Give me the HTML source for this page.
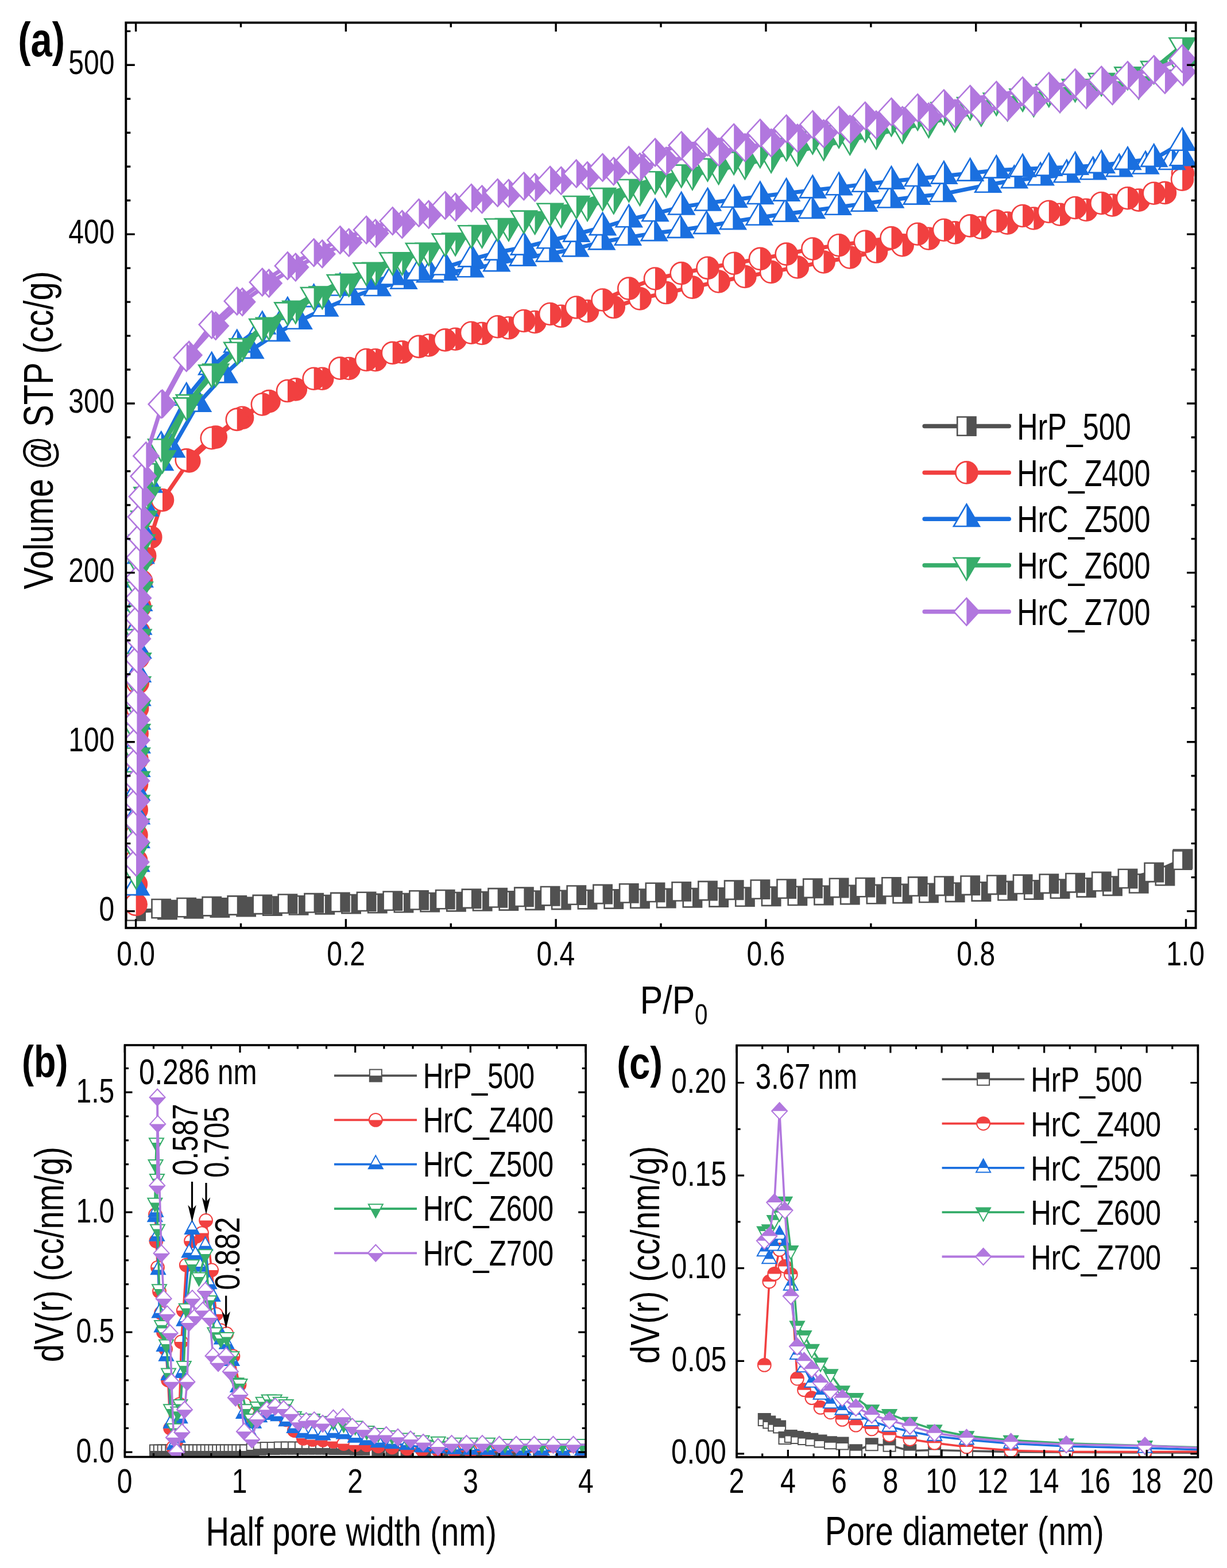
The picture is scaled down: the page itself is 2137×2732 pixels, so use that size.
<!DOCTYPE html><html><head><meta charset="utf-8"><title>Figure</title><style>html,body{margin:0;padding:0;background:#fff;overflow:hidden}svg{display:block}</style></head><body><svg width="2137" height="2732" viewBox="0 0 2137 2732"><rect width="2137" height="2732" fill="#fff"/><clipPath id="ca"><rect x="219.3" y="39.5" width="1863.3" height="1577.3"/></clipPath><g clip-path="url(#ca)"><polyline points="236.6,1587.6 291.47,1585.14 337.19,1583.21 382.91,1581.46 428.63,1579.95 474.36,1578.6 520.08,1577.35 565.8,1576.19 611.52,1575.1 657.25,1574.07 702.97,1573.08 748.69,1572.13 794.41,1571.2 840.14,1570.31 885.86,1569.48 931.58,1568.69 977.3,1567.94 1023.03,1567.2 1068.75,1566.48 1114.47,1565.75 1160.19,1565.02 1205.92,1564.27 1251.64,1563.48 1297.36,1562.65 1343.08,1561.77 1388.81,1560.87 1434.53,1559.95 1480.25,1559.02 1525.97,1558.04 1571.7,1557 1617.42,1555.9 1663.14,1554.71 1708.86,1553.43 1754.59,1552.03 1800.31,1550.46 1846.03,1548.63 1891.75,1546.44 1937.48,1543.7 1983.2,1539.34 2028.92,1526.08 2060.01,1496.64" fill="none" stroke="#515151" stroke-width="7" stroke-linejoin="round" stroke-linecap="round"/><polyline points="2059.1,1498.67 2009.72,1519.94 1964,1530.85 1918.27,1536.03 1872.55,1538.21 1826.83,1539.7 1781.11,1540.79 1735.38,1541.72 1689.66,1542.72 1643.94,1543.69 1598.22,1544.56 1552.49,1545.37 1506.77,1546.15 1461.05,1546.93 1415.33,1547.75 1369.6,1548.63 1323.88,1549.62 1278.16,1550.75 1232.44,1552.02 1186.71,1553.4 1140.99,1554.87 1095.27,1556.42 1049.55,1558 1003.82,1559.61 958.1,1561.21 912.38,1562.79 866.66,1564.32 820.93,1565.77 775.21,1567.12 729.49,1568.4 683.77,1569.63 638.04,1570.83 592.32,1572.05 546.6,1573.31 500.88,1574.64 456.83,1576.02 412.78,1577.52 368.74,1579.23 324.69,1581.13 280.65,1583.13" fill="none" stroke="#515151" stroke-width="7" stroke-linejoin="round" stroke-linecap="round"/><path d="M220.45,1571.45H252.75V1603.75H220.45Z" fill="#fff" stroke="#515151" stroke-width="2.6"/><path d="M236.6,1571.45H252.75V1603.75H236.6Z" fill="#515151"/><path d="M275.32,1568.99H307.62V1601.29H275.32Z" fill="#fff" stroke="#515151" stroke-width="2.6"/><path d="M291.47,1568.99H307.62V1601.29H291.47Z" fill="#515151"/><path d="M321.04,1567.06H353.34V1599.36H321.04Z" fill="#fff" stroke="#515151" stroke-width="2.6"/><path d="M337.19,1567.06H353.34V1599.36H337.19Z" fill="#515151"/><path d="M366.76,1565.31H399.06V1597.61H366.76Z" fill="#fff" stroke="#515151" stroke-width="2.6"/><path d="M382.91,1565.31H399.06V1597.61H382.91Z" fill="#515151"/><path d="M412.48,1563.8H444.78V1596.1H412.48Z" fill="#fff" stroke="#515151" stroke-width="2.6"/><path d="M428.63,1563.8H444.78V1596.1H428.63Z" fill="#515151"/><path d="M458.21,1562.45H490.51V1594.75H458.21Z" fill="#fff" stroke="#515151" stroke-width="2.6"/><path d="M474.36,1562.45H490.51V1594.75H474.36Z" fill="#515151"/><path d="M503.93,1561.2H536.23V1593.5H503.93Z" fill="#fff" stroke="#515151" stroke-width="2.6"/><path d="M520.08,1561.2H536.23V1593.5H520.08Z" fill="#515151"/><path d="M549.65,1560.04H581.95V1592.34H549.65Z" fill="#fff" stroke="#515151" stroke-width="2.6"/><path d="M565.8,1560.04H581.95V1592.34H565.8Z" fill="#515151"/><path d="M595.37,1558.95H627.67V1591.25H595.37Z" fill="#fff" stroke="#515151" stroke-width="2.6"/><path d="M611.52,1558.95H627.67V1591.25H611.52Z" fill="#515151"/><path d="M641.1,1557.92H673.4V1590.22H641.1Z" fill="#fff" stroke="#515151" stroke-width="2.6"/><path d="M657.25,1557.92H673.4V1590.22H657.25Z" fill="#515151"/><path d="M686.82,1556.93H719.12V1589.23H686.82Z" fill="#fff" stroke="#515151" stroke-width="2.6"/><path d="M702.97,1556.93H719.12V1589.23H702.97Z" fill="#515151"/><path d="M732.54,1555.98H764.84V1588.28H732.54Z" fill="#fff" stroke="#515151" stroke-width="2.6"/><path d="M748.69,1555.98H764.84V1588.28H748.69Z" fill="#515151"/><path d="M778.26,1555.05H810.56V1587.35H778.26Z" fill="#fff" stroke="#515151" stroke-width="2.6"/><path d="M794.41,1555.05H810.56V1587.35H794.41Z" fill="#515151"/><path d="M823.99,1554.16H856.29V1586.46H823.99Z" fill="#fff" stroke="#515151" stroke-width="2.6"/><path d="M840.14,1554.16H856.29V1586.46H840.14Z" fill="#515151"/><path d="M869.71,1553.33H902.01V1585.63H869.71Z" fill="#fff" stroke="#515151" stroke-width="2.6"/><path d="M885.86,1553.33H902.01V1585.63H885.86Z" fill="#515151"/><path d="M915.43,1552.54H947.73V1584.84H915.43Z" fill="#fff" stroke="#515151" stroke-width="2.6"/><path d="M931.58,1552.54H947.73V1584.84H931.58Z" fill="#515151"/><path d="M961.15,1551.79H993.45V1584.09H961.15Z" fill="#fff" stroke="#515151" stroke-width="2.6"/><path d="M977.3,1551.79H993.45V1584.09H977.3Z" fill="#515151"/><path d="M1006.88,1551.05H1039.18V1583.35H1006.88Z" fill="#fff" stroke="#515151" stroke-width="2.6"/><path d="M1023.03,1551.05H1039.18V1583.35H1023.03Z" fill="#515151"/><path d="M1052.6,1550.33H1084.9V1582.63H1052.6Z" fill="#fff" stroke="#515151" stroke-width="2.6"/><path d="M1068.75,1550.33H1084.9V1582.63H1068.75Z" fill="#515151"/><path d="M1098.32,1549.6H1130.62V1581.9H1098.32Z" fill="#fff" stroke="#515151" stroke-width="2.6"/><path d="M1114.47,1549.6H1130.62V1581.9H1114.47Z" fill="#515151"/><path d="M1144.04,1548.87H1176.34V1581.17H1144.04Z" fill="#fff" stroke="#515151" stroke-width="2.6"/><path d="M1160.19,1548.87H1176.34V1581.17H1160.19Z" fill="#515151"/><path d="M1189.77,1548.12H1222.07V1580.42H1189.77Z" fill="#fff" stroke="#515151" stroke-width="2.6"/><path d="M1205.92,1548.12H1222.07V1580.42H1205.92Z" fill="#515151"/><path d="M1235.49,1547.33H1267.79V1579.63H1235.49Z" fill="#fff" stroke="#515151" stroke-width="2.6"/><path d="M1251.64,1547.33H1267.79V1579.63H1251.64Z" fill="#515151"/><path d="M1281.21,1546.5H1313.51V1578.8H1281.21Z" fill="#fff" stroke="#515151" stroke-width="2.6"/><path d="M1297.36,1546.5H1313.51V1578.8H1297.36Z" fill="#515151"/><path d="M1326.93,1545.62H1359.23V1577.92H1326.93Z" fill="#fff" stroke="#515151" stroke-width="2.6"/><path d="M1343.08,1545.62H1359.23V1577.92H1343.08Z" fill="#515151"/><path d="M1372.66,1544.72H1404.96V1577.02H1372.66Z" fill="#fff" stroke="#515151" stroke-width="2.6"/><path d="M1388.81,1544.72H1404.96V1577.02H1388.81Z" fill="#515151"/><path d="M1418.38,1543.8H1450.68V1576.1H1418.38Z" fill="#fff" stroke="#515151" stroke-width="2.6"/><path d="M1434.53,1543.8H1450.68V1576.1H1434.53Z" fill="#515151"/><path d="M1464.1,1542.87H1496.4V1575.17H1464.1Z" fill="#fff" stroke="#515151" stroke-width="2.6"/><path d="M1480.25,1542.87H1496.4V1575.17H1480.25Z" fill="#515151"/><path d="M1509.82,1541.89H1542.12V1574.19H1509.82Z" fill="#fff" stroke="#515151" stroke-width="2.6"/><path d="M1525.97,1541.89H1542.12V1574.19H1525.97Z" fill="#515151"/><path d="M1555.55,1540.85H1587.85V1573.15H1555.55Z" fill="#fff" stroke="#515151" stroke-width="2.6"/><path d="M1571.7,1540.85H1587.85V1573.15H1571.7Z" fill="#515151"/><path d="M1601.27,1539.75H1633.57V1572.05H1601.27Z" fill="#fff" stroke="#515151" stroke-width="2.6"/><path d="M1617.42,1539.75H1633.57V1572.05H1617.42Z" fill="#515151"/><path d="M1646.99,1538.56H1679.29V1570.86H1646.99Z" fill="#fff" stroke="#515151" stroke-width="2.6"/><path d="M1663.14,1538.56H1679.29V1570.86H1663.14Z" fill="#515151"/><path d="M1692.71,1537.28H1725.01V1569.58H1692.71Z" fill="#fff" stroke="#515151" stroke-width="2.6"/><path d="M1708.86,1537.28H1725.01V1569.58H1708.86Z" fill="#515151"/><path d="M1738.44,1535.88H1770.74V1568.18H1738.44Z" fill="#fff" stroke="#515151" stroke-width="2.6"/><path d="M1754.59,1535.88H1770.74V1568.18H1754.59Z" fill="#515151"/><path d="M1784.16,1534.31H1816.46V1566.61H1784.16Z" fill="#fff" stroke="#515151" stroke-width="2.6"/><path d="M1800.31,1534.31H1816.46V1566.61H1800.31Z" fill="#515151"/><path d="M1829.88,1532.48H1862.18V1564.78H1829.88Z" fill="#fff" stroke="#515151" stroke-width="2.6"/><path d="M1846.03,1532.48H1862.18V1564.78H1846.03Z" fill="#515151"/><path d="M1875.6,1530.29H1907.9V1562.59H1875.6Z" fill="#fff" stroke="#515151" stroke-width="2.6"/><path d="M1891.75,1530.29H1907.9V1562.59H1891.75Z" fill="#515151"/><path d="M1921.33,1527.55H1953.63V1559.85H1921.33Z" fill="#fff" stroke="#515151" stroke-width="2.6"/><path d="M1937.48,1527.55H1953.63V1559.85H1937.48Z" fill="#515151"/><path d="M1967.05,1523.19H1999.35V1555.49H1967.05Z" fill="#fff" stroke="#515151" stroke-width="2.6"/><path d="M1983.2,1523.19H1999.35V1555.49H1983.2Z" fill="#515151"/><path d="M2012.77,1509.93H2045.07V1542.23H2012.77Z" fill="#fff" stroke="#515151" stroke-width="2.6"/><path d="M2028.92,1509.93H2045.07V1542.23H2028.92Z" fill="#515151"/><path d="M2043.86,1480.49H2076.16V1512.79H2043.86Z" fill="#fff" stroke="#515151" stroke-width="2.6"/><path d="M2060.01,1480.49H2076.16V1512.79H2060.01Z" fill="#515151"/><path d="M2042.95,1482.52H2075.25V1514.82H2042.95Z" fill="#fff" stroke="#515151" stroke-width="2.6"/><path d="M2059.1,1482.52H2075.25V1514.82H2059.1Z" fill="#515151"/><path d="M1993.57,1503.79H2025.87V1536.09H1993.57Z" fill="#fff" stroke="#515151" stroke-width="2.6"/><path d="M2009.72,1503.79H2025.87V1536.09H2009.72Z" fill="#515151"/><path d="M1947.85,1514.7H1980.15V1547H1947.85Z" fill="#fff" stroke="#515151" stroke-width="2.6"/><path d="M1964,1514.7H1980.15V1547H1964Z" fill="#515151"/><path d="M1902.12,1519.88H1934.42V1552.18H1902.12Z" fill="#fff" stroke="#515151" stroke-width="2.6"/><path d="M1918.27,1519.88H1934.42V1552.18H1918.27Z" fill="#515151"/><path d="M1856.4,1522.06H1888.7V1554.36H1856.4Z" fill="#fff" stroke="#515151" stroke-width="2.6"/><path d="M1872.55,1522.06H1888.7V1554.36H1872.55Z" fill="#515151"/><path d="M1810.68,1523.55H1842.98V1555.85H1810.68Z" fill="#fff" stroke="#515151" stroke-width="2.6"/><path d="M1826.83,1523.55H1842.98V1555.85H1826.83Z" fill="#515151"/><path d="M1764.96,1524.64H1797.26V1556.94H1764.96Z" fill="#fff" stroke="#515151" stroke-width="2.6"/><path d="M1781.11,1524.64H1797.26V1556.94H1781.11Z" fill="#515151"/><path d="M1719.23,1525.57H1751.53V1557.87H1719.23Z" fill="#fff" stroke="#515151" stroke-width="2.6"/><path d="M1735.38,1525.57H1751.53V1557.87H1735.38Z" fill="#515151"/><path d="M1673.51,1526.57H1705.81V1558.87H1673.51Z" fill="#fff" stroke="#515151" stroke-width="2.6"/><path d="M1689.66,1526.57H1705.81V1558.87H1689.66Z" fill="#515151"/><path d="M1627.79,1527.54H1660.09V1559.84H1627.79Z" fill="#fff" stroke="#515151" stroke-width="2.6"/><path d="M1643.94,1527.54H1660.09V1559.84H1643.94Z" fill="#515151"/><path d="M1582.07,1528.41H1614.37V1560.71H1582.07Z" fill="#fff" stroke="#515151" stroke-width="2.6"/><path d="M1598.22,1528.41H1614.37V1560.71H1598.22Z" fill="#515151"/><path d="M1536.34,1529.22H1568.64V1561.52H1536.34Z" fill="#fff" stroke="#515151" stroke-width="2.6"/><path d="M1552.49,1529.22H1568.64V1561.52H1552.49Z" fill="#515151"/><path d="M1490.62,1530H1522.92V1562.3H1490.62Z" fill="#fff" stroke="#515151" stroke-width="2.6"/><path d="M1506.77,1530H1522.92V1562.3H1506.77Z" fill="#515151"/><path d="M1444.9,1530.78H1477.2V1563.08H1444.9Z" fill="#fff" stroke="#515151" stroke-width="2.6"/><path d="M1461.05,1530.78H1477.2V1563.08H1461.05Z" fill="#515151"/><path d="M1399.18,1531.6H1431.48V1563.9H1399.18Z" fill="#fff" stroke="#515151" stroke-width="2.6"/><path d="M1415.33,1531.6H1431.48V1563.9H1415.33Z" fill="#515151"/><path d="M1353.45,1532.48H1385.75V1564.78H1353.45Z" fill="#fff" stroke="#515151" stroke-width="2.6"/><path d="M1369.6,1532.48H1385.75V1564.78H1369.6Z" fill="#515151"/><path d="M1307.73,1533.47H1340.03V1565.77H1307.73Z" fill="#fff" stroke="#515151" stroke-width="2.6"/><path d="M1323.88,1533.47H1340.03V1565.77H1323.88Z" fill="#515151"/><path d="M1262.01,1534.6H1294.31V1566.9H1262.01Z" fill="#fff" stroke="#515151" stroke-width="2.6"/><path d="M1278.16,1534.6H1294.31V1566.9H1278.16Z" fill="#515151"/><path d="M1216.29,1535.87H1248.59V1568.17H1216.29Z" fill="#fff" stroke="#515151" stroke-width="2.6"/><path d="M1232.44,1535.87H1248.59V1568.17H1232.44Z" fill="#515151"/><path d="M1170.56,1537.25H1202.86V1569.55H1170.56Z" fill="#fff" stroke="#515151" stroke-width="2.6"/><path d="M1186.71,1537.25H1202.86V1569.55H1186.71Z" fill="#515151"/><path d="M1124.84,1538.72H1157.14V1571.02H1124.84Z" fill="#fff" stroke="#515151" stroke-width="2.6"/><path d="M1140.99,1538.72H1157.14V1571.02H1140.99Z" fill="#515151"/><path d="M1079.12,1540.27H1111.42V1572.57H1079.12Z" fill="#fff" stroke="#515151" stroke-width="2.6"/><path d="M1095.27,1540.27H1111.42V1572.57H1095.27Z" fill="#515151"/><path d="M1033.4,1541.85H1065.7V1574.15H1033.4Z" fill="#fff" stroke="#515151" stroke-width="2.6"/><path d="M1049.55,1541.85H1065.7V1574.15H1049.55Z" fill="#515151"/><path d="M987.67,1543.46H1019.97V1575.76H987.67Z" fill="#fff" stroke="#515151" stroke-width="2.6"/><path d="M1003.82,1543.46H1019.97V1575.76H1003.82Z" fill="#515151"/><path d="M941.95,1545.06H974.25V1577.36H941.95Z" fill="#fff" stroke="#515151" stroke-width="2.6"/><path d="M958.1,1545.06H974.25V1577.36H958.1Z" fill="#515151"/><path d="M896.23,1546.64H928.53V1578.94H896.23Z" fill="#fff" stroke="#515151" stroke-width="2.6"/><path d="M912.38,1546.64H928.53V1578.94H912.38Z" fill="#515151"/><path d="M850.51,1548.17H882.81V1580.47H850.51Z" fill="#fff" stroke="#515151" stroke-width="2.6"/><path d="M866.66,1548.17H882.81V1580.47H866.66Z" fill="#515151"/><path d="M804.78,1549.62H837.08V1581.92H804.78Z" fill="#fff" stroke="#515151" stroke-width="2.6"/><path d="M820.93,1549.62H837.08V1581.92H820.93Z" fill="#515151"/><path d="M759.06,1550.97H791.36V1583.27H759.06Z" fill="#fff" stroke="#515151" stroke-width="2.6"/><path d="M775.21,1550.97H791.36V1583.27H775.21Z" fill="#515151"/><path d="M713.34,1552.25H745.64V1584.55H713.34Z" fill="#fff" stroke="#515151" stroke-width="2.6"/><path d="M729.49,1552.25H745.64V1584.55H729.49Z" fill="#515151"/><path d="M667.62,1553.48H699.92V1585.78H667.62Z" fill="#fff" stroke="#515151" stroke-width="2.6"/><path d="M683.77,1553.48H699.92V1585.78H683.77Z" fill="#515151"/><path d="M621.89,1554.68H654.19V1586.98H621.89Z" fill="#fff" stroke="#515151" stroke-width="2.6"/><path d="M638.04,1554.68H654.19V1586.98H638.04Z" fill="#515151"/><path d="M576.17,1555.9H608.47V1588.2H576.17Z" fill="#fff" stroke="#515151" stroke-width="2.6"/><path d="M592.32,1555.9H608.47V1588.2H592.32Z" fill="#515151"/><path d="M530.45,1557.16H562.75V1589.46H530.45Z" fill="#fff" stroke="#515151" stroke-width="2.6"/><path d="M546.6,1557.16H562.75V1589.46H546.6Z" fill="#515151"/><path d="M484.73,1558.49H517.03V1590.79H484.73Z" fill="#fff" stroke="#515151" stroke-width="2.6"/><path d="M500.88,1558.49H517.03V1590.79H500.88Z" fill="#515151"/><path d="M440.68,1559.87H472.98V1592.17H440.68Z" fill="#fff" stroke="#515151" stroke-width="2.6"/><path d="M456.83,1559.87H472.98V1592.17H456.83Z" fill="#515151"/><path d="M396.63,1561.37H428.93V1593.67H396.63Z" fill="#fff" stroke="#515151" stroke-width="2.6"/><path d="M412.78,1561.37H428.93V1593.67H412.78Z" fill="#515151"/><path d="M352.59,1563.08H384.89V1595.38H352.59Z" fill="#fff" stroke="#515151" stroke-width="2.6"/><path d="M368.74,1563.08H384.89V1595.38H368.74Z" fill="#515151"/><path d="M308.54,1564.98H340.84V1597.28H308.54Z" fill="#fff" stroke="#515151" stroke-width="2.6"/><path d="M324.69,1564.98H340.84V1597.28H324.69Z" fill="#515151"/><path d="M264.5,1566.98H296.8V1599.28H264.5Z" fill="#fff" stroke="#515151" stroke-width="2.6"/><path d="M280.65,1566.98H296.8V1599.28H280.65Z" fill="#515151"/><polyline points="236.67,1575.81 236.88,1540.42 237.14,1499.14 237.43,1454.91 237.7,1410.68 237.98,1366.45 238.28,1322.23 238.64,1278 239.17,1233.77 239.79,1189.54 240.54,1145.31 241.58,1101.08 243.43,1056.85 246.18,1012.62 252.21,968.39 262.3,935.96 282.98,871.34 329.35,803.35 375.73,761.58 422.1,727.8 468.48,699.13 514.85,678.33 561.23,659.77 607.61,641.96 653.98,627.18 700.36,613.39 746.73,601.52 793.11,590.71 839.48,580.99 885.86,571.32 931.58,561 977.3,550.79 1023.03,541.95 1068.75,535.05 1114.47,520.36 1160.19,510.04 1205.92,500.61 1251.64,490.5 1297.36,481.97 1343.08,473.92 1388.81,465.43 1434.53,456.49 1480.25,448.46 1525.97,438.54 1571.7,427.24 1617.42,415.77 1663.14,405.36 1708.86,396.63 1754.59,388.63 1800.31,380.47 1846.03,373.69 1891.75,365.7 1937.48,357.44 1983.2,348.6 2028.92,335.92 2060.01,302.01" fill="none" stroke="#F14040" stroke-width="7" stroke-linejoin="round" stroke-linecap="round"/><polyline points="2059.1,312.62 2009.72,336.7 1964,345.2 1918.27,353.93 1872.55,361.93 1826.83,368.72 1781.11,375.96 1735.38,385.13 1689.66,393.4 1643.94,400.77 1598.22,407.73 1552.49,414.39 1506.77,420.87 1461.05,427.27 1415.33,433.46 1369.6,442.66 1323.88,450.9 1278.16,458.74 1232.44,466.8 1186.71,476.17 1140.99,485.52 1095.27,502.64 1049.55,522.47 1003.82,535.53 958.1,547.01 912.38,559.01 866.66,569.25 820.93,579.75 775.21,592.35 729.49,603.84 683.77,614.88 638.04,626.99 592.32,641.67 546.6,659.73 500.88,681.04 456.83,704.52 412.78,730.85 368.74,763.23 324.69,801.35" fill="none" stroke="#F14040" stroke-width="7" stroke-linejoin="round" stroke-linecap="round"/><path d="M217.67,1575.81A19,19 0 1 1 255.67,1575.81A19,19 0 1 1 217.67,1575.81Z" fill="#fff" stroke="#F14040" stroke-width="2.6"/><path d="M236.67,1556.81A19,19 0 0 1 236.67,1594.81Z" fill="#F14040"/><path d="M217.88,1540.42A19,19 0 1 1 255.88,1540.42A19,19 0 1 1 217.88,1540.42Z" fill="#fff" stroke="#F14040" stroke-width="2.6"/><path d="M236.88,1521.42A19,19 0 0 1 236.88,1559.42Z" fill="#F14040"/><path d="M218.14,1499.14A19,19 0 1 1 256.14,1499.14A19,19 0 1 1 218.14,1499.14Z" fill="#fff" stroke="#F14040" stroke-width="2.6"/><path d="M237.14,1480.14A19,19 0 0 1 237.14,1518.14Z" fill="#F14040"/><path d="M218.43,1454.91A19,19 0 1 1 256.43,1454.91A19,19 0 1 1 218.43,1454.91Z" fill="#fff" stroke="#F14040" stroke-width="2.6"/><path d="M237.43,1435.91A19,19 0 0 1 237.43,1473.91Z" fill="#F14040"/><path d="M218.7,1410.68A19,19 0 1 1 256.7,1410.68A19,19 0 1 1 218.7,1410.68Z" fill="#fff" stroke="#F14040" stroke-width="2.6"/><path d="M237.7,1391.68A19,19 0 0 1 237.7,1429.68Z" fill="#F14040"/><path d="M218.98,1366.45A19,19 0 1 1 256.98,1366.45A19,19 0 1 1 218.98,1366.45Z" fill="#fff" stroke="#F14040" stroke-width="2.6"/><path d="M237.98,1347.45A19,19 0 0 1 237.98,1385.45Z" fill="#F14040"/><path d="M219.28,1322.23A19,19 0 1 1 257.28,1322.23A19,19 0 1 1 219.28,1322.23Z" fill="#fff" stroke="#F14040" stroke-width="2.6"/><path d="M238.28,1303.23A19,19 0 0 1 238.28,1341.23Z" fill="#F14040"/><path d="M219.64,1278A19,19 0 1 1 257.64,1278A19,19 0 1 1 219.64,1278Z" fill="#fff" stroke="#F14040" stroke-width="2.6"/><path d="M238.64,1259A19,19 0 0 1 238.64,1297Z" fill="#F14040"/><path d="M220.17,1233.77A19,19 0 1 1 258.17,1233.77A19,19 0 1 1 220.17,1233.77Z" fill="#fff" stroke="#F14040" stroke-width="2.6"/><path d="M239.17,1214.77A19,19 0 0 1 239.17,1252.77Z" fill="#F14040"/><path d="M220.79,1189.54A19,19 0 1 1 258.79,1189.54A19,19 0 1 1 220.79,1189.54Z" fill="#fff" stroke="#F14040" stroke-width="2.6"/><path d="M239.79,1170.54A19,19 0 0 1 239.79,1208.54Z" fill="#F14040"/><path d="M221.54,1145.31A19,19 0 1 1 259.54,1145.31A19,19 0 1 1 221.54,1145.31Z" fill="#fff" stroke="#F14040" stroke-width="2.6"/><path d="M240.54,1126.31A19,19 0 0 1 240.54,1164.31Z" fill="#F14040"/><path d="M222.58,1101.08A19,19 0 1 1 260.58,1101.08A19,19 0 1 1 222.58,1101.08Z" fill="#fff" stroke="#F14040" stroke-width="2.6"/><path d="M241.58,1082.08A19,19 0 0 1 241.58,1120.08Z" fill="#F14040"/><path d="M224.43,1056.85A19,19 0 1 1 262.43,1056.85A19,19 0 1 1 224.43,1056.85Z" fill="#fff" stroke="#F14040" stroke-width="2.6"/><path d="M243.43,1037.85A19,19 0 0 1 243.43,1075.85Z" fill="#F14040"/><path d="M227.18,1012.62A19,19 0 1 1 265.18,1012.62A19,19 0 1 1 227.18,1012.62Z" fill="#fff" stroke="#F14040" stroke-width="2.6"/><path d="M246.18,993.62A19,19 0 0 1 246.18,1031.62Z" fill="#F14040"/><path d="M233.21,968.39A19,19 0 1 1 271.21,968.39A19,19 0 1 1 233.21,968.39Z" fill="#fff" stroke="#F14040" stroke-width="2.6"/><path d="M252.21,949.39A19,19 0 0 1 252.21,987.39Z" fill="#F14040"/><path d="M243.3,935.96A19,19 0 1 1 281.3,935.96A19,19 0 1 1 243.3,935.96Z" fill="#fff" stroke="#F14040" stroke-width="2.6"/><path d="M262.3,916.96A19,19 0 0 1 262.3,954.96Z" fill="#F14040"/><path d="M263.98,871.34A19,19 0 1 1 301.98,871.34A19,19 0 1 1 263.98,871.34Z" fill="#fff" stroke="#F14040" stroke-width="2.6"/><path d="M282.98,852.34A19,19 0 0 1 282.98,890.34Z" fill="#F14040"/><path d="M310.35,803.35A19,19 0 1 1 348.35,803.35A19,19 0 1 1 310.35,803.35Z" fill="#fff" stroke="#F14040" stroke-width="2.6"/><path d="M329.35,784.35A19,19 0 0 1 329.35,822.35Z" fill="#F14040"/><path d="M356.73,761.58A19,19 0 1 1 394.73,761.58A19,19 0 1 1 356.73,761.58Z" fill="#fff" stroke="#F14040" stroke-width="2.6"/><path d="M375.73,742.58A19,19 0 0 1 375.73,780.58Z" fill="#F14040"/><path d="M403.1,727.8A19,19 0 1 1 441.1,727.8A19,19 0 1 1 403.1,727.8Z" fill="#fff" stroke="#F14040" stroke-width="2.6"/><path d="M422.1,708.8A19,19 0 0 1 422.1,746.8Z" fill="#F14040"/><path d="M449.48,699.13A19,19 0 1 1 487.48,699.13A19,19 0 1 1 449.48,699.13Z" fill="#fff" stroke="#F14040" stroke-width="2.6"/><path d="M468.48,680.13A19,19 0 0 1 468.48,718.13Z" fill="#F14040"/><path d="M495.85,678.33A19,19 0 1 1 533.85,678.33A19,19 0 1 1 495.85,678.33Z" fill="#fff" stroke="#F14040" stroke-width="2.6"/><path d="M514.85,659.33A19,19 0 0 1 514.85,697.33Z" fill="#F14040"/><path d="M542.23,659.77A19,19 0 1 1 580.23,659.77A19,19 0 1 1 542.23,659.77Z" fill="#fff" stroke="#F14040" stroke-width="2.6"/><path d="M561.23,640.77A19,19 0 0 1 561.23,678.77Z" fill="#F14040"/><path d="M588.61,641.96A19,19 0 1 1 626.61,641.96A19,19 0 1 1 588.61,641.96Z" fill="#fff" stroke="#F14040" stroke-width="2.6"/><path d="M607.61,622.96A19,19 0 0 1 607.61,660.96Z" fill="#F14040"/><path d="M634.98,627.18A19,19 0 1 1 672.98,627.18A19,19 0 1 1 634.98,627.18Z" fill="#fff" stroke="#F14040" stroke-width="2.6"/><path d="M653.98,608.18A19,19 0 0 1 653.98,646.18Z" fill="#F14040"/><path d="M681.36,613.39A19,19 0 1 1 719.36,613.39A19,19 0 1 1 681.36,613.39Z" fill="#fff" stroke="#F14040" stroke-width="2.6"/><path d="M700.36,594.39A19,19 0 0 1 700.36,632.39Z" fill="#F14040"/><path d="M727.73,601.52A19,19 0 1 1 765.73,601.52A19,19 0 1 1 727.73,601.52Z" fill="#fff" stroke="#F14040" stroke-width="2.6"/><path d="M746.73,582.52A19,19 0 0 1 746.73,620.52Z" fill="#F14040"/><path d="M774.11,590.71A19,19 0 1 1 812.11,590.71A19,19 0 1 1 774.11,590.71Z" fill="#fff" stroke="#F14040" stroke-width="2.6"/><path d="M793.11,571.71A19,19 0 0 1 793.11,609.71Z" fill="#F14040"/><path d="M820.48,580.99A19,19 0 1 1 858.48,580.99A19,19 0 1 1 820.48,580.99Z" fill="#fff" stroke="#F14040" stroke-width="2.6"/><path d="M839.48,561.99A19,19 0 0 1 839.48,599.99Z" fill="#F14040"/><path d="M866.86,571.32A19,19 0 1 1 904.86,571.32A19,19 0 1 1 866.86,571.32Z" fill="#fff" stroke="#F14040" stroke-width="2.6"/><path d="M885.86,552.32A19,19 0 0 1 885.86,590.32Z" fill="#F14040"/><path d="M912.58,561A19,19 0 1 1 950.58,561A19,19 0 1 1 912.58,561Z" fill="#fff" stroke="#F14040" stroke-width="2.6"/><path d="M931.58,542A19,19 0 0 1 931.58,580Z" fill="#F14040"/><path d="M958.3,550.79A19,19 0 1 1 996.3,550.79A19,19 0 1 1 958.3,550.79Z" fill="#fff" stroke="#F14040" stroke-width="2.6"/><path d="M977.3,531.79A19,19 0 0 1 977.3,569.79Z" fill="#F14040"/><path d="M1004.03,541.95A19,19 0 1 1 1042.03,541.95A19,19 0 1 1 1004.03,541.95Z" fill="#fff" stroke="#F14040" stroke-width="2.6"/><path d="M1023.03,522.95A19,19 0 0 1 1023.03,560.95Z" fill="#F14040"/><path d="M1049.75,535.05A19,19 0 1 1 1087.75,535.05A19,19 0 1 1 1049.75,535.05Z" fill="#fff" stroke="#F14040" stroke-width="2.6"/><path d="M1068.75,516.05A19,19 0 0 1 1068.75,554.05Z" fill="#F14040"/><path d="M1095.47,520.36A19,19 0 1 1 1133.47,520.36A19,19 0 1 1 1095.47,520.36Z" fill="#fff" stroke="#F14040" stroke-width="2.6"/><path d="M1114.47,501.36A19,19 0 0 1 1114.47,539.36Z" fill="#F14040"/><path d="M1141.19,510.04A19,19 0 1 1 1179.19,510.04A19,19 0 1 1 1141.19,510.04Z" fill="#fff" stroke="#F14040" stroke-width="2.6"/><path d="M1160.19,491.04A19,19 0 0 1 1160.19,529.04Z" fill="#F14040"/><path d="M1186.92,500.61A19,19 0 1 1 1224.92,500.61A19,19 0 1 1 1186.92,500.61Z" fill="#fff" stroke="#F14040" stroke-width="2.6"/><path d="M1205.92,481.61A19,19 0 0 1 1205.92,519.61Z" fill="#F14040"/><path d="M1232.64,490.5A19,19 0 1 1 1270.64,490.5A19,19 0 1 1 1232.64,490.5Z" fill="#fff" stroke="#F14040" stroke-width="2.6"/><path d="M1251.64,471.5A19,19 0 0 1 1251.64,509.5Z" fill="#F14040"/><path d="M1278.36,481.97A19,19 0 1 1 1316.36,481.97A19,19 0 1 1 1278.36,481.97Z" fill="#fff" stroke="#F14040" stroke-width="2.6"/><path d="M1297.36,462.97A19,19 0 0 1 1297.36,500.97Z" fill="#F14040"/><path d="M1324.08,473.92A19,19 0 1 1 1362.08,473.92A19,19 0 1 1 1324.08,473.92Z" fill="#fff" stroke="#F14040" stroke-width="2.6"/><path d="M1343.08,454.92A19,19 0 0 1 1343.08,492.92Z" fill="#F14040"/><path d="M1369.81,465.43A19,19 0 1 1 1407.81,465.43A19,19 0 1 1 1369.81,465.43Z" fill="#fff" stroke="#F14040" stroke-width="2.6"/><path d="M1388.81,446.43A19,19 0 0 1 1388.81,484.43Z" fill="#F14040"/><path d="M1415.53,456.49A19,19 0 1 1 1453.53,456.49A19,19 0 1 1 1415.53,456.49Z" fill="#fff" stroke="#F14040" stroke-width="2.6"/><path d="M1434.53,437.49A19,19 0 0 1 1434.53,475.49Z" fill="#F14040"/><path d="M1461.25,448.46A19,19 0 1 1 1499.25,448.46A19,19 0 1 1 1461.25,448.46Z" fill="#fff" stroke="#F14040" stroke-width="2.6"/><path d="M1480.25,429.46A19,19 0 0 1 1480.25,467.46Z" fill="#F14040"/><path d="M1506.97,438.54A19,19 0 1 1 1544.97,438.54A19,19 0 1 1 1506.97,438.54Z" fill="#fff" stroke="#F14040" stroke-width="2.6"/><path d="M1525.97,419.54A19,19 0 0 1 1525.97,457.54Z" fill="#F14040"/><path d="M1552.7,427.24A19,19 0 1 1 1590.7,427.24A19,19 0 1 1 1552.7,427.24Z" fill="#fff" stroke="#F14040" stroke-width="2.6"/><path d="M1571.7,408.24A19,19 0 0 1 1571.7,446.24Z" fill="#F14040"/><path d="M1598.42,415.77A19,19 0 1 1 1636.42,415.77A19,19 0 1 1 1598.42,415.77Z" fill="#fff" stroke="#F14040" stroke-width="2.6"/><path d="M1617.42,396.77A19,19 0 0 1 1617.42,434.77Z" fill="#F14040"/><path d="M1644.14,405.36A19,19 0 1 1 1682.14,405.36A19,19 0 1 1 1644.14,405.36Z" fill="#fff" stroke="#F14040" stroke-width="2.6"/><path d="M1663.14,386.36A19,19 0 0 1 1663.14,424.36Z" fill="#F14040"/><path d="M1689.86,396.63A19,19 0 1 1 1727.86,396.63A19,19 0 1 1 1689.86,396.63Z" fill="#fff" stroke="#F14040" stroke-width="2.6"/><path d="M1708.86,377.63A19,19 0 0 1 1708.86,415.63Z" fill="#F14040"/><path d="M1735.59,388.63A19,19 0 1 1 1773.59,388.63A19,19 0 1 1 1735.59,388.63Z" fill="#fff" stroke="#F14040" stroke-width="2.6"/><path d="M1754.59,369.63A19,19 0 0 1 1754.59,407.63Z" fill="#F14040"/><path d="M1781.31,380.47A19,19 0 1 1 1819.31,380.47A19,19 0 1 1 1781.31,380.47Z" fill="#fff" stroke="#F14040" stroke-width="2.6"/><path d="M1800.31,361.47A19,19 0 0 1 1800.31,399.47Z" fill="#F14040"/><path d="M1827.03,373.69A19,19 0 1 1 1865.03,373.69A19,19 0 1 1 1827.03,373.69Z" fill="#fff" stroke="#F14040" stroke-width="2.6"/><path d="M1846.03,354.69A19,19 0 0 1 1846.03,392.69Z" fill="#F14040"/><path d="M1872.75,365.7A19,19 0 1 1 1910.75,365.7A19,19 0 1 1 1872.75,365.7Z" fill="#fff" stroke="#F14040" stroke-width="2.6"/><path d="M1891.75,346.7A19,19 0 0 1 1891.75,384.7Z" fill="#F14040"/><path d="M1918.48,357.44A19,19 0 1 1 1956.48,357.44A19,19 0 1 1 1918.48,357.44Z" fill="#fff" stroke="#F14040" stroke-width="2.6"/><path d="M1937.48,338.44A19,19 0 0 1 1937.48,376.44Z" fill="#F14040"/><path d="M1964.2,348.6A19,19 0 1 1 2002.2,348.6A19,19 0 1 1 1964.2,348.6Z" fill="#fff" stroke="#F14040" stroke-width="2.6"/><path d="M1983.2,329.6A19,19 0 0 1 1983.2,367.6Z" fill="#F14040"/><path d="M2009.92,335.92A19,19 0 1 1 2047.92,335.92A19,19 0 1 1 2009.92,335.92Z" fill="#fff" stroke="#F14040" stroke-width="2.6"/><path d="M2028.92,316.92A19,19 0 0 1 2028.92,354.92Z" fill="#F14040"/><path d="M2041.01,302.01A19,19 0 1 1 2079.01,302.01A19,19 0 1 1 2041.01,302.01Z" fill="#fff" stroke="#F14040" stroke-width="2.6"/><path d="M2060.01,283.01A19,19 0 0 1 2060.01,321.01Z" fill="#F14040"/><path d="M2040.1,312.62A19,19 0 1 1 2078.1,312.62A19,19 0 1 1 2040.1,312.62Z" fill="#fff" stroke="#F14040" stroke-width="2.6"/><path d="M2059.1,293.62A19,19 0 0 1 2059.1,331.62Z" fill="#F14040"/><path d="M1990.72,336.7A19,19 0 1 1 2028.72,336.7A19,19 0 1 1 1990.72,336.7Z" fill="#fff" stroke="#F14040" stroke-width="2.6"/><path d="M2009.72,317.7A19,19 0 0 1 2009.72,355.7Z" fill="#F14040"/><path d="M1945,345.2A19,19 0 1 1 1983,345.2A19,19 0 1 1 1945,345.2Z" fill="#fff" stroke="#F14040" stroke-width="2.6"/><path d="M1964,326.2A19,19 0 0 1 1964,364.2Z" fill="#F14040"/><path d="M1899.27,353.93A19,19 0 1 1 1937.27,353.93A19,19 0 1 1 1899.27,353.93Z" fill="#fff" stroke="#F14040" stroke-width="2.6"/><path d="M1918.27,334.93A19,19 0 0 1 1918.27,372.93Z" fill="#F14040"/><path d="M1853.55,361.93A19,19 0 1 1 1891.55,361.93A19,19 0 1 1 1853.55,361.93Z" fill="#fff" stroke="#F14040" stroke-width="2.6"/><path d="M1872.55,342.93A19,19 0 0 1 1872.55,380.93Z" fill="#F14040"/><path d="M1807.83,368.72A19,19 0 1 1 1845.83,368.72A19,19 0 1 1 1807.83,368.72Z" fill="#fff" stroke="#F14040" stroke-width="2.6"/><path d="M1826.83,349.72A19,19 0 0 1 1826.83,387.72Z" fill="#F14040"/><path d="M1762.11,375.96A19,19 0 1 1 1800.11,375.96A19,19 0 1 1 1762.11,375.96Z" fill="#fff" stroke="#F14040" stroke-width="2.6"/><path d="M1781.11,356.96A19,19 0 0 1 1781.11,394.96Z" fill="#F14040"/><path d="M1716.38,385.13A19,19 0 1 1 1754.38,385.13A19,19 0 1 1 1716.38,385.13Z" fill="#fff" stroke="#F14040" stroke-width="2.6"/><path d="M1735.38,366.13A19,19 0 0 1 1735.38,404.13Z" fill="#F14040"/><path d="M1670.66,393.4A19,19 0 1 1 1708.66,393.4A19,19 0 1 1 1670.66,393.4Z" fill="#fff" stroke="#F14040" stroke-width="2.6"/><path d="M1689.66,374.4A19,19 0 0 1 1689.66,412.4Z" fill="#F14040"/><path d="M1624.94,400.77A19,19 0 1 1 1662.94,400.77A19,19 0 1 1 1624.94,400.77Z" fill="#fff" stroke="#F14040" stroke-width="2.6"/><path d="M1643.94,381.77A19,19 0 0 1 1643.94,419.77Z" fill="#F14040"/><path d="M1579.22,407.73A19,19 0 1 1 1617.22,407.73A19,19 0 1 1 1579.22,407.73Z" fill="#fff" stroke="#F14040" stroke-width="2.6"/><path d="M1598.22,388.73A19,19 0 0 1 1598.22,426.73Z" fill="#F14040"/><path d="M1533.49,414.39A19,19 0 1 1 1571.49,414.39A19,19 0 1 1 1533.49,414.39Z" fill="#fff" stroke="#F14040" stroke-width="2.6"/><path d="M1552.49,395.39A19,19 0 0 1 1552.49,433.39Z" fill="#F14040"/><path d="M1487.77,420.87A19,19 0 1 1 1525.77,420.87A19,19 0 1 1 1487.77,420.87Z" fill="#fff" stroke="#F14040" stroke-width="2.6"/><path d="M1506.77,401.87A19,19 0 0 1 1506.77,439.87Z" fill="#F14040"/><path d="M1442.05,427.27A19,19 0 1 1 1480.05,427.27A19,19 0 1 1 1442.05,427.27Z" fill="#fff" stroke="#F14040" stroke-width="2.6"/><path d="M1461.05,408.27A19,19 0 0 1 1461.05,446.27Z" fill="#F14040"/><path d="M1396.33,433.46A19,19 0 1 1 1434.33,433.46A19,19 0 1 1 1396.33,433.46Z" fill="#fff" stroke="#F14040" stroke-width="2.6"/><path d="M1415.33,414.46A19,19 0 0 1 1415.33,452.46Z" fill="#F14040"/><path d="M1350.6,442.66A19,19 0 1 1 1388.6,442.66A19,19 0 1 1 1350.6,442.66Z" fill="#fff" stroke="#F14040" stroke-width="2.6"/><path d="M1369.6,423.66A19,19 0 0 1 1369.6,461.66Z" fill="#F14040"/><path d="M1304.88,450.9A19,19 0 1 1 1342.88,450.9A19,19 0 1 1 1304.88,450.9Z" fill="#fff" stroke="#F14040" stroke-width="2.6"/><path d="M1323.88,431.9A19,19 0 0 1 1323.88,469.9Z" fill="#F14040"/><path d="M1259.16,458.74A19,19 0 1 1 1297.16,458.74A19,19 0 1 1 1259.16,458.74Z" fill="#fff" stroke="#F14040" stroke-width="2.6"/><path d="M1278.16,439.74A19,19 0 0 1 1278.16,477.74Z" fill="#F14040"/><path d="M1213.44,466.8A19,19 0 1 1 1251.44,466.8A19,19 0 1 1 1213.44,466.8Z" fill="#fff" stroke="#F14040" stroke-width="2.6"/><path d="M1232.44,447.8A19,19 0 0 1 1232.44,485.8Z" fill="#F14040"/><path d="M1167.71,476.17A19,19 0 1 1 1205.71,476.17A19,19 0 1 1 1167.71,476.17Z" fill="#fff" stroke="#F14040" stroke-width="2.6"/><path d="M1186.71,457.17A19,19 0 0 1 1186.71,495.17Z" fill="#F14040"/><path d="M1121.99,485.52A19,19 0 1 1 1159.99,485.52A19,19 0 1 1 1121.99,485.52Z" fill="#fff" stroke="#F14040" stroke-width="2.6"/><path d="M1140.99,466.52A19,19 0 0 1 1140.99,504.52Z" fill="#F14040"/><path d="M1076.27,502.64A19,19 0 1 1 1114.27,502.64A19,19 0 1 1 1076.27,502.64Z" fill="#fff" stroke="#F14040" stroke-width="2.6"/><path d="M1095.27,483.64A19,19 0 0 1 1095.27,521.64Z" fill="#F14040"/><path d="M1030.55,522.47A19,19 0 1 1 1068.55,522.47A19,19 0 1 1 1030.55,522.47Z" fill="#fff" stroke="#F14040" stroke-width="2.6"/><path d="M1049.55,503.47A19,19 0 0 1 1049.55,541.47Z" fill="#F14040"/><path d="M984.82,535.53A19,19 0 1 1 1022.82,535.53A19,19 0 1 1 984.82,535.53Z" fill="#fff" stroke="#F14040" stroke-width="2.6"/><path d="M1003.82,516.53A19,19 0 0 1 1003.82,554.53Z" fill="#F14040"/><path d="M939.1,547.01A19,19 0 1 1 977.1,547.01A19,19 0 1 1 939.1,547.01Z" fill="#fff" stroke="#F14040" stroke-width="2.6"/><path d="M958.1,528.01A19,19 0 0 1 958.1,566.01Z" fill="#F14040"/><path d="M893.38,559.01A19,19 0 1 1 931.38,559.01A19,19 0 1 1 893.38,559.01Z" fill="#fff" stroke="#F14040" stroke-width="2.6"/><path d="M912.38,540.01A19,19 0 0 1 912.38,578.01Z" fill="#F14040"/><path d="M847.66,569.25A19,19 0 1 1 885.66,569.25A19,19 0 1 1 847.66,569.25Z" fill="#fff" stroke="#F14040" stroke-width="2.6"/><path d="M866.66,550.25A19,19 0 0 1 866.66,588.25Z" fill="#F14040"/><path d="M801.93,579.75A19,19 0 1 1 839.93,579.75A19,19 0 1 1 801.93,579.75Z" fill="#fff" stroke="#F14040" stroke-width="2.6"/><path d="M820.93,560.75A19,19 0 0 1 820.93,598.75Z" fill="#F14040"/><path d="M756.21,592.35A19,19 0 1 1 794.21,592.35A19,19 0 1 1 756.21,592.35Z" fill="#fff" stroke="#F14040" stroke-width="2.6"/><path d="M775.21,573.35A19,19 0 0 1 775.21,611.35Z" fill="#F14040"/><path d="M710.49,603.84A19,19 0 1 1 748.49,603.84A19,19 0 1 1 710.49,603.84Z" fill="#fff" stroke="#F14040" stroke-width="2.6"/><path d="M729.49,584.84A19,19 0 0 1 729.49,622.84Z" fill="#F14040"/><path d="M664.77,614.88A19,19 0 1 1 702.77,614.88A19,19 0 1 1 664.77,614.88Z" fill="#fff" stroke="#F14040" stroke-width="2.6"/><path d="M683.77,595.88A19,19 0 0 1 683.77,633.88Z" fill="#F14040"/><path d="M619.04,626.99A19,19 0 1 1 657.04,626.99A19,19 0 1 1 619.04,626.99Z" fill="#fff" stroke="#F14040" stroke-width="2.6"/><path d="M638.04,607.99A19,19 0 0 1 638.04,645.99Z" fill="#F14040"/><path d="M573.32,641.67A19,19 0 1 1 611.32,641.67A19,19 0 1 1 573.32,641.67Z" fill="#fff" stroke="#F14040" stroke-width="2.6"/><path d="M592.32,622.67A19,19 0 0 1 592.32,660.67Z" fill="#F14040"/><path d="M527.6,659.73A19,19 0 1 1 565.6,659.73A19,19 0 1 1 527.6,659.73Z" fill="#fff" stroke="#F14040" stroke-width="2.6"/><path d="M546.6,640.73A19,19 0 0 1 546.6,678.73Z" fill="#F14040"/><path d="M481.88,681.04A19,19 0 1 1 519.88,681.04A19,19 0 1 1 481.88,681.04Z" fill="#fff" stroke="#F14040" stroke-width="2.6"/><path d="M500.88,662.04A19,19 0 0 1 500.88,700.04Z" fill="#F14040"/><path d="M437.83,704.52A19,19 0 1 1 475.83,704.52A19,19 0 1 1 437.83,704.52Z" fill="#fff" stroke="#F14040" stroke-width="2.6"/><path d="M456.83,685.52A19,19 0 0 1 456.83,723.52Z" fill="#F14040"/><path d="M393.78,730.85A19,19 0 1 1 431.78,730.85A19,19 0 1 1 393.78,730.85Z" fill="#fff" stroke="#F14040" stroke-width="2.6"/><path d="M412.78,711.85A19,19 0 0 1 412.78,749.85Z" fill="#F14040"/><path d="M349.74,763.23A19,19 0 1 1 387.74,763.23A19,19 0 1 1 349.74,763.23Z" fill="#fff" stroke="#F14040" stroke-width="2.6"/><path d="M368.74,744.23A19,19 0 0 1 368.74,782.23Z" fill="#F14040"/><path d="M305.69,801.35A19,19 0 1 1 343.69,801.35A19,19 0 1 1 305.69,801.35Z" fill="#fff" stroke="#F14040" stroke-width="2.6"/><path d="M324.69,782.35A19,19 0 0 1 324.69,820.35Z" fill="#F14040"/><polyline points="236.82,1546.32 237.04,1505.04 237.28,1463.76 237.52,1422.48 237.76,1381.2 238,1339.92 238.26,1298.64 238.57,1257.36 239,1216.08 239.51,1174.8 240.11,1133.52 240.83,1092.24 241.81,1050.95 243.27,1009.67 245.13,968.39 247.76,927.11 252.22,885.83 259.45,844.55 278.55,806.22 298.78,783.38 344.51,703.83 390.23,653.51 435.95,611.02 481.67,581.02 520.08,559.92 565.8,537.5 611.52,517.99 657.25,502.24 702.97,489.88 748.69,478.26 773.38,474.88 819.1,469.49 864.83,459.33 910.55,449.83 956.27,442.52 1001.99,433.56 1047.72,421.54 1093.44,413.87 1139.16,406.32 1184.88,401.08 1230.61,394.01 1276.33,386.27 1322.05,378.92 1367.77,372.81 1413.5,367 1459.22,360.95 1504.94,354.89 1550.66,348.73 1596.39,342.77 1642.11,338.12 1720.75,321.98 1766.47,314.3 1812.2,309.26 1857.92,304.47 1903.64,299.42 1949.36,294.33 1995.09,289.61 2040.81,282.19 2060.01,275.35" fill="none" stroke="#1A6FDF" stroke-width="7" stroke-linejoin="round" stroke-linecap="round"/><polyline points="2059.1,248.89 2009.72,277.01 1964,282.03 1918.27,288.03 1872.55,290.75 1826.83,292.79 1781.11,294.52 1735.38,296.83 1689.66,301.75 1643.94,306.75 1598.22,311.23 1552.49,315.75 1506.77,320.96 1461.05,326.38 1415.33,331.58 1369.6,336.82 1323.88,342.23 1278.16,347.91 1232.44,353.63 1186.71,360.62 1140.99,372.23 1095.27,382.41 1049.55,396.26 1003.82,407.75 958.1,419.36 912.38,430.8 866.66,439.79 820.93,451.58 775.21,465.7 729.49,475.25 683.77,482.68 638.04,490.6 592.32,501.64 546.6,521.32 500.88,543.73 456.83,568.51 412.78,600.61 368.74,639.54 324.69,692.93 280.65,777.93" fill="none" stroke="#1A6FDF" stroke-width="7" stroke-linejoin="round" stroke-linecap="round"/><path d="M236.82,1520.65L259.32,1559.15L214.32,1559.15Z" fill="#fff" stroke="#1A6FDF" stroke-width="2.6"/><path d="M236.82,1520.65L259.32,1559.15L236.82,1559.15Z" fill="#1A6FDF"/><path d="M237.04,1479.37L259.54,1517.87L214.54,1517.87Z" fill="#fff" stroke="#1A6FDF" stroke-width="2.6"/><path d="M237.04,1479.37L259.54,1517.87L237.04,1517.87Z" fill="#1A6FDF"/><path d="M237.28,1438.09L259.78,1476.59L214.78,1476.59Z" fill="#fff" stroke="#1A6FDF" stroke-width="2.6"/><path d="M237.28,1438.09L259.78,1476.59L237.28,1476.59Z" fill="#1A6FDF"/><path d="M237.52,1396.81L260.02,1435.31L215.02,1435.31Z" fill="#fff" stroke="#1A6FDF" stroke-width="2.6"/><path d="M237.52,1396.81L260.02,1435.31L237.52,1435.31Z" fill="#1A6FDF"/><path d="M237.76,1355.53L260.26,1394.03L215.26,1394.03Z" fill="#fff" stroke="#1A6FDF" stroke-width="2.6"/><path d="M237.76,1355.53L260.26,1394.03L237.76,1394.03Z" fill="#1A6FDF"/><path d="M238,1314.25L260.5,1352.75L215.5,1352.75Z" fill="#fff" stroke="#1A6FDF" stroke-width="2.6"/><path d="M238,1314.25L260.5,1352.75L238,1352.75Z" fill="#1A6FDF"/><path d="M238.26,1272.97L260.76,1311.47L215.76,1311.47Z" fill="#fff" stroke="#1A6FDF" stroke-width="2.6"/><path d="M238.26,1272.97L260.76,1311.47L238.26,1311.47Z" fill="#1A6FDF"/><path d="M238.57,1231.69L261.07,1270.19L216.07,1270.19Z" fill="#fff" stroke="#1A6FDF" stroke-width="2.6"/><path d="M238.57,1231.69L261.07,1270.19L238.57,1270.19Z" fill="#1A6FDF"/><path d="M239,1190.41L261.5,1228.91L216.5,1228.91Z" fill="#fff" stroke="#1A6FDF" stroke-width="2.6"/><path d="M239,1190.41L261.5,1228.91L239,1228.91Z" fill="#1A6FDF"/><path d="M239.51,1149.13L262.01,1187.63L217.01,1187.63Z" fill="#fff" stroke="#1A6FDF" stroke-width="2.6"/><path d="M239.51,1149.13L262.01,1187.63L239.51,1187.63Z" fill="#1A6FDF"/><path d="M240.11,1107.85L262.61,1146.35L217.61,1146.35Z" fill="#fff" stroke="#1A6FDF" stroke-width="2.6"/><path d="M240.11,1107.85L262.61,1146.35L240.11,1146.35Z" fill="#1A6FDF"/><path d="M240.83,1066.57L263.33,1105.07L218.33,1105.07Z" fill="#fff" stroke="#1A6FDF" stroke-width="2.6"/><path d="M240.83,1066.57L263.33,1105.07L240.83,1105.07Z" fill="#1A6FDF"/><path d="M241.81,1025.29L264.31,1063.79L219.31,1063.79Z" fill="#fff" stroke="#1A6FDF" stroke-width="2.6"/><path d="M241.81,1025.29L264.31,1063.79L241.81,1063.79Z" fill="#1A6FDF"/><path d="M243.27,984.01L265.77,1022.51L220.77,1022.51Z" fill="#fff" stroke="#1A6FDF" stroke-width="2.6"/><path d="M243.27,984.01L265.77,1022.51L243.27,1022.51Z" fill="#1A6FDF"/><path d="M245.13,942.73L267.63,981.23L222.63,981.23Z" fill="#fff" stroke="#1A6FDF" stroke-width="2.6"/><path d="M245.13,942.73L267.63,981.23L245.13,981.23Z" fill="#1A6FDF"/><path d="M247.76,901.45L270.26,939.95L225.26,939.95Z" fill="#fff" stroke="#1A6FDF" stroke-width="2.6"/><path d="M247.76,901.45L270.26,939.95L247.76,939.95Z" fill="#1A6FDF"/><path d="M252.22,860.17L274.72,898.67L229.72,898.67Z" fill="#fff" stroke="#1A6FDF" stroke-width="2.6"/><path d="M252.22,860.17L274.72,898.67L252.22,898.67Z" fill="#1A6FDF"/><path d="M259.45,818.89L281.95,857.39L236.95,857.39Z" fill="#fff" stroke="#1A6FDF" stroke-width="2.6"/><path d="M259.45,818.89L281.95,857.39L259.45,857.39Z" fill="#1A6FDF"/><path d="M278.55,780.55L301.05,819.05L256.05,819.05Z" fill="#fff" stroke="#1A6FDF" stroke-width="2.6"/><path d="M278.55,780.55L301.05,819.05L278.55,819.05Z" fill="#1A6FDF"/><path d="M298.78,757.71L321.28,796.21L276.28,796.21Z" fill="#fff" stroke="#1A6FDF" stroke-width="2.6"/><path d="M298.78,757.71L321.28,796.21L298.78,796.21Z" fill="#1A6FDF"/><path d="M344.51,678.16L367.01,716.66L322.01,716.66Z" fill="#fff" stroke="#1A6FDF" stroke-width="2.6"/><path d="M344.51,678.16L367.01,716.66L344.51,716.66Z" fill="#1A6FDF"/><path d="M390.23,627.85L412.73,666.35L367.73,666.35Z" fill="#fff" stroke="#1A6FDF" stroke-width="2.6"/><path d="M390.23,627.85L412.73,666.35L390.23,666.35Z" fill="#1A6FDF"/><path d="M435.95,585.35L458.45,623.85L413.45,623.85Z" fill="#fff" stroke="#1A6FDF" stroke-width="2.6"/><path d="M435.95,585.35L458.45,623.85L435.95,623.85Z" fill="#1A6FDF"/><path d="M481.67,555.36L504.17,593.86L459.17,593.86Z" fill="#fff" stroke="#1A6FDF" stroke-width="2.6"/><path d="M481.67,555.36L504.17,593.86L481.67,593.86Z" fill="#1A6FDF"/><path d="M520.08,534.25L542.58,572.75L497.58,572.75Z" fill="#fff" stroke="#1A6FDF" stroke-width="2.6"/><path d="M520.08,534.25L542.58,572.75L520.08,572.75Z" fill="#1A6FDF"/><path d="M565.8,511.83L588.3,550.33L543.3,550.33Z" fill="#fff" stroke="#1A6FDF" stroke-width="2.6"/><path d="M565.8,511.83L588.3,550.33L565.8,550.33Z" fill="#1A6FDF"/><path d="M611.52,492.32L634.02,530.82L589.02,530.82Z" fill="#fff" stroke="#1A6FDF" stroke-width="2.6"/><path d="M611.52,492.32L634.02,530.82L611.52,530.82Z" fill="#1A6FDF"/><path d="M657.25,476.57L679.75,515.07L634.75,515.07Z" fill="#fff" stroke="#1A6FDF" stroke-width="2.6"/><path d="M657.25,476.57L679.75,515.07L657.25,515.07Z" fill="#1A6FDF"/><path d="M702.97,464.22L725.47,502.72L680.47,502.72Z" fill="#fff" stroke="#1A6FDF" stroke-width="2.6"/><path d="M702.97,464.22L725.47,502.72L702.97,502.72Z" fill="#1A6FDF"/><path d="M748.69,452.6L771.19,491.1L726.19,491.1Z" fill="#fff" stroke="#1A6FDF" stroke-width="2.6"/><path d="M748.69,452.6L771.19,491.1L748.69,491.1Z" fill="#1A6FDF"/><path d="M773.38,449.21L795.88,487.71L750.88,487.71Z" fill="#fff" stroke="#1A6FDF" stroke-width="2.6"/><path d="M773.38,449.21L795.88,487.71L773.38,487.71Z" fill="#1A6FDF"/><path d="M819.1,443.82L841.6,482.32L796.6,482.32Z" fill="#fff" stroke="#1A6FDF" stroke-width="2.6"/><path d="M819.1,443.82L841.6,482.32L819.1,482.32Z" fill="#1A6FDF"/><path d="M864.83,433.66L887.33,472.16L842.33,472.16Z" fill="#fff" stroke="#1A6FDF" stroke-width="2.6"/><path d="M864.83,433.66L887.33,472.16L864.83,472.16Z" fill="#1A6FDF"/><path d="M910.55,424.17L933.05,462.67L888.05,462.67Z" fill="#fff" stroke="#1A6FDF" stroke-width="2.6"/><path d="M910.55,424.17L933.05,462.67L910.55,462.67Z" fill="#1A6FDF"/><path d="M956.27,416.86L978.77,455.36L933.77,455.36Z" fill="#fff" stroke="#1A6FDF" stroke-width="2.6"/><path d="M956.27,416.86L978.77,455.36L956.27,455.36Z" fill="#1A6FDF"/><path d="M1001.99,407.89L1024.49,446.39L979.49,446.39Z" fill="#fff" stroke="#1A6FDF" stroke-width="2.6"/><path d="M1001.99,407.89L1024.49,446.39L1001.99,446.39Z" fill="#1A6FDF"/><path d="M1047.72,395.87L1070.22,434.37L1025.22,434.37Z" fill="#fff" stroke="#1A6FDF" stroke-width="2.6"/><path d="M1047.72,395.87L1070.22,434.37L1047.72,434.37Z" fill="#1A6FDF"/><path d="M1093.44,388.21L1115.94,426.71L1070.94,426.71Z" fill="#fff" stroke="#1A6FDF" stroke-width="2.6"/><path d="M1093.44,388.21L1115.94,426.71L1093.44,426.71Z" fill="#1A6FDF"/><path d="M1139.16,380.65L1161.66,419.15L1116.66,419.15Z" fill="#fff" stroke="#1A6FDF" stroke-width="2.6"/><path d="M1139.16,380.65L1161.66,419.15L1139.16,419.15Z" fill="#1A6FDF"/><path d="M1184.88,375.42L1207.38,413.92L1162.38,413.92Z" fill="#fff" stroke="#1A6FDF" stroke-width="2.6"/><path d="M1184.88,375.42L1207.38,413.92L1184.88,413.92Z" fill="#1A6FDF"/><path d="M1230.61,368.34L1253.11,406.84L1208.11,406.84Z" fill="#fff" stroke="#1A6FDF" stroke-width="2.6"/><path d="M1230.61,368.34L1253.11,406.84L1230.61,406.84Z" fill="#1A6FDF"/><path d="M1276.33,360.61L1298.83,399.11L1253.83,399.11Z" fill="#fff" stroke="#1A6FDF" stroke-width="2.6"/><path d="M1276.33,360.61L1298.83,399.11L1276.33,399.11Z" fill="#1A6FDF"/><path d="M1322.05,353.25L1344.55,391.75L1299.55,391.75Z" fill="#fff" stroke="#1A6FDF" stroke-width="2.6"/><path d="M1322.05,353.25L1344.55,391.75L1322.05,391.75Z" fill="#1A6FDF"/><path d="M1367.77,347.14L1390.27,385.64L1345.27,385.64Z" fill="#fff" stroke="#1A6FDF" stroke-width="2.6"/><path d="M1367.77,347.14L1390.27,385.64L1367.77,385.64Z" fill="#1A6FDF"/><path d="M1413.5,341.33L1436,379.83L1391,379.83Z" fill="#fff" stroke="#1A6FDF" stroke-width="2.6"/><path d="M1413.5,341.33L1436,379.83L1413.5,379.83Z" fill="#1A6FDF"/><path d="M1459.22,335.29L1481.72,373.79L1436.72,373.79Z" fill="#fff" stroke="#1A6FDF" stroke-width="2.6"/><path d="M1459.22,335.29L1481.72,373.79L1459.22,373.79Z" fill="#1A6FDF"/><path d="M1504.94,329.22L1527.44,367.72L1482.44,367.72Z" fill="#fff" stroke="#1A6FDF" stroke-width="2.6"/><path d="M1504.94,329.22L1527.44,367.72L1504.94,367.72Z" fill="#1A6FDF"/><path d="M1550.66,323.07L1573.16,361.57L1528.16,361.57Z" fill="#fff" stroke="#1A6FDF" stroke-width="2.6"/><path d="M1550.66,323.07L1573.16,361.57L1550.66,361.57Z" fill="#1A6FDF"/><path d="M1596.39,317.1L1618.89,355.6L1573.89,355.6Z" fill="#fff" stroke="#1A6FDF" stroke-width="2.6"/><path d="M1596.39,317.1L1618.89,355.6L1596.39,355.6Z" fill="#1A6FDF"/><path d="M1642.11,312.46L1664.61,350.96L1619.61,350.96Z" fill="#fff" stroke="#1A6FDF" stroke-width="2.6"/><path d="M1642.11,312.46L1664.61,350.96L1642.11,350.96Z" fill="#1A6FDF"/><path d="M1720.75,296.31L1743.25,334.81L1698.25,334.81Z" fill="#fff" stroke="#1A6FDF" stroke-width="2.6"/><path d="M1720.75,296.31L1743.25,334.81L1720.75,334.81Z" fill="#1A6FDF"/><path d="M1766.47,288.63L1788.97,327.13L1743.97,327.13Z" fill="#fff" stroke="#1A6FDF" stroke-width="2.6"/><path d="M1766.47,288.63L1788.97,327.13L1766.47,327.13Z" fill="#1A6FDF"/><path d="M1812.2,283.6L1834.7,322.1L1789.7,322.1Z" fill="#fff" stroke="#1A6FDF" stroke-width="2.6"/><path d="M1812.2,283.6L1834.7,322.1L1812.2,322.1Z" fill="#1A6FDF"/><path d="M1857.92,278.8L1880.42,317.3L1835.42,317.3Z" fill="#fff" stroke="#1A6FDF" stroke-width="2.6"/><path d="M1857.92,278.8L1880.42,317.3L1857.92,317.3Z" fill="#1A6FDF"/><path d="M1903.64,273.75L1926.14,312.25L1881.14,312.25Z" fill="#fff" stroke="#1A6FDF" stroke-width="2.6"/><path d="M1903.64,273.75L1926.14,312.25L1903.64,312.25Z" fill="#1A6FDF"/><path d="M1949.36,268.66L1971.86,307.16L1926.86,307.16Z" fill="#fff" stroke="#1A6FDF" stroke-width="2.6"/><path d="M1949.36,268.66L1971.86,307.16L1949.36,307.16Z" fill="#1A6FDF"/><path d="M1995.09,263.94L2017.59,302.44L1972.59,302.44Z" fill="#fff" stroke="#1A6FDF" stroke-width="2.6"/><path d="M1995.09,263.94L2017.59,302.44L1995.09,302.44Z" fill="#1A6FDF"/><path d="M2040.81,256.52L2063.31,295.02L2018.31,295.02Z" fill="#fff" stroke="#1A6FDF" stroke-width="2.6"/><path d="M2040.81,256.52L2063.31,295.02L2040.81,295.02Z" fill="#1A6FDF"/><path d="M2060.01,249.68L2082.51,288.18L2037.51,288.18Z" fill="#fff" stroke="#1A6FDF" stroke-width="2.6"/><path d="M2060.01,249.68L2082.51,288.18L2060.01,288.18Z" fill="#1A6FDF"/><path d="M2059.1,223.23L2081.6,261.73L2036.6,261.73Z" fill="#fff" stroke="#1A6FDF" stroke-width="2.6"/><path d="M2059.1,223.23L2081.6,261.73L2059.1,261.73Z" fill="#1A6FDF"/><path d="M2009.72,251.35L2032.22,289.85L1987.22,289.85Z" fill="#fff" stroke="#1A6FDF" stroke-width="2.6"/><path d="M2009.72,251.35L2032.22,289.85L2009.72,289.85Z" fill="#1A6FDF"/><path d="M1964,256.36L1986.5,294.86L1941.5,294.86Z" fill="#fff" stroke="#1A6FDF" stroke-width="2.6"/><path d="M1964,256.36L1986.5,294.86L1964,294.86Z" fill="#1A6FDF"/><path d="M1918.27,262.36L1940.77,300.86L1895.77,300.86Z" fill="#fff" stroke="#1A6FDF" stroke-width="2.6"/><path d="M1918.27,262.36L1940.77,300.86L1918.27,300.86Z" fill="#1A6FDF"/><path d="M1872.55,265.08L1895.05,303.58L1850.05,303.58Z" fill="#fff" stroke="#1A6FDF" stroke-width="2.6"/><path d="M1872.55,265.08L1895.05,303.58L1872.55,303.58Z" fill="#1A6FDF"/><path d="M1826.83,267.12L1849.33,305.62L1804.33,305.62Z" fill="#fff" stroke="#1A6FDF" stroke-width="2.6"/><path d="M1826.83,267.12L1849.33,305.62L1826.83,305.62Z" fill="#1A6FDF"/><path d="M1781.11,268.85L1803.61,307.35L1758.61,307.35Z" fill="#fff" stroke="#1A6FDF" stroke-width="2.6"/><path d="M1781.11,268.85L1803.61,307.35L1781.11,307.35Z" fill="#1A6FDF"/><path d="M1735.38,271.17L1757.88,309.67L1712.88,309.67Z" fill="#fff" stroke="#1A6FDF" stroke-width="2.6"/><path d="M1735.38,271.17L1757.88,309.67L1735.38,309.67Z" fill="#1A6FDF"/><path d="M1689.66,276.08L1712.16,314.58L1667.16,314.58Z" fill="#fff" stroke="#1A6FDF" stroke-width="2.6"/><path d="M1689.66,276.08L1712.16,314.58L1689.66,314.58Z" fill="#1A6FDF"/><path d="M1643.94,281.08L1666.44,319.58L1621.44,319.58Z" fill="#fff" stroke="#1A6FDF" stroke-width="2.6"/><path d="M1643.94,281.08L1666.44,319.58L1643.94,319.58Z" fill="#1A6FDF"/><path d="M1598.22,285.56L1620.72,324.06L1575.72,324.06Z" fill="#fff" stroke="#1A6FDF" stroke-width="2.6"/><path d="M1598.22,285.56L1620.72,324.06L1598.22,324.06Z" fill="#1A6FDF"/><path d="M1552.49,290.09L1574.99,328.59L1529.99,328.59Z" fill="#fff" stroke="#1A6FDF" stroke-width="2.6"/><path d="M1552.49,290.09L1574.99,328.59L1552.49,328.59Z" fill="#1A6FDF"/><path d="M1506.77,295.29L1529.27,333.79L1484.27,333.79Z" fill="#fff" stroke="#1A6FDF" stroke-width="2.6"/><path d="M1506.77,295.29L1529.27,333.79L1506.77,333.79Z" fill="#1A6FDF"/><path d="M1461.05,300.71L1483.55,339.21L1438.55,339.21Z" fill="#fff" stroke="#1A6FDF" stroke-width="2.6"/><path d="M1461.05,300.71L1483.55,339.21L1461.05,339.21Z" fill="#1A6FDF"/><path d="M1415.33,305.91L1437.83,344.41L1392.83,344.41Z" fill="#fff" stroke="#1A6FDF" stroke-width="2.6"/><path d="M1415.33,305.91L1437.83,344.41L1415.33,344.41Z" fill="#1A6FDF"/><path d="M1369.6,311.15L1392.1,349.65L1347.1,349.65Z" fill="#fff" stroke="#1A6FDF" stroke-width="2.6"/><path d="M1369.6,311.15L1392.1,349.65L1369.6,349.65Z" fill="#1A6FDF"/><path d="M1323.88,316.57L1346.38,355.07L1301.38,355.07Z" fill="#fff" stroke="#1A6FDF" stroke-width="2.6"/><path d="M1323.88,316.57L1346.38,355.07L1323.88,355.07Z" fill="#1A6FDF"/><path d="M1278.16,322.25L1300.66,360.75L1255.66,360.75Z" fill="#fff" stroke="#1A6FDF" stroke-width="2.6"/><path d="M1278.16,322.25L1300.66,360.75L1278.16,360.75Z" fill="#1A6FDF"/><path d="M1232.44,327.97L1254.94,366.47L1209.94,366.47Z" fill="#fff" stroke="#1A6FDF" stroke-width="2.6"/><path d="M1232.44,327.97L1254.94,366.47L1232.44,366.47Z" fill="#1A6FDF"/><path d="M1186.71,334.95L1209.21,373.45L1164.21,373.45Z" fill="#fff" stroke="#1A6FDF" stroke-width="2.6"/><path d="M1186.71,334.95L1209.21,373.45L1186.71,373.45Z" fill="#1A6FDF"/><path d="M1140.99,346.56L1163.49,385.06L1118.49,385.06Z" fill="#fff" stroke="#1A6FDF" stroke-width="2.6"/><path d="M1140.99,346.56L1163.49,385.06L1140.99,385.06Z" fill="#1A6FDF"/><path d="M1095.27,356.75L1117.77,395.25L1072.77,395.25Z" fill="#fff" stroke="#1A6FDF" stroke-width="2.6"/><path d="M1095.27,356.75L1117.77,395.25L1095.27,395.25Z" fill="#1A6FDF"/><path d="M1049.55,370.59L1072.05,409.09L1027.05,409.09Z" fill="#fff" stroke="#1A6FDF" stroke-width="2.6"/><path d="M1049.55,370.59L1072.05,409.09L1049.55,409.09Z" fill="#1A6FDF"/><path d="M1003.82,382.08L1026.32,420.58L981.32,420.58Z" fill="#fff" stroke="#1A6FDF" stroke-width="2.6"/><path d="M1003.82,382.08L1026.32,420.58L1003.82,420.58Z" fill="#1A6FDF"/><path d="M958.1,393.69L980.6,432.19L935.6,432.19Z" fill="#fff" stroke="#1A6FDF" stroke-width="2.6"/><path d="M958.1,393.69L980.6,432.19L958.1,432.19Z" fill="#1A6FDF"/><path d="M912.38,405.13L934.88,443.63L889.88,443.63Z" fill="#fff" stroke="#1A6FDF" stroke-width="2.6"/><path d="M912.38,405.13L934.88,443.63L912.38,443.63Z" fill="#1A6FDF"/><path d="M866.66,414.13L889.16,452.63L844.16,452.63Z" fill="#fff" stroke="#1A6FDF" stroke-width="2.6"/><path d="M866.66,414.13L889.16,452.63L866.66,452.63Z" fill="#1A6FDF"/><path d="M820.93,425.91L843.43,464.41L798.43,464.41Z" fill="#fff" stroke="#1A6FDF" stroke-width="2.6"/><path d="M820.93,425.91L843.43,464.41L820.93,464.41Z" fill="#1A6FDF"/><path d="M775.21,440.04L797.71,478.54L752.71,478.54Z" fill="#fff" stroke="#1A6FDF" stroke-width="2.6"/><path d="M775.21,440.04L797.71,478.54L775.21,478.54Z" fill="#1A6FDF"/><path d="M729.49,449.58L751.99,488.08L706.99,488.08Z" fill="#fff" stroke="#1A6FDF" stroke-width="2.6"/><path d="M729.49,449.58L751.99,488.08L729.49,488.08Z" fill="#1A6FDF"/><path d="M683.77,457.01L706.27,495.51L661.27,495.51Z" fill="#fff" stroke="#1A6FDF" stroke-width="2.6"/><path d="M683.77,457.01L706.27,495.51L683.77,495.51Z" fill="#1A6FDF"/><path d="M638.04,464.93L660.54,503.43L615.54,503.43Z" fill="#fff" stroke="#1A6FDF" stroke-width="2.6"/><path d="M638.04,464.93L660.54,503.43L638.04,503.43Z" fill="#1A6FDF"/><path d="M592.32,475.98L614.82,514.48L569.82,514.48Z" fill="#fff" stroke="#1A6FDF" stroke-width="2.6"/><path d="M592.32,475.98L614.82,514.48L592.32,514.48Z" fill="#1A6FDF"/><path d="M546.6,495.66L569.1,534.16L524.1,534.16Z" fill="#fff" stroke="#1A6FDF" stroke-width="2.6"/><path d="M546.6,495.66L569.1,534.16L546.6,534.16Z" fill="#1A6FDF"/><path d="M500.88,518.07L523.38,556.57L478.38,556.57Z" fill="#fff" stroke="#1A6FDF" stroke-width="2.6"/><path d="M500.88,518.07L523.38,556.57L500.88,556.57Z" fill="#1A6FDF"/><path d="M456.83,542.85L479.33,581.35L434.33,581.35Z" fill="#fff" stroke="#1A6FDF" stroke-width="2.6"/><path d="M456.83,542.85L479.33,581.35L456.83,581.35Z" fill="#1A6FDF"/><path d="M412.78,574.94L435.28,613.44L390.28,613.44Z" fill="#fff" stroke="#1A6FDF" stroke-width="2.6"/><path d="M412.78,574.94L435.28,613.44L412.78,613.44Z" fill="#1A6FDF"/><path d="M368.74,613.87L391.24,652.37L346.24,652.37Z" fill="#fff" stroke="#1A6FDF" stroke-width="2.6"/><path d="M368.74,613.87L391.24,652.37L368.74,652.37Z" fill="#1A6FDF"/><path d="M324.69,667.26L347.19,705.76L302.19,705.76Z" fill="#fff" stroke="#1A6FDF" stroke-width="2.6"/><path d="M324.69,667.26L347.19,705.76L324.69,705.76Z" fill="#1A6FDF"/><path d="M280.65,752.26L303.15,790.76L258.15,790.76Z" fill="#fff" stroke="#1A6FDF" stroke-width="2.6"/><path d="M280.65,752.26L303.15,790.76L280.65,790.76Z" fill="#1A6FDF"/><polyline points="237,1522.73 237.26,1481.45 237.51,1440.17 237.76,1398.89 238,1357.61 238.25,1316.33 238.55,1275.05 238.96,1233.77 239.48,1192.49 240.07,1151.21 240.79,1109.93 241.74,1068.65 243.1,1027.37 244.79,986.09 247.04,944.81 250.65,903.52 256.15,862.24 268.18,820.96 282.98,798.29 329.35,700.98 375.73,647.5 422.1,603.24 468.48,566.58 514.85,537.66 561.23,512.34 607.61,490.58 653.98,470.61 700.36,453.2 746.73,436.71 793.11,419.5 839.48,405.83 885.86,393.81 931.58,382.12 977.3,370.44 1023.03,358.89 1068.75,346.59 1114.47,332.23 1160.19,317.42 1205.92,304.63 1251.64,295.28 1297.36,286.37 1343.08,274.99 1388.81,263.34 1434.53,253.42 1480.25,243.86 1525.97,233.87 1571.7,223.82 1617.42,213.86 1663.14,203.89 1708.86,193.81 1754.59,184.85 1800.31,177.2 1846.03,170.05 1891.75,162.75 1937.48,155.58 1983.2,146.76 2028.92,135.29 2060.01,118.4" fill="none" stroke="#37AD6B" stroke-width="7" stroke-linejoin="round" stroke-linecap="round"/><polyline points="2059.1,79.1 2009.72,119.94 1964,130.25 1918.27,140.97 1872.55,151.46 1826.83,160.19 1781.11,168.06 1735.38,175.26 1689.66,182.91 1643.94,191.56 1598.22,200.94 1552.49,211.25 1506.77,221.71 1461.05,231.84 1415.33,242.55 1369.6,254.33 1323.88,266.28 1278.16,278.18 1232.44,289.74 1186.71,300.47 1140.99,312.02 1095.27,325.81 1049.55,340.92 1003.82,354.84 958.1,367.58 912.38,380.42 866.66,394.35 820.93,406.13 775.21,420.45 729.49,436.88 683.77,453.36 638.04,471.16 592.32,491.81 546.6,513.82 500.88,540.23 456.83,568.84 412.78,609.59 368.74,649.03 324.69,706.23 280.65,778.26" fill="none" stroke="#37AD6B" stroke-width="7" stroke-linejoin="round" stroke-linecap="round"/><path d="M237,1548.4L259.5,1509.9L214.5,1509.9Z" fill="#fff" stroke="#37AD6B" stroke-width="2.6"/><path d="M237,1548.4L259.5,1509.9L237,1509.9Z" fill="#37AD6B"/><path d="M237.26,1507.12L259.76,1468.62L214.76,1468.62Z" fill="#fff" stroke="#37AD6B" stroke-width="2.6"/><path d="M237.26,1507.12L259.76,1468.62L237.26,1468.62Z" fill="#37AD6B"/><path d="M237.51,1465.84L260.01,1427.34L215.01,1427.34Z" fill="#fff" stroke="#37AD6B" stroke-width="2.6"/><path d="M237.51,1465.84L260.01,1427.34L237.51,1427.34Z" fill="#37AD6B"/><path d="M237.76,1424.56L260.26,1386.06L215.26,1386.06Z" fill="#fff" stroke="#37AD6B" stroke-width="2.6"/><path d="M237.76,1424.56L260.26,1386.06L237.76,1386.06Z" fill="#37AD6B"/><path d="M238,1383.28L260.5,1344.78L215.5,1344.78Z" fill="#fff" stroke="#37AD6B" stroke-width="2.6"/><path d="M238,1383.28L260.5,1344.78L238,1344.78Z" fill="#37AD6B"/><path d="M238.25,1342L260.75,1303.5L215.75,1303.5Z" fill="#fff" stroke="#37AD6B" stroke-width="2.6"/><path d="M238.25,1342L260.75,1303.5L238.25,1303.5Z" fill="#37AD6B"/><path d="M238.55,1300.72L261.05,1262.22L216.05,1262.22Z" fill="#fff" stroke="#37AD6B" stroke-width="2.6"/><path d="M238.55,1300.72L261.05,1262.22L238.55,1262.22Z" fill="#37AD6B"/><path d="M238.96,1259.43L261.46,1220.93L216.46,1220.93Z" fill="#fff" stroke="#37AD6B" stroke-width="2.6"/><path d="M238.96,1259.43L261.46,1220.93L238.96,1220.93Z" fill="#37AD6B"/><path d="M239.48,1218.15L261.98,1179.65L216.98,1179.65Z" fill="#fff" stroke="#37AD6B" stroke-width="2.6"/><path d="M239.48,1218.15L261.98,1179.65L239.48,1179.65Z" fill="#37AD6B"/><path d="M240.07,1176.87L262.57,1138.37L217.57,1138.37Z" fill="#fff" stroke="#37AD6B" stroke-width="2.6"/><path d="M240.07,1176.87L262.57,1138.37L240.07,1138.37Z" fill="#37AD6B"/><path d="M240.79,1135.59L263.29,1097.09L218.29,1097.09Z" fill="#fff" stroke="#37AD6B" stroke-width="2.6"/><path d="M240.79,1135.59L263.29,1097.09L240.79,1097.09Z" fill="#37AD6B"/><path d="M241.74,1094.31L264.24,1055.81L219.24,1055.81Z" fill="#fff" stroke="#37AD6B" stroke-width="2.6"/><path d="M241.74,1094.31L264.24,1055.81L241.74,1055.81Z" fill="#37AD6B"/><path d="M243.1,1053.03L265.6,1014.53L220.6,1014.53Z" fill="#fff" stroke="#37AD6B" stroke-width="2.6"/><path d="M243.1,1053.03L265.6,1014.53L243.1,1014.53Z" fill="#37AD6B"/><path d="M244.79,1011.75L267.29,973.25L222.29,973.25Z" fill="#fff" stroke="#37AD6B" stroke-width="2.6"/><path d="M244.79,1011.75L267.29,973.25L244.79,973.25Z" fill="#37AD6B"/><path d="M247.04,970.47L269.54,931.97L224.54,931.97Z" fill="#fff" stroke="#37AD6B" stroke-width="2.6"/><path d="M247.04,970.47L269.54,931.97L247.04,931.97Z" fill="#37AD6B"/><path d="M250.65,929.19L273.15,890.69L228.15,890.69Z" fill="#fff" stroke="#37AD6B" stroke-width="2.6"/><path d="M250.65,929.19L273.15,890.69L250.65,890.69Z" fill="#37AD6B"/><path d="M256.15,887.91L278.65,849.41L233.65,849.41Z" fill="#fff" stroke="#37AD6B" stroke-width="2.6"/><path d="M256.15,887.91L278.65,849.41L256.15,849.41Z" fill="#37AD6B"/><path d="M268.18,846.63L290.68,808.13L245.68,808.13Z" fill="#fff" stroke="#37AD6B" stroke-width="2.6"/><path d="M268.18,846.63L290.68,808.13L268.18,808.13Z" fill="#37AD6B"/><path d="M282.98,823.95L305.48,785.45L260.48,785.45Z" fill="#fff" stroke="#37AD6B" stroke-width="2.6"/><path d="M282.98,823.95L305.48,785.45L282.98,785.45Z" fill="#37AD6B"/><path d="M329.35,726.65L351.85,688.15L306.85,688.15Z" fill="#fff" stroke="#37AD6B" stroke-width="2.6"/><path d="M329.35,726.65L351.85,688.15L329.35,688.15Z" fill="#37AD6B"/><path d="M375.73,673.17L398.23,634.67L353.23,634.67Z" fill="#fff" stroke="#37AD6B" stroke-width="2.6"/><path d="M375.73,673.17L398.23,634.67L375.73,634.67Z" fill="#37AD6B"/><path d="M422.1,628.91L444.6,590.41L399.6,590.41Z" fill="#fff" stroke="#37AD6B" stroke-width="2.6"/><path d="M422.1,628.91L444.6,590.41L422.1,590.41Z" fill="#37AD6B"/><path d="M468.48,592.24L490.98,553.74L445.98,553.74Z" fill="#fff" stroke="#37AD6B" stroke-width="2.6"/><path d="M468.48,592.24L490.98,553.74L468.48,553.74Z" fill="#37AD6B"/><path d="M514.85,563.33L537.35,524.83L492.35,524.83Z" fill="#fff" stroke="#37AD6B" stroke-width="2.6"/><path d="M514.85,563.33L537.35,524.83L514.85,524.83Z" fill="#37AD6B"/><path d="M561.23,538.01L583.73,499.51L538.73,499.51Z" fill="#fff" stroke="#37AD6B" stroke-width="2.6"/><path d="M561.23,538.01L583.73,499.51L561.23,499.51Z" fill="#37AD6B"/><path d="M607.61,516.25L630.11,477.75L585.11,477.75Z" fill="#fff" stroke="#37AD6B" stroke-width="2.6"/><path d="M607.61,516.25L630.11,477.75L607.61,477.75Z" fill="#37AD6B"/><path d="M653.98,496.28L676.48,457.78L631.48,457.78Z" fill="#fff" stroke="#37AD6B" stroke-width="2.6"/><path d="M653.98,496.28L676.48,457.78L653.98,457.78Z" fill="#37AD6B"/><path d="M700.36,478.86L722.86,440.36L677.86,440.36Z" fill="#fff" stroke="#37AD6B" stroke-width="2.6"/><path d="M700.36,478.86L722.86,440.36L700.36,440.36Z" fill="#37AD6B"/><path d="M746.73,462.38L769.23,423.88L724.23,423.88Z" fill="#fff" stroke="#37AD6B" stroke-width="2.6"/><path d="M746.73,462.38L769.23,423.88L746.73,423.88Z" fill="#37AD6B"/><path d="M793.11,445.16L815.61,406.66L770.61,406.66Z" fill="#fff" stroke="#37AD6B" stroke-width="2.6"/><path d="M793.11,445.16L815.61,406.66L793.11,406.66Z" fill="#37AD6B"/><path d="M839.48,431.5L861.98,393L816.98,393Z" fill="#fff" stroke="#37AD6B" stroke-width="2.6"/><path d="M839.48,431.5L861.98,393L839.48,393Z" fill="#37AD6B"/><path d="M885.86,419.47L908.36,380.97L863.36,380.97Z" fill="#fff" stroke="#37AD6B" stroke-width="2.6"/><path d="M885.86,419.47L908.36,380.97L885.86,380.97Z" fill="#37AD6B"/><path d="M931.58,407.78L954.08,369.28L909.08,369.28Z" fill="#fff" stroke="#37AD6B" stroke-width="2.6"/><path d="M931.58,407.78L954.08,369.28L931.58,369.28Z" fill="#37AD6B"/><path d="M977.3,396.11L999.8,357.61L954.8,357.61Z" fill="#fff" stroke="#37AD6B" stroke-width="2.6"/><path d="M977.3,396.11L999.8,357.61L977.3,357.61Z" fill="#37AD6B"/><path d="M1023.03,384.56L1045.53,346.06L1000.53,346.06Z" fill="#fff" stroke="#37AD6B" stroke-width="2.6"/><path d="M1023.03,384.56L1045.53,346.06L1023.03,346.06Z" fill="#37AD6B"/><path d="M1068.75,372.25L1091.25,333.75L1046.25,333.75Z" fill="#fff" stroke="#37AD6B" stroke-width="2.6"/><path d="M1068.75,372.25L1091.25,333.75L1068.75,333.75Z" fill="#37AD6B"/><path d="M1114.47,357.89L1136.97,319.39L1091.97,319.39Z" fill="#fff" stroke="#37AD6B" stroke-width="2.6"/><path d="M1114.47,357.89L1136.97,319.39L1114.47,319.39Z" fill="#37AD6B"/><path d="M1160.19,343.08L1182.69,304.58L1137.69,304.58Z" fill="#fff" stroke="#37AD6B" stroke-width="2.6"/><path d="M1160.19,343.08L1182.69,304.58L1160.19,304.58Z" fill="#37AD6B"/><path d="M1205.92,330.3L1228.42,291.8L1183.42,291.8Z" fill="#fff" stroke="#37AD6B" stroke-width="2.6"/><path d="M1205.92,330.3L1228.42,291.8L1205.92,291.8Z" fill="#37AD6B"/><path d="M1251.64,320.95L1274.14,282.45L1229.14,282.45Z" fill="#fff" stroke="#37AD6B" stroke-width="2.6"/><path d="M1251.64,320.95L1274.14,282.45L1251.64,282.45Z" fill="#37AD6B"/><path d="M1297.36,312.04L1319.86,273.54L1274.86,273.54Z" fill="#fff" stroke="#37AD6B" stroke-width="2.6"/><path d="M1297.36,312.04L1319.86,273.54L1297.36,273.54Z" fill="#37AD6B"/><path d="M1343.08,300.66L1365.58,262.16L1320.58,262.16Z" fill="#fff" stroke="#37AD6B" stroke-width="2.6"/><path d="M1343.08,300.66L1365.58,262.16L1343.08,262.16Z" fill="#37AD6B"/><path d="M1388.81,289.01L1411.31,250.51L1366.31,250.51Z" fill="#fff" stroke="#37AD6B" stroke-width="2.6"/><path d="M1388.81,289.01L1411.31,250.51L1388.81,250.51Z" fill="#37AD6B"/><path d="M1434.53,279.08L1457.03,240.58L1412.03,240.58Z" fill="#fff" stroke="#37AD6B" stroke-width="2.6"/><path d="M1434.53,279.08L1457.03,240.58L1434.53,240.58Z" fill="#37AD6B"/><path d="M1480.25,269.53L1502.75,231.03L1457.75,231.03Z" fill="#fff" stroke="#37AD6B" stroke-width="2.6"/><path d="M1480.25,269.53L1502.75,231.03L1480.25,231.03Z" fill="#37AD6B"/><path d="M1525.97,259.54L1548.47,221.04L1503.47,221.04Z" fill="#fff" stroke="#37AD6B" stroke-width="2.6"/><path d="M1525.97,259.54L1548.47,221.04L1525.97,221.04Z" fill="#37AD6B"/><path d="M1571.7,249.48L1594.2,210.98L1549.2,210.98Z" fill="#fff" stroke="#37AD6B" stroke-width="2.6"/><path d="M1571.7,249.48L1594.2,210.98L1571.7,210.98Z" fill="#37AD6B"/><path d="M1617.42,239.52L1639.92,201.02L1594.92,201.02Z" fill="#fff" stroke="#37AD6B" stroke-width="2.6"/><path d="M1617.42,239.52L1639.92,201.02L1617.42,201.02Z" fill="#37AD6B"/><path d="M1663.14,229.55L1685.64,191.05L1640.64,191.05Z" fill="#fff" stroke="#37AD6B" stroke-width="2.6"/><path d="M1663.14,229.55L1685.64,191.05L1663.14,191.05Z" fill="#37AD6B"/><path d="M1708.86,219.47L1731.36,180.97L1686.36,180.97Z" fill="#fff" stroke="#37AD6B" stroke-width="2.6"/><path d="M1708.86,219.47L1731.36,180.97L1708.86,180.97Z" fill="#37AD6B"/><path d="M1754.59,210.52L1777.09,172.02L1732.09,172.02Z" fill="#fff" stroke="#37AD6B" stroke-width="2.6"/><path d="M1754.59,210.52L1777.09,172.02L1754.59,172.02Z" fill="#37AD6B"/><path d="M1800.31,202.86L1822.81,164.36L1777.81,164.36Z" fill="#fff" stroke="#37AD6B" stroke-width="2.6"/><path d="M1800.31,202.86L1822.81,164.36L1800.31,164.36Z" fill="#37AD6B"/><path d="M1846.03,195.72L1868.53,157.22L1823.53,157.22Z" fill="#fff" stroke="#37AD6B" stroke-width="2.6"/><path d="M1846.03,195.72L1868.53,157.22L1846.03,157.22Z" fill="#37AD6B"/><path d="M1891.75,188.42L1914.25,149.92L1869.25,149.92Z" fill="#fff" stroke="#37AD6B" stroke-width="2.6"/><path d="M1891.75,188.42L1914.25,149.92L1891.75,149.92Z" fill="#37AD6B"/><path d="M1937.48,181.24L1959.98,142.74L1914.98,142.74Z" fill="#fff" stroke="#37AD6B" stroke-width="2.6"/><path d="M1937.48,181.24L1959.98,142.74L1937.48,142.74Z" fill="#37AD6B"/><path d="M1983.2,172.43L2005.7,133.93L1960.7,133.93Z" fill="#fff" stroke="#37AD6B" stroke-width="2.6"/><path d="M1983.2,172.43L2005.7,133.93L1983.2,133.93Z" fill="#37AD6B"/><path d="M2028.92,160.96L2051.42,122.46L2006.42,122.46Z" fill="#fff" stroke="#37AD6B" stroke-width="2.6"/><path d="M2028.92,160.96L2051.42,122.46L2028.92,122.46Z" fill="#37AD6B"/><path d="M2060.01,144.07L2082.51,105.57L2037.51,105.57Z" fill="#fff" stroke="#37AD6B" stroke-width="2.6"/><path d="M2060.01,144.07L2082.51,105.57L2060.01,105.57Z" fill="#37AD6B"/><path d="M2059.1,104.76L2081.6,66.26L2036.6,66.26Z" fill="#fff" stroke="#37AD6B" stroke-width="2.6"/><path d="M2059.1,104.76L2081.6,66.26L2059.1,66.26Z" fill="#37AD6B"/><path d="M2009.72,145.61L2032.22,107.11L1987.22,107.11Z" fill="#fff" stroke="#37AD6B" stroke-width="2.6"/><path d="M2009.72,145.61L2032.22,107.11L2009.72,107.11Z" fill="#37AD6B"/><path d="M1964,155.91L1986.5,117.41L1941.5,117.41Z" fill="#fff" stroke="#37AD6B" stroke-width="2.6"/><path d="M1964,155.91L1986.5,117.41L1964,117.41Z" fill="#37AD6B"/><path d="M1918.27,166.63L1940.77,128.13L1895.77,128.13Z" fill="#fff" stroke="#37AD6B" stroke-width="2.6"/><path d="M1918.27,166.63L1940.77,128.13L1918.27,128.13Z" fill="#37AD6B"/><path d="M1872.55,177.13L1895.05,138.63L1850.05,138.63Z" fill="#fff" stroke="#37AD6B" stroke-width="2.6"/><path d="M1872.55,177.13L1895.05,138.63L1872.55,138.63Z" fill="#37AD6B"/><path d="M1826.83,185.86L1849.33,147.36L1804.33,147.36Z" fill="#fff" stroke="#37AD6B" stroke-width="2.6"/><path d="M1826.83,185.86L1849.33,147.36L1826.83,147.36Z" fill="#37AD6B"/><path d="M1781.11,193.73L1803.61,155.23L1758.61,155.23Z" fill="#fff" stroke="#37AD6B" stroke-width="2.6"/><path d="M1781.11,193.73L1803.61,155.23L1781.11,155.23Z" fill="#37AD6B"/><path d="M1735.38,200.93L1757.88,162.43L1712.88,162.43Z" fill="#fff" stroke="#37AD6B" stroke-width="2.6"/><path d="M1735.38,200.93L1757.88,162.43L1735.38,162.43Z" fill="#37AD6B"/><path d="M1689.66,208.58L1712.16,170.08L1667.16,170.08Z" fill="#fff" stroke="#37AD6B" stroke-width="2.6"/><path d="M1689.66,208.58L1712.16,170.08L1689.66,170.08Z" fill="#37AD6B"/><path d="M1643.94,217.23L1666.44,178.73L1621.44,178.73Z" fill="#fff" stroke="#37AD6B" stroke-width="2.6"/><path d="M1643.94,217.23L1666.44,178.73L1643.94,178.73Z" fill="#37AD6B"/><path d="M1598.22,226.61L1620.72,188.11L1575.72,188.11Z" fill="#fff" stroke="#37AD6B" stroke-width="2.6"/><path d="M1598.22,226.61L1620.72,188.11L1598.22,188.11Z" fill="#37AD6B"/><path d="M1552.49,236.92L1574.99,198.42L1529.99,198.42Z" fill="#fff" stroke="#37AD6B" stroke-width="2.6"/><path d="M1552.49,236.92L1574.99,198.42L1552.49,198.42Z" fill="#37AD6B"/><path d="M1506.77,247.37L1529.27,208.87L1484.27,208.87Z" fill="#fff" stroke="#37AD6B" stroke-width="2.6"/><path d="M1506.77,247.37L1529.27,208.87L1506.77,208.87Z" fill="#37AD6B"/><path d="M1461.05,257.51L1483.55,219.01L1438.55,219.01Z" fill="#fff" stroke="#37AD6B" stroke-width="2.6"/><path d="M1461.05,257.51L1483.55,219.01L1461.05,219.01Z" fill="#37AD6B"/><path d="M1415.33,268.21L1437.83,229.71L1392.83,229.71Z" fill="#fff" stroke="#37AD6B" stroke-width="2.6"/><path d="M1415.33,268.21L1437.83,229.71L1415.33,229.71Z" fill="#37AD6B"/><path d="M1369.6,280L1392.1,241.5L1347.1,241.5Z" fill="#fff" stroke="#37AD6B" stroke-width="2.6"/><path d="M1369.6,280L1392.1,241.5L1369.6,241.5Z" fill="#37AD6B"/><path d="M1323.88,291.95L1346.38,253.45L1301.38,253.45Z" fill="#fff" stroke="#37AD6B" stroke-width="2.6"/><path d="M1323.88,291.95L1346.38,253.45L1323.88,253.45Z" fill="#37AD6B"/><path d="M1278.16,303.84L1300.66,265.34L1255.66,265.34Z" fill="#fff" stroke="#37AD6B" stroke-width="2.6"/><path d="M1278.16,303.84L1300.66,265.34L1278.16,265.34Z" fill="#37AD6B"/><path d="M1232.44,315.41L1254.94,276.91L1209.94,276.91Z" fill="#fff" stroke="#37AD6B" stroke-width="2.6"/><path d="M1232.44,315.41L1254.94,276.91L1232.44,276.91Z" fill="#37AD6B"/><path d="M1186.71,326.14L1209.21,287.64L1164.21,287.64Z" fill="#fff" stroke="#37AD6B" stroke-width="2.6"/><path d="M1186.71,326.14L1209.21,287.64L1186.71,287.64Z" fill="#37AD6B"/><path d="M1140.99,337.68L1163.49,299.18L1118.49,299.18Z" fill="#fff" stroke="#37AD6B" stroke-width="2.6"/><path d="M1140.99,337.68L1163.49,299.18L1140.99,299.18Z" fill="#37AD6B"/><path d="M1095.27,351.48L1117.77,312.98L1072.77,312.98Z" fill="#fff" stroke="#37AD6B" stroke-width="2.6"/><path d="M1095.27,351.48L1117.77,312.98L1095.27,312.98Z" fill="#37AD6B"/><path d="M1049.55,366.58L1072.05,328.08L1027.05,328.08Z" fill="#fff" stroke="#37AD6B" stroke-width="2.6"/><path d="M1049.55,366.58L1072.05,328.08L1049.55,328.08Z" fill="#37AD6B"/><path d="M1003.82,380.51L1026.32,342.01L981.32,342.01Z" fill="#fff" stroke="#37AD6B" stroke-width="2.6"/><path d="M1003.82,380.51L1026.32,342.01L1003.82,342.01Z" fill="#37AD6B"/><path d="M958.1,393.25L980.6,354.75L935.6,354.75Z" fill="#fff" stroke="#37AD6B" stroke-width="2.6"/><path d="M958.1,393.25L980.6,354.75L958.1,354.75Z" fill="#37AD6B"/><path d="M912.38,406.08L934.88,367.58L889.88,367.58Z" fill="#fff" stroke="#37AD6B" stroke-width="2.6"/><path d="M912.38,406.08L934.88,367.58L912.38,367.58Z" fill="#37AD6B"/><path d="M866.66,420.02L889.16,381.52L844.16,381.52Z" fill="#fff" stroke="#37AD6B" stroke-width="2.6"/><path d="M866.66,420.02L889.16,381.52L866.66,381.52Z" fill="#37AD6B"/><path d="M820.93,431.8L843.43,393.3L798.43,393.3Z" fill="#fff" stroke="#37AD6B" stroke-width="2.6"/><path d="M820.93,431.8L843.43,393.3L820.93,393.3Z" fill="#37AD6B"/><path d="M775.21,446.12L797.71,407.62L752.71,407.62Z" fill="#fff" stroke="#37AD6B" stroke-width="2.6"/><path d="M775.21,446.12L797.71,407.62L775.21,407.62Z" fill="#37AD6B"/><path d="M729.49,462.54L751.99,424.04L706.99,424.04Z" fill="#fff" stroke="#37AD6B" stroke-width="2.6"/><path d="M729.49,462.54L751.99,424.04L729.49,424.04Z" fill="#37AD6B"/><path d="M683.77,479.03L706.27,440.53L661.27,440.53Z" fill="#fff" stroke="#37AD6B" stroke-width="2.6"/><path d="M683.77,479.03L706.27,440.53L683.77,440.53Z" fill="#37AD6B"/><path d="M638.04,496.83L660.54,458.33L615.54,458.33Z" fill="#fff" stroke="#37AD6B" stroke-width="2.6"/><path d="M638.04,496.83L660.54,458.33L638.04,458.33Z" fill="#37AD6B"/><path d="M592.32,517.48L614.82,478.98L569.82,478.98Z" fill="#fff" stroke="#37AD6B" stroke-width="2.6"/><path d="M592.32,517.48L614.82,478.98L592.32,478.98Z" fill="#37AD6B"/><path d="M546.6,539.49L569.1,500.99L524.1,500.99Z" fill="#fff" stroke="#37AD6B" stroke-width="2.6"/><path d="M546.6,539.49L569.1,500.99L546.6,500.99Z" fill="#37AD6B"/><path d="M500.88,565.89L523.38,527.39L478.38,527.39Z" fill="#fff" stroke="#37AD6B" stroke-width="2.6"/><path d="M500.88,565.89L523.38,527.39L500.88,527.39Z" fill="#37AD6B"/><path d="M456.83,594.5L479.33,556L434.33,556Z" fill="#fff" stroke="#37AD6B" stroke-width="2.6"/><path d="M456.83,594.5L479.33,556L456.83,556Z" fill="#37AD6B"/><path d="M412.78,635.25L435.28,596.75L390.28,596.75Z" fill="#fff" stroke="#37AD6B" stroke-width="2.6"/><path d="M412.78,635.25L435.28,596.75L412.78,596.75Z" fill="#37AD6B"/><path d="M368.74,674.69L391.24,636.19L346.24,636.19Z" fill="#fff" stroke="#37AD6B" stroke-width="2.6"/><path d="M368.74,674.69L391.24,636.19L368.74,636.19Z" fill="#37AD6B"/><path d="M324.69,731.9L347.19,693.4L302.19,693.4Z" fill="#fff" stroke="#37AD6B" stroke-width="2.6"/><path d="M324.69,731.9L347.19,693.4L324.69,693.4Z" fill="#37AD6B"/><path d="M280.65,803.93L303.15,765.43L258.15,765.43Z" fill="#fff" stroke="#37AD6B" stroke-width="2.6"/><path d="M280.65,803.93L303.15,765.43L280.65,765.43Z" fill="#37AD6B"/><polyline points="237.07,1502.09 237.27,1466.71 237.46,1431.32 237.65,1395.94 237.83,1360.56 238.01,1325.17 238.21,1289.79 238.42,1254.41 238.66,1219.02 239,1183.64 239.38,1148.26 239.81,1112.88 240.28,1077.49 240.84,1042.11 241.52,1006.73 242.41,971.34 243.51,935.96 244.9,900.58 246.84,865.19 249.63,829.81 254.33,794.43 282.98,703.52 329.35,618.78 375.73,567.84 422.1,526.09 468.48,493.51 514.85,465.61 561.23,442.45 607.61,422.55 653.98,406.52 700.36,390.91 746.73,373.77 793.11,360.8 839.48,347.37 885.86,336.9 931.58,326.67 977.3,314.8 1023.03,306.17 1068.75,298.32 1114.47,290.98 1160.19,280.56 1205.92,272.45 1251.64,264.79 1297.36,257.12 1343.08,248.86 1388.81,240.58 1434.53,232.83 1480.25,225.24 1525.97,217.35 1571.7,209.88 1617.42,203.64 1663.14,197.75 1708.86,191.62 1754.59,186.29 1800.31,177.36 1846.03,172.17 1891.75,164.77 1937.48,158.32 1983.2,147.9 2028.92,138.88 2060.01,125.21" fill="none" stroke="#B177DE" stroke-width="7" stroke-linejoin="round" stroke-linecap="round"/><polyline points="2059.1,102.07 2009.72,120.93 1964,131.18 1918.27,139.64 1872.55,144.26 1826.83,150.34 1781.11,158.27 1735.38,165.79 1689.66,172.95 1643.94,180.49 1598.22,187.99 1552.49,194.95 1506.77,201.88 1461.05,209.31 1415.33,216.91 1369.6,224.41 1323.88,231.95 1278.16,239.84 1232.44,247.3 1186.71,253.29 1140.99,265.5 1095.27,279.27 1049.55,291.81 1003.82,302.53 958.1,313.89 912.38,324.35 866.66,335.96 820.93,344.89 775.21,357.89 729.49,370.88 683.77,385.16 638.04,400.62 592.32,418.16 546.6,440.04 500.88,463.14 456.83,491.69 412.78,524.63 368.74,565.62 324.69,623.09 280.65,704.29" fill="none" stroke="#B177DE" stroke-width="7" stroke-linejoin="round" stroke-linecap="round"/><path d="M237.07,1478.34L259.07,1502.09L237.07,1525.84L215.07,1502.09Z" fill="#fff" stroke="#B177DE" stroke-width="2.6"/><path d="M237.07,1478.34L259.07,1502.09L237.07,1525.84Z" fill="#B177DE"/><path d="M237.27,1442.96L259.27,1466.71L237.27,1490.46L215.27,1466.71Z" fill="#fff" stroke="#B177DE" stroke-width="2.6"/><path d="M237.27,1442.96L259.27,1466.71L237.27,1490.46Z" fill="#B177DE"/><path d="M237.46,1407.57L259.46,1431.32L237.46,1455.07L215.46,1431.32Z" fill="#fff" stroke="#B177DE" stroke-width="2.6"/><path d="M237.46,1407.57L259.46,1431.32L237.46,1455.07Z" fill="#B177DE"/><path d="M237.65,1372.19L259.65,1395.94L237.65,1419.69L215.65,1395.94Z" fill="#fff" stroke="#B177DE" stroke-width="2.6"/><path d="M237.65,1372.19L259.65,1395.94L237.65,1419.69Z" fill="#B177DE"/><path d="M237.83,1336.81L259.83,1360.56L237.83,1384.31L215.83,1360.56Z" fill="#fff" stroke="#B177DE" stroke-width="2.6"/><path d="M237.83,1336.81L259.83,1360.56L237.83,1384.31Z" fill="#B177DE"/><path d="M238.01,1301.42L260.01,1325.17L238.01,1348.92L216.01,1325.17Z" fill="#fff" stroke="#B177DE" stroke-width="2.6"/><path d="M238.01,1301.42L260.01,1325.17L238.01,1348.92Z" fill="#B177DE"/><path d="M238.21,1266.04L260.21,1289.79L238.21,1313.54L216.21,1289.79Z" fill="#fff" stroke="#B177DE" stroke-width="2.6"/><path d="M238.21,1266.04L260.21,1289.79L238.21,1313.54Z" fill="#B177DE"/><path d="M238.42,1230.66L260.42,1254.41L238.42,1278.16L216.42,1254.41Z" fill="#fff" stroke="#B177DE" stroke-width="2.6"/><path d="M238.42,1230.66L260.42,1254.41L238.42,1278.16Z" fill="#B177DE"/><path d="M238.66,1195.27L260.66,1219.02L238.66,1242.77L216.66,1219.02Z" fill="#fff" stroke="#B177DE" stroke-width="2.6"/><path d="M238.66,1195.27L260.66,1219.02L238.66,1242.77Z" fill="#B177DE"/><path d="M239,1159.89L261,1183.64L239,1207.39L217,1183.64Z" fill="#fff" stroke="#B177DE" stroke-width="2.6"/><path d="M239,1159.89L261,1183.64L239,1207.39Z" fill="#B177DE"/><path d="M239.38,1124.51L261.38,1148.26L239.38,1172.01L217.38,1148.26Z" fill="#fff" stroke="#B177DE" stroke-width="2.6"/><path d="M239.38,1124.51L261.38,1148.26L239.38,1172.01Z" fill="#B177DE"/><path d="M239.81,1089.13L261.81,1112.88L239.81,1136.63L217.81,1112.88Z" fill="#fff" stroke="#B177DE" stroke-width="2.6"/><path d="M239.81,1089.13L261.81,1112.88L239.81,1136.63Z" fill="#B177DE"/><path d="M240.28,1053.74L262.28,1077.49L240.28,1101.24L218.28,1077.49Z" fill="#fff" stroke="#B177DE" stroke-width="2.6"/><path d="M240.28,1053.74L262.28,1077.49L240.28,1101.24Z" fill="#B177DE"/><path d="M240.84,1018.36L262.84,1042.11L240.84,1065.86L218.84,1042.11Z" fill="#fff" stroke="#B177DE" stroke-width="2.6"/><path d="M240.84,1018.36L262.84,1042.11L240.84,1065.86Z" fill="#B177DE"/><path d="M241.52,982.98L263.52,1006.73L241.52,1030.48L219.52,1006.73Z" fill="#fff" stroke="#B177DE" stroke-width="2.6"/><path d="M241.52,982.98L263.52,1006.73L241.52,1030.48Z" fill="#B177DE"/><path d="M242.41,947.59L264.41,971.34L242.41,995.09L220.41,971.34Z" fill="#fff" stroke="#B177DE" stroke-width="2.6"/><path d="M242.41,947.59L264.41,971.34L242.41,995.09Z" fill="#B177DE"/><path d="M243.51,912.21L265.51,935.96L243.51,959.71L221.51,935.96Z" fill="#fff" stroke="#B177DE" stroke-width="2.6"/><path d="M243.51,912.21L265.51,935.96L243.51,959.71Z" fill="#B177DE"/><path d="M244.9,876.83L266.9,900.58L244.9,924.33L222.9,900.58Z" fill="#fff" stroke="#B177DE" stroke-width="2.6"/><path d="M244.9,876.83L266.9,900.58L244.9,924.33Z" fill="#B177DE"/><path d="M246.84,841.44L268.84,865.19L246.84,888.94L224.84,865.19Z" fill="#fff" stroke="#B177DE" stroke-width="2.6"/><path d="M246.84,841.44L268.84,865.19L246.84,888.94Z" fill="#B177DE"/><path d="M249.63,806.06L271.63,829.81L249.63,853.56L227.63,829.81Z" fill="#fff" stroke="#B177DE" stroke-width="2.6"/><path d="M249.63,806.06L271.63,829.81L249.63,853.56Z" fill="#B177DE"/><path d="M254.33,770.68L276.33,794.43L254.33,818.18L232.33,794.43Z" fill="#fff" stroke="#B177DE" stroke-width="2.6"/><path d="M254.33,770.68L276.33,794.43L254.33,818.18Z" fill="#B177DE"/><path d="M282.98,679.77L304.98,703.52L282.98,727.27L260.98,703.52Z" fill="#fff" stroke="#B177DE" stroke-width="2.6"/><path d="M282.98,679.77L304.98,703.52L282.98,727.27Z" fill="#B177DE"/><path d="M329.35,595.03L351.35,618.78L329.35,642.53L307.35,618.78Z" fill="#fff" stroke="#B177DE" stroke-width="2.6"/><path d="M329.35,595.03L351.35,618.78L329.35,642.53Z" fill="#B177DE"/><path d="M375.73,544.09L397.73,567.84L375.73,591.59L353.73,567.84Z" fill="#fff" stroke="#B177DE" stroke-width="2.6"/><path d="M375.73,544.09L397.73,567.84L375.73,591.59Z" fill="#B177DE"/><path d="M422.1,502.34L444.1,526.09L422.1,549.84L400.1,526.09Z" fill="#fff" stroke="#B177DE" stroke-width="2.6"/><path d="M422.1,502.34L444.1,526.09L422.1,549.84Z" fill="#B177DE"/><path d="M468.48,469.76L490.48,493.51L468.48,517.26L446.48,493.51Z" fill="#fff" stroke="#B177DE" stroke-width="2.6"/><path d="M468.48,469.76L490.48,493.51L468.48,517.26Z" fill="#B177DE"/><path d="M514.85,441.86L536.85,465.61L514.85,489.36L492.85,465.61Z" fill="#fff" stroke="#B177DE" stroke-width="2.6"/><path d="M514.85,441.86L536.85,465.61L514.85,489.36Z" fill="#B177DE"/><path d="M561.23,418.7L583.23,442.45L561.23,466.2L539.23,442.45Z" fill="#fff" stroke="#B177DE" stroke-width="2.6"/><path d="M561.23,418.7L583.23,442.45L561.23,466.2Z" fill="#B177DE"/><path d="M607.61,398.8L629.61,422.55L607.61,446.3L585.61,422.55Z" fill="#fff" stroke="#B177DE" stroke-width="2.6"/><path d="M607.61,398.8L629.61,422.55L607.61,446.3Z" fill="#B177DE"/><path d="M653.98,382.77L675.98,406.52L653.98,430.27L631.98,406.52Z" fill="#fff" stroke="#B177DE" stroke-width="2.6"/><path d="M653.98,382.77L675.98,406.52L653.98,430.27Z" fill="#B177DE"/><path d="M700.36,367.16L722.36,390.91L700.36,414.66L678.36,390.91Z" fill="#fff" stroke="#B177DE" stroke-width="2.6"/><path d="M700.36,367.16L722.36,390.91L700.36,414.66Z" fill="#B177DE"/><path d="M746.73,350.02L768.73,373.77L746.73,397.52L724.73,373.77Z" fill="#fff" stroke="#B177DE" stroke-width="2.6"/><path d="M746.73,350.02L768.73,373.77L746.73,397.52Z" fill="#B177DE"/><path d="M793.11,337.05L815.11,360.8L793.11,384.55L771.11,360.8Z" fill="#fff" stroke="#B177DE" stroke-width="2.6"/><path d="M793.11,337.05L815.11,360.8L793.11,384.55Z" fill="#B177DE"/><path d="M839.48,323.62L861.48,347.37L839.48,371.12L817.48,347.37Z" fill="#fff" stroke="#B177DE" stroke-width="2.6"/><path d="M839.48,323.62L861.48,347.37L839.48,371.12Z" fill="#B177DE"/><path d="M885.86,313.15L907.86,336.9L885.86,360.65L863.86,336.9Z" fill="#fff" stroke="#B177DE" stroke-width="2.6"/><path d="M885.86,313.15L907.86,336.9L885.86,360.65Z" fill="#B177DE"/><path d="M931.58,302.92L953.58,326.67L931.58,350.42L909.58,326.67Z" fill="#fff" stroke="#B177DE" stroke-width="2.6"/><path d="M931.58,302.92L953.58,326.67L931.58,350.42Z" fill="#B177DE"/><path d="M977.3,291.05L999.3,314.8L977.3,338.55L955.3,314.8Z" fill="#fff" stroke="#B177DE" stroke-width="2.6"/><path d="M977.3,291.05L999.3,314.8L977.3,338.55Z" fill="#B177DE"/><path d="M1023.03,282.42L1045.03,306.17L1023.03,329.92L1001.03,306.17Z" fill="#fff" stroke="#B177DE" stroke-width="2.6"/><path d="M1023.03,282.42L1045.03,306.17L1023.03,329.92Z" fill="#B177DE"/><path d="M1068.75,274.57L1090.75,298.32L1068.75,322.07L1046.75,298.32Z" fill="#fff" stroke="#B177DE" stroke-width="2.6"/><path d="M1068.75,274.57L1090.75,298.32L1068.75,322.07Z" fill="#B177DE"/><path d="M1114.47,267.23L1136.47,290.98L1114.47,314.73L1092.47,290.98Z" fill="#fff" stroke="#B177DE" stroke-width="2.6"/><path d="M1114.47,267.23L1136.47,290.98L1114.47,314.73Z" fill="#B177DE"/><path d="M1160.19,256.81L1182.19,280.56L1160.19,304.31L1138.19,280.56Z" fill="#fff" stroke="#B177DE" stroke-width="2.6"/><path d="M1160.19,256.81L1182.19,280.56L1160.19,304.31Z" fill="#B177DE"/><path d="M1205.92,248.7L1227.92,272.45L1205.92,296.2L1183.92,272.45Z" fill="#fff" stroke="#B177DE" stroke-width="2.6"/><path d="M1205.92,248.7L1227.92,272.45L1205.92,296.2Z" fill="#B177DE"/><path d="M1251.64,241.04L1273.64,264.79L1251.64,288.54L1229.64,264.79Z" fill="#fff" stroke="#B177DE" stroke-width="2.6"/><path d="M1251.64,241.04L1273.64,264.79L1251.64,288.54Z" fill="#B177DE"/><path d="M1297.36,233.37L1319.36,257.12L1297.36,280.87L1275.36,257.12Z" fill="#fff" stroke="#B177DE" stroke-width="2.6"/><path d="M1297.36,233.37L1319.36,257.12L1297.36,280.87Z" fill="#B177DE"/><path d="M1343.08,225.11L1365.08,248.86L1343.08,272.61L1321.08,248.86Z" fill="#fff" stroke="#B177DE" stroke-width="2.6"/><path d="M1343.08,225.11L1365.08,248.86L1343.08,272.61Z" fill="#B177DE"/><path d="M1388.81,216.83L1410.81,240.58L1388.81,264.33L1366.81,240.58Z" fill="#fff" stroke="#B177DE" stroke-width="2.6"/><path d="M1388.81,216.83L1410.81,240.58L1388.81,264.33Z" fill="#B177DE"/><path d="M1434.53,209.08L1456.53,232.83L1434.53,256.58L1412.53,232.83Z" fill="#fff" stroke="#B177DE" stroke-width="2.6"/><path d="M1434.53,209.08L1456.53,232.83L1434.53,256.58Z" fill="#B177DE"/><path d="M1480.25,201.49L1502.25,225.24L1480.25,248.99L1458.25,225.24Z" fill="#fff" stroke="#B177DE" stroke-width="2.6"/><path d="M1480.25,201.49L1502.25,225.24L1480.25,248.99Z" fill="#B177DE"/><path d="M1525.97,193.6L1547.97,217.35L1525.97,241.1L1503.97,217.35Z" fill="#fff" stroke="#B177DE" stroke-width="2.6"/><path d="M1525.97,193.6L1547.97,217.35L1525.97,241.1Z" fill="#B177DE"/><path d="M1571.7,186.13L1593.7,209.88L1571.7,233.63L1549.7,209.88Z" fill="#fff" stroke="#B177DE" stroke-width="2.6"/><path d="M1571.7,186.13L1593.7,209.88L1571.7,233.63Z" fill="#B177DE"/><path d="M1617.42,179.89L1639.42,203.64L1617.42,227.39L1595.42,203.64Z" fill="#fff" stroke="#B177DE" stroke-width="2.6"/><path d="M1617.42,179.89L1639.42,203.64L1617.42,227.39Z" fill="#B177DE"/><path d="M1663.14,174L1685.14,197.75L1663.14,221.5L1641.14,197.75Z" fill="#fff" stroke="#B177DE" stroke-width="2.6"/><path d="M1663.14,174L1685.14,197.75L1663.14,221.5Z" fill="#B177DE"/><path d="M1708.86,167.87L1730.86,191.62L1708.86,215.37L1686.86,191.62Z" fill="#fff" stroke="#B177DE" stroke-width="2.6"/><path d="M1708.86,167.87L1730.86,191.62L1708.86,215.37Z" fill="#B177DE"/><path d="M1754.59,162.54L1776.59,186.29L1754.59,210.04L1732.59,186.29Z" fill="#fff" stroke="#B177DE" stroke-width="2.6"/><path d="M1754.59,162.54L1776.59,186.29L1754.59,210.04Z" fill="#B177DE"/><path d="M1800.31,153.61L1822.31,177.36L1800.31,201.11L1778.31,177.36Z" fill="#fff" stroke="#B177DE" stroke-width="2.6"/><path d="M1800.31,153.61L1822.31,177.36L1800.31,201.11Z" fill="#B177DE"/><path d="M1846.03,148.42L1868.03,172.17L1846.03,195.92L1824.03,172.17Z" fill="#fff" stroke="#B177DE" stroke-width="2.6"/><path d="M1846.03,148.42L1868.03,172.17L1846.03,195.92Z" fill="#B177DE"/><path d="M1891.75,141.02L1913.75,164.77L1891.75,188.52L1869.75,164.77Z" fill="#fff" stroke="#B177DE" stroke-width="2.6"/><path d="M1891.75,141.02L1913.75,164.77L1891.75,188.52Z" fill="#B177DE"/><path d="M1937.48,134.57L1959.48,158.32L1937.48,182.07L1915.48,158.32Z" fill="#fff" stroke="#B177DE" stroke-width="2.6"/><path d="M1937.48,134.57L1959.48,158.32L1937.48,182.07Z" fill="#B177DE"/><path d="M1983.2,124.15L2005.2,147.9L1983.2,171.65L1961.2,147.9Z" fill="#fff" stroke="#B177DE" stroke-width="2.6"/><path d="M1983.2,124.15L2005.2,147.9L1983.2,171.65Z" fill="#B177DE"/><path d="M2028.92,115.13L2050.92,138.88L2028.92,162.63L2006.92,138.88Z" fill="#fff" stroke="#B177DE" stroke-width="2.6"/><path d="M2028.92,115.13L2050.92,138.88L2028.92,162.63Z" fill="#B177DE"/><path d="M2060.01,101.46L2082.01,125.21L2060.01,148.96L2038.01,125.21Z" fill="#fff" stroke="#B177DE" stroke-width="2.6"/><path d="M2060.01,101.46L2082.01,125.21L2060.01,148.96Z" fill="#B177DE"/><path d="M2059.1,78.32L2081.1,102.07L2059.1,125.82L2037.1,102.07Z" fill="#fff" stroke="#B177DE" stroke-width="2.6"/><path d="M2059.1,78.32L2081.1,102.07L2059.1,125.82Z" fill="#B177DE"/><path d="M2009.72,97.18L2031.72,120.93L2009.72,144.68L1987.72,120.93Z" fill="#fff" stroke="#B177DE" stroke-width="2.6"/><path d="M2009.72,97.18L2031.72,120.93L2009.72,144.68Z" fill="#B177DE"/><path d="M1964,107.43L1986,131.18L1964,154.93L1942,131.18Z" fill="#fff" stroke="#B177DE" stroke-width="2.6"/><path d="M1964,107.43L1986,131.18L1964,154.93Z" fill="#B177DE"/><path d="M1918.27,115.89L1940.27,139.64L1918.27,163.39L1896.27,139.64Z" fill="#fff" stroke="#B177DE" stroke-width="2.6"/><path d="M1918.27,115.89L1940.27,139.64L1918.27,163.39Z" fill="#B177DE"/><path d="M1872.55,120.51L1894.55,144.26L1872.55,168.01L1850.55,144.26Z" fill="#fff" stroke="#B177DE" stroke-width="2.6"/><path d="M1872.55,120.51L1894.55,144.26L1872.55,168.01Z" fill="#B177DE"/><path d="M1826.83,126.59L1848.83,150.34L1826.83,174.09L1804.83,150.34Z" fill="#fff" stroke="#B177DE" stroke-width="2.6"/><path d="M1826.83,126.59L1848.83,150.34L1826.83,174.09Z" fill="#B177DE"/><path d="M1781.11,134.52L1803.11,158.27L1781.11,182.02L1759.11,158.27Z" fill="#fff" stroke="#B177DE" stroke-width="2.6"/><path d="M1781.11,134.52L1803.11,158.27L1781.11,182.02Z" fill="#B177DE"/><path d="M1735.38,142.04L1757.38,165.79L1735.38,189.54L1713.38,165.79Z" fill="#fff" stroke="#B177DE" stroke-width="2.6"/><path d="M1735.38,142.04L1757.38,165.79L1735.38,189.54Z" fill="#B177DE"/><path d="M1689.66,149.2L1711.66,172.95L1689.66,196.7L1667.66,172.95Z" fill="#fff" stroke="#B177DE" stroke-width="2.6"/><path d="M1689.66,149.2L1711.66,172.95L1689.66,196.7Z" fill="#B177DE"/><path d="M1643.94,156.74L1665.94,180.49L1643.94,204.24L1621.94,180.49Z" fill="#fff" stroke="#B177DE" stroke-width="2.6"/><path d="M1643.94,156.74L1665.94,180.49L1643.94,204.24Z" fill="#B177DE"/><path d="M1598.22,164.24L1620.22,187.99L1598.22,211.74L1576.22,187.99Z" fill="#fff" stroke="#B177DE" stroke-width="2.6"/><path d="M1598.22,164.24L1620.22,187.99L1598.22,211.74Z" fill="#B177DE"/><path d="M1552.49,171.2L1574.49,194.95L1552.49,218.7L1530.49,194.95Z" fill="#fff" stroke="#B177DE" stroke-width="2.6"/><path d="M1552.49,171.2L1574.49,194.95L1552.49,218.7Z" fill="#B177DE"/><path d="M1506.77,178.13L1528.77,201.88L1506.77,225.63L1484.77,201.88Z" fill="#fff" stroke="#B177DE" stroke-width="2.6"/><path d="M1506.77,178.13L1528.77,201.88L1506.77,225.63Z" fill="#B177DE"/><path d="M1461.05,185.56L1483.05,209.31L1461.05,233.06L1439.05,209.31Z" fill="#fff" stroke="#B177DE" stroke-width="2.6"/><path d="M1461.05,185.56L1483.05,209.31L1461.05,233.06Z" fill="#B177DE"/><path d="M1415.33,193.16L1437.33,216.91L1415.33,240.66L1393.33,216.91Z" fill="#fff" stroke="#B177DE" stroke-width="2.6"/><path d="M1415.33,193.16L1437.33,216.91L1415.33,240.66Z" fill="#B177DE"/><path d="M1369.6,200.66L1391.6,224.41L1369.6,248.16L1347.6,224.41Z" fill="#fff" stroke="#B177DE" stroke-width="2.6"/><path d="M1369.6,200.66L1391.6,224.41L1369.6,248.16Z" fill="#B177DE"/><path d="M1323.88,208.2L1345.88,231.95L1323.88,255.7L1301.88,231.95Z" fill="#fff" stroke="#B177DE" stroke-width="2.6"/><path d="M1323.88,208.2L1345.88,231.95L1323.88,255.7Z" fill="#B177DE"/><path d="M1278.16,216.09L1300.16,239.84L1278.16,263.59L1256.16,239.84Z" fill="#fff" stroke="#B177DE" stroke-width="2.6"/><path d="M1278.16,216.09L1300.16,239.84L1278.16,263.59Z" fill="#B177DE"/><path d="M1232.44,223.55L1254.44,247.3L1232.44,271.05L1210.44,247.3Z" fill="#fff" stroke="#B177DE" stroke-width="2.6"/><path d="M1232.44,223.55L1254.44,247.3L1232.44,271.05Z" fill="#B177DE"/><path d="M1186.71,229.54L1208.71,253.29L1186.71,277.04L1164.71,253.29Z" fill="#fff" stroke="#B177DE" stroke-width="2.6"/><path d="M1186.71,229.54L1208.71,253.29L1186.71,277.04Z" fill="#B177DE"/><path d="M1140.99,241.75L1162.99,265.5L1140.99,289.25L1118.99,265.5Z" fill="#fff" stroke="#B177DE" stroke-width="2.6"/><path d="M1140.99,241.75L1162.99,265.5L1140.99,289.25Z" fill="#B177DE"/><path d="M1095.27,255.52L1117.27,279.27L1095.27,303.02L1073.27,279.27Z" fill="#fff" stroke="#B177DE" stroke-width="2.6"/><path d="M1095.27,255.52L1117.27,279.27L1095.27,303.02Z" fill="#B177DE"/><path d="M1049.55,268.06L1071.55,291.81L1049.55,315.56L1027.55,291.81Z" fill="#fff" stroke="#B177DE" stroke-width="2.6"/><path d="M1049.55,268.06L1071.55,291.81L1049.55,315.56Z" fill="#B177DE"/><path d="M1003.82,278.78L1025.82,302.53L1003.82,326.28L981.82,302.53Z" fill="#fff" stroke="#B177DE" stroke-width="2.6"/><path d="M1003.82,278.78L1025.82,302.53L1003.82,326.28Z" fill="#B177DE"/><path d="M958.1,290.14L980.1,313.89L958.1,337.64L936.1,313.89Z" fill="#fff" stroke="#B177DE" stroke-width="2.6"/><path d="M958.1,290.14L980.1,313.89L958.1,337.64Z" fill="#B177DE"/><path d="M912.38,300.6L934.38,324.35L912.38,348.1L890.38,324.35Z" fill="#fff" stroke="#B177DE" stroke-width="2.6"/><path d="M912.38,300.6L934.38,324.35L912.38,348.1Z" fill="#B177DE"/><path d="M866.66,312.21L888.66,335.96L866.66,359.71L844.66,335.96Z" fill="#fff" stroke="#B177DE" stroke-width="2.6"/><path d="M866.66,312.21L888.66,335.96L866.66,359.71Z" fill="#B177DE"/><path d="M820.93,321.14L842.93,344.89L820.93,368.64L798.93,344.89Z" fill="#fff" stroke="#B177DE" stroke-width="2.6"/><path d="M820.93,321.14L842.93,344.89L820.93,368.64Z" fill="#B177DE"/><path d="M775.21,334.14L797.21,357.89L775.21,381.64L753.21,357.89Z" fill="#fff" stroke="#B177DE" stroke-width="2.6"/><path d="M775.21,334.14L797.21,357.89L775.21,381.64Z" fill="#B177DE"/><path d="M729.49,347.13L751.49,370.88L729.49,394.63L707.49,370.88Z" fill="#fff" stroke="#B177DE" stroke-width="2.6"/><path d="M729.49,347.13L751.49,370.88L729.49,394.63Z" fill="#B177DE"/><path d="M683.77,361.41L705.77,385.16L683.77,408.91L661.77,385.16Z" fill="#fff" stroke="#B177DE" stroke-width="2.6"/><path d="M683.77,361.41L705.77,385.16L683.77,408.91Z" fill="#B177DE"/><path d="M638.04,376.87L660.04,400.62L638.04,424.37L616.04,400.62Z" fill="#fff" stroke="#B177DE" stroke-width="2.6"/><path d="M638.04,376.87L660.04,400.62L638.04,424.37Z" fill="#B177DE"/><path d="M592.32,394.41L614.32,418.16L592.32,441.91L570.32,418.16Z" fill="#fff" stroke="#B177DE" stroke-width="2.6"/><path d="M592.32,394.41L614.32,418.16L592.32,441.91Z" fill="#B177DE"/><path d="M546.6,416.29L568.6,440.04L546.6,463.79L524.6,440.04Z" fill="#fff" stroke="#B177DE" stroke-width="2.6"/><path d="M546.6,416.29L568.6,440.04L546.6,463.79Z" fill="#B177DE"/><path d="M500.88,439.39L522.88,463.14L500.88,486.89L478.88,463.14Z" fill="#fff" stroke="#B177DE" stroke-width="2.6"/><path d="M500.88,439.39L522.88,463.14L500.88,486.89Z" fill="#B177DE"/><path d="M456.83,467.94L478.83,491.69L456.83,515.44L434.83,491.69Z" fill="#fff" stroke="#B177DE" stroke-width="2.6"/><path d="M456.83,467.94L478.83,491.69L456.83,515.44Z" fill="#B177DE"/><path d="M412.78,500.88L434.78,524.63L412.78,548.38L390.78,524.63Z" fill="#fff" stroke="#B177DE" stroke-width="2.6"/><path d="M412.78,500.88L434.78,524.63L412.78,548.38Z" fill="#B177DE"/><path d="M368.74,541.87L390.74,565.62L368.74,589.37L346.74,565.62Z" fill="#fff" stroke="#B177DE" stroke-width="2.6"/><path d="M368.74,541.87L390.74,565.62L368.74,589.37Z" fill="#B177DE"/><path d="M324.69,599.34L346.69,623.09L324.69,646.84L302.69,623.09Z" fill="#fff" stroke="#B177DE" stroke-width="2.6"/><path d="M324.69,599.34L346.69,623.09L324.69,646.84Z" fill="#B177DE"/><path d="M280.65,680.54L302.65,704.29L280.65,728.04L258.65,704.29Z" fill="#fff" stroke="#B177DE" stroke-width="2.6"/><path d="M280.65,680.54L302.65,704.29L280.65,728.04Z" fill="#B177DE"/></g><path d="M236.6,1616.8V1601.3M236.6,39.5V55M602.38,1616.8V1601.3M602.38,39.5V55M968.16,1616.8V1601.3M968.16,39.5V55M1333.94,1616.8V1601.3M1333.94,39.5V55M1699.72,1616.8V1601.3M1699.72,39.5V55M2065.5,1616.8V1601.3M2065.5,39.5V55M419.49,1616.8V1608.8M419.49,39.5V47.5M785.27,1616.8V1608.8M785.27,39.5V47.5M1151.05,1616.8V1608.8M1151.05,39.5V47.5M1516.83,1616.8V1608.8M1516.83,39.5V47.5M1882.61,1616.8V1608.8M1882.61,39.5V47.5M219.3,1587.6H234.8M2082.6,1587.6H2067.1M219.3,1292.74H234.8M2082.6,1292.74H2067.1M219.3,997.88H234.8M2082.6,997.88H2067.1M219.3,703.02H234.8M2082.6,703.02H2067.1M219.3,408.16H234.8M2082.6,408.16H2067.1M219.3,113.3H234.8M2082.6,113.3H2067.1M219.3,1528.63H227.3M2082.6,1528.63H2074.6M219.3,1469.66H227.3M2082.6,1469.66H2074.6M219.3,1410.68H227.3M2082.6,1410.68H2074.6M219.3,1351.71H227.3M2082.6,1351.71H2074.6M219.3,1233.77H227.3M2082.6,1233.77H2074.6M219.3,1174.8H227.3M2082.6,1174.8H2074.6M219.3,1115.82H227.3M2082.6,1115.82H2074.6M219.3,1056.85H227.3M2082.6,1056.85H2074.6M219.3,938.91H227.3M2082.6,938.91H2074.6M219.3,879.94H227.3M2082.6,879.94H2074.6M219.3,820.96H227.3M2082.6,820.96H2074.6M219.3,761.99H227.3M2082.6,761.99H2074.6M219.3,644.05H227.3M2082.6,644.05H2074.6M219.3,585.08H227.3M2082.6,585.08H2074.6M219.3,526.1H227.3M2082.6,526.1H2074.6M219.3,467.13H227.3M2082.6,467.13H2074.6M219.3,349.19H227.3M2082.6,349.19H2074.6M219.3,290.22H227.3M2082.6,290.22H2074.6M219.3,231.24H227.3M2082.6,231.24H2074.6M219.3,172.27H227.3M2082.6,172.27H2074.6M219.3,54.33H227.3M2082.6,54.33H2074.6" stroke="#000" stroke-width="3.4" fill="none"/><rect x="219.3" y="39.5" width="1863.3" height="1577.3" fill="none" stroke="#000" stroke-width="3.9"/><line x1="1610.2" y1="742.6" x2="1757.3" y2="742.6" stroke="#515151" stroke-width="7.5" stroke-linecap="round"/><path d="M1667.25,726.45H1699.55V758.75H1667.25Z" fill="#fff" stroke="#515151" stroke-width="2.6"/><path d="M1683.4,726.45H1699.55V758.75H1683.4Z" fill="#515151"/><line x1="1610.2" y1="823.4" x2="1757.3" y2="823.4" stroke="#F14040" stroke-width="7.5" stroke-linecap="round"/><path d="M1664.4,823.4A19,19 0 1 1 1702.4,823.4A19,19 0 1 1 1664.4,823.4Z" fill="#fff" stroke="#F14040" stroke-width="2.6"/><path d="M1683.4,804.4A19,19 0 0 1 1683.4,842.4Z" fill="#F14040"/><line x1="1610.2" y1="904.2" x2="1757.3" y2="904.2" stroke="#1A6FDF" stroke-width="7.5" stroke-linecap="round"/><path d="M1683.4,878.53L1705.9,917.03L1660.9,917.03Z" fill="#fff" stroke="#1A6FDF" stroke-width="2.6"/><path d="M1683.4,878.53L1705.9,917.03L1683.4,917.03Z" fill="#1A6FDF"/><line x1="1610.2" y1="985" x2="1757.3" y2="985" stroke="#37AD6B" stroke-width="7.5" stroke-linecap="round"/><path d="M1683.4,1010.67L1705.9,972.17L1660.9,972.17Z" fill="#fff" stroke="#37AD6B" stroke-width="2.6"/><path d="M1683.4,1010.67L1705.9,972.17L1683.4,972.17Z" fill="#37AD6B"/><line x1="1610.2" y1="1065.8" x2="1757.3" y2="1065.8" stroke="#B177DE" stroke-width="7.5" stroke-linecap="round"/><path d="M1683.4,1042.05L1705.4,1065.8L1683.4,1089.55L1661.4,1065.8Z" fill="#fff" stroke="#B177DE" stroke-width="2.6"/><path d="M1683.4,1042.05L1705.4,1065.8L1683.4,1089.55Z" fill="#B177DE"/><clipPath id="cb"><rect x="217.5" y="1821" width="802.7" height="717.5"/></clipPath><g clip-path="url(#cb)"><polyline points="271.49,2528.11 278.31,2528.11 285.14,2528.11 291.96,2528.11 298.78,2528.11 305.61,2528.11 312.43,2528.11 319.26,2528.11 326.08,2528.11 332.9,2528.11 339.73,2528.11 346.55,2528.11 353.37,2528.11 360.2,2528.11 367.02,2528.11 373.85,2528.11 380.67,2528.11 387.49,2528.11 394.32,2528.11 401.14,2528.11 407.97,2528.11 414.79,2528.11 421.61,2528.11 428.44,2528.11 440.08,2526.02 452.12,2524.35 464.16,2523.51 476.2,2523.51 488.25,2523.09 500.29,2523.09 512.33,2523.09 524.37,2523.09 536.41,2523.09 548.45,2523.09 560.5,2523.09 572.54,2523.09 584.58,2523.51 596.62,2523.51 608.66,2523.51 620.71,2523.93 632.75,2524.35 658.84,2525.18 682.92,2526.44 709.02,2527.27 739.12,2527.69 769.22,2527.69 799.33,2528.11 829.43,2528.11 859.54,2528.11 899.68,2528.11 939.82,2528.11 979.96,2528.11 1020.1,2528.11" fill="none" stroke="#515151" stroke-width="3.6" stroke-linejoin="round" stroke-linecap="round"/><path d="M260.99,2517.61H281.99V2538.61H260.99Z" fill="#fff" stroke="#515151" stroke-width="2.0"/><path d="M260.99,2528.11H281.99V2538.61H260.99Z" fill="#515151"/><path d="M267.81,2517.61H288.81V2538.61H267.81Z" fill="#fff" stroke="#515151" stroke-width="2.0"/><path d="M267.81,2528.11H288.81V2538.61H267.81Z" fill="#515151"/><path d="M274.64,2517.61H295.64V2538.61H274.64Z" fill="#fff" stroke="#515151" stroke-width="2.0"/><path d="M274.64,2528.11H295.64V2538.61H274.64Z" fill="#515151"/><path d="M281.46,2517.61H302.46V2538.61H281.46Z" fill="#fff" stroke="#515151" stroke-width="2.0"/><path d="M281.46,2528.11H302.46V2538.61H281.46Z" fill="#515151"/><path d="M288.28,2517.61H309.28V2538.61H288.28Z" fill="#fff" stroke="#515151" stroke-width="2.0"/><path d="M288.28,2528.11H309.28V2538.61H288.28Z" fill="#515151"/><path d="M295.11,2517.61H316.11V2538.61H295.11Z" fill="#fff" stroke="#515151" stroke-width="2.0"/><path d="M295.11,2528.11H316.11V2538.61H295.11Z" fill="#515151"/><path d="M301.93,2517.61H322.93V2538.61H301.93Z" fill="#fff" stroke="#515151" stroke-width="2.0"/><path d="M301.93,2528.11H322.93V2538.61H301.93Z" fill="#515151"/><path d="M308.76,2517.61H329.76V2538.61H308.76Z" fill="#fff" stroke="#515151" stroke-width="2.0"/><path d="M308.76,2528.11H329.76V2538.61H308.76Z" fill="#515151"/><path d="M315.58,2517.61H336.58V2538.61H315.58Z" fill="#fff" stroke="#515151" stroke-width="2.0"/><path d="M315.58,2528.11H336.58V2538.61H315.58Z" fill="#515151"/><path d="M322.4,2517.61H343.4V2538.61H322.4Z" fill="#fff" stroke="#515151" stroke-width="2.0"/><path d="M322.4,2528.11H343.4V2538.61H322.4Z" fill="#515151"/><path d="M329.23,2517.61H350.23V2538.61H329.23Z" fill="#fff" stroke="#515151" stroke-width="2.0"/><path d="M329.23,2528.11H350.23V2538.61H329.23Z" fill="#515151"/><path d="M336.05,2517.61H357.05V2538.61H336.05Z" fill="#fff" stroke="#515151" stroke-width="2.0"/><path d="M336.05,2528.11H357.05V2538.61H336.05Z" fill="#515151"/><path d="M342.87,2517.61H363.87V2538.61H342.87Z" fill="#fff" stroke="#515151" stroke-width="2.0"/><path d="M342.87,2528.11H363.87V2538.61H342.87Z" fill="#515151"/><path d="M349.7,2517.61H370.7V2538.61H349.7Z" fill="#fff" stroke="#515151" stroke-width="2.0"/><path d="M349.7,2528.11H370.7V2538.61H349.7Z" fill="#515151"/><path d="M356.52,2517.61H377.52V2538.61H356.52Z" fill="#fff" stroke="#515151" stroke-width="2.0"/><path d="M356.52,2528.11H377.52V2538.61H356.52Z" fill="#515151"/><path d="M363.35,2517.61H384.35V2538.61H363.35Z" fill="#fff" stroke="#515151" stroke-width="2.0"/><path d="M363.35,2528.11H384.35V2538.61H363.35Z" fill="#515151"/><path d="M370.17,2517.61H391.17V2538.61H370.17Z" fill="#fff" stroke="#515151" stroke-width="2.0"/><path d="M370.17,2528.11H391.17V2538.61H370.17Z" fill="#515151"/><path d="M376.99,2517.61H397.99V2538.61H376.99Z" fill="#fff" stroke="#515151" stroke-width="2.0"/><path d="M376.99,2528.11H397.99V2538.61H376.99Z" fill="#515151"/><path d="M383.82,2517.61H404.82V2538.61H383.82Z" fill="#fff" stroke="#515151" stroke-width="2.0"/><path d="M383.82,2528.11H404.82V2538.61H383.82Z" fill="#515151"/><path d="M390.64,2517.61H411.64V2538.61H390.64Z" fill="#fff" stroke="#515151" stroke-width="2.0"/><path d="M390.64,2528.11H411.64V2538.61H390.64Z" fill="#515151"/><path d="M397.47,2517.61H418.47V2538.61H397.47Z" fill="#fff" stroke="#515151" stroke-width="2.0"/><path d="M397.47,2528.11H418.47V2538.61H397.47Z" fill="#515151"/><path d="M404.29,2517.61H425.29V2538.61H404.29Z" fill="#fff" stroke="#515151" stroke-width="2.0"/><path d="M404.29,2528.11H425.29V2538.61H404.29Z" fill="#515151"/><path d="M411.11,2517.61H432.11V2538.61H411.11Z" fill="#fff" stroke="#515151" stroke-width="2.0"/><path d="M411.11,2528.11H432.11V2538.61H411.11Z" fill="#515151"/><path d="M417.94,2517.61H438.94V2538.61H417.94Z" fill="#fff" stroke="#515151" stroke-width="2.0"/><path d="M417.94,2528.11H438.94V2538.61H417.94Z" fill="#515151"/><path d="M429.58,2515.52H450.58V2536.52H429.58Z" fill="#fff" stroke="#515151" stroke-width="2.0"/><path d="M429.58,2526.02H450.58V2536.52H429.58Z" fill="#515151"/><path d="M441.62,2513.85H462.62V2534.85H441.62Z" fill="#fff" stroke="#515151" stroke-width="2.0"/><path d="M441.62,2524.35H462.62V2534.85H441.62Z" fill="#515151"/><path d="M453.66,2513.01H474.66V2534.01H453.66Z" fill="#fff" stroke="#515151" stroke-width="2.0"/><path d="M453.66,2523.51H474.66V2534.01H453.66Z" fill="#515151"/><path d="M465.7,2513.01H486.7V2534.01H465.7Z" fill="#fff" stroke="#515151" stroke-width="2.0"/><path d="M465.7,2523.51H486.7V2534.01H465.7Z" fill="#515151"/><path d="M477.75,2512.59H498.75V2533.59H477.75Z" fill="#fff" stroke="#515151" stroke-width="2.0"/><path d="M477.75,2523.09H498.75V2533.59H477.75Z" fill="#515151"/><path d="M489.79,2512.59H510.79V2533.59H489.79Z" fill="#fff" stroke="#515151" stroke-width="2.0"/><path d="M489.79,2523.09H510.79V2533.59H489.79Z" fill="#515151"/><path d="M501.83,2512.59H522.83V2533.59H501.83Z" fill="#fff" stroke="#515151" stroke-width="2.0"/><path d="M501.83,2523.09H522.83V2533.59H501.83Z" fill="#515151"/><path d="M513.87,2512.59H534.87V2533.59H513.87Z" fill="#fff" stroke="#515151" stroke-width="2.0"/><path d="M513.87,2523.09H534.87V2533.59H513.87Z" fill="#515151"/><path d="M525.91,2512.59H546.91V2533.59H525.91Z" fill="#fff" stroke="#515151" stroke-width="2.0"/><path d="M525.91,2523.09H546.91V2533.59H525.91Z" fill="#515151"/><path d="M537.95,2512.59H558.95V2533.59H537.95Z" fill="#fff" stroke="#515151" stroke-width="2.0"/><path d="M537.95,2523.09H558.95V2533.59H537.95Z" fill="#515151"/><path d="M550,2512.59H571V2533.59H550Z" fill="#fff" stroke="#515151" stroke-width="2.0"/><path d="M550,2523.09H571V2533.59H550Z" fill="#515151"/><path d="M562.04,2512.59H583.04V2533.59H562.04Z" fill="#fff" stroke="#515151" stroke-width="2.0"/><path d="M562.04,2523.09H583.04V2533.59H562.04Z" fill="#515151"/><path d="M574.08,2513.01H595.08V2534.01H574.08Z" fill="#fff" stroke="#515151" stroke-width="2.0"/><path d="M574.08,2523.51H595.08V2534.01H574.08Z" fill="#515151"/><path d="M586.12,2513.01H607.12V2534.01H586.12Z" fill="#fff" stroke="#515151" stroke-width="2.0"/><path d="M586.12,2523.51H607.12V2534.01H586.12Z" fill="#515151"/><path d="M598.16,2513.01H619.16V2534.01H598.16Z" fill="#fff" stroke="#515151" stroke-width="2.0"/><path d="M598.16,2523.51H619.16V2534.01H598.16Z" fill="#515151"/><path d="M610.21,2513.43H631.21V2534.43H610.21Z" fill="#fff" stroke="#515151" stroke-width="2.0"/><path d="M610.21,2523.93H631.21V2534.43H610.21Z" fill="#515151"/><path d="M622.25,2513.85H643.25V2534.85H622.25Z" fill="#fff" stroke="#515151" stroke-width="2.0"/><path d="M622.25,2524.35H643.25V2534.85H622.25Z" fill="#515151"/><path d="M648.34,2514.68H669.34V2535.68H648.34Z" fill="#fff" stroke="#515151" stroke-width="2.0"/><path d="M648.34,2525.18H669.34V2535.68H648.34Z" fill="#515151"/><path d="M672.42,2515.94H693.42V2536.94H672.42Z" fill="#fff" stroke="#515151" stroke-width="2.0"/><path d="M672.42,2526.44H693.42V2536.94H672.42Z" fill="#515151"/><path d="M698.52,2516.77H719.52V2537.77H698.52Z" fill="#fff" stroke="#515151" stroke-width="2.0"/><path d="M698.52,2527.27H719.52V2537.77H698.52Z" fill="#515151"/><path d="M728.62,2517.19H749.62V2538.19H728.62Z" fill="#fff" stroke="#515151" stroke-width="2.0"/><path d="M728.62,2527.69H749.62V2538.19H728.62Z" fill="#515151"/><path d="M758.72,2517.19H779.72V2538.19H758.72Z" fill="#fff" stroke="#515151" stroke-width="2.0"/><path d="M758.72,2527.69H779.72V2538.19H758.72Z" fill="#515151"/><path d="M788.83,2517.61H809.83V2538.61H788.83Z" fill="#fff" stroke="#515151" stroke-width="2.0"/><path d="M788.83,2528.11H809.83V2538.61H788.83Z" fill="#515151"/><path d="M818.93,2517.61H839.93V2538.61H818.93Z" fill="#fff" stroke="#515151" stroke-width="2.0"/><path d="M818.93,2528.11H839.93V2538.61H818.93Z" fill="#515151"/><path d="M849.04,2517.61H870.04V2538.61H849.04Z" fill="#fff" stroke="#515151" stroke-width="2.0"/><path d="M849.04,2528.11H870.04V2538.61H849.04Z" fill="#515151"/><path d="M889.18,2517.61H910.18V2538.61H889.18Z" fill="#fff" stroke="#515151" stroke-width="2.0"/><path d="M889.18,2528.11H910.18V2538.61H889.18Z" fill="#515151"/><path d="M929.32,2517.61H950.32V2538.61H929.32Z" fill="#fff" stroke="#515151" stroke-width="2.0"/><path d="M929.32,2528.11H950.32V2538.61H929.32Z" fill="#515151"/><path d="M969.46,2517.61H990.46V2538.61H969.46Z" fill="#fff" stroke="#515151" stroke-width="2.0"/><path d="M969.46,2528.11H990.46V2538.61H969.46Z" fill="#515151"/><path d="M1009.6,2517.61H1030.6V2538.61H1009.6Z" fill="#fff" stroke="#515151" stroke-width="2.0"/><path d="M1009.6,2528.11H1030.6V2538.61H1009.6Z" fill="#515151"/><polyline points="270.49,2116.38 271.89,2162.36 274.5,2208.34 277.51,2250.14 280.52,2287.76 284.53,2321.2 288.55,2350.46 292.56,2404.8 296.58,2488.4 301.59,2521.84 307.62,2509.3 312.63,2446.6 315.64,2337.92 319.26,2283.58 324.27,2204.16 332.5,2162.36 342.74,2154 351.57,2148.57 358.59,2126.41 368.63,2212.94 376.66,2289.85 384.68,2317.86 394.72,2323.71 405.96,2363 417,2412.74 426.03,2446.6 433.05,2463.32 442.08,2475.86 452.12,2465.41 462.15,2461.23 472.19,2459.98 484.23,2463.32 498.28,2473.77 512.33,2492.58 528.38,2505.96 544.44,2508.46 562.5,2509.3 580.57,2511.39 598.63,2515.57 618.7,2517.66 638.77,2517.66 658.84,2519.75 682.92,2521.84 709.02,2523.93 735.11,2526.02 763.2,2526.86 791.3,2527.69 819.4,2528.11 849.5,2528.53 879.61,2528.53 911.72,2528.95 943.83,2528.95 979.96,2528.95 1014.08,2528.95" fill="none" stroke="#F14040" stroke-width="3.6" stroke-linejoin="round" stroke-linecap="round"/><path d="M259.09,2116.38A11.4,11.4 0 1 1 281.89,2116.38A11.4,11.4 0 1 1 259.09,2116.38Z" fill="#fff" stroke="#F14040" stroke-width="2.0"/><path d="M281.89,2116.38A11.4,11.4 0 0 1 259.09,2116.38Z" fill="#F14040"/><path d="M260.49,2162.36A11.4,11.4 0 1 1 283.29,2162.36A11.4,11.4 0 1 1 260.49,2162.36Z" fill="#fff" stroke="#F14040" stroke-width="2.0"/><path d="M283.29,2162.36A11.4,11.4 0 0 1 260.49,2162.36Z" fill="#F14040"/><path d="M263.1,2208.34A11.4,11.4 0 1 1 285.9,2208.34A11.4,11.4 0 1 1 263.1,2208.34Z" fill="#fff" stroke="#F14040" stroke-width="2.0"/><path d="M285.9,2208.34A11.4,11.4 0 0 1 263.1,2208.34Z" fill="#F14040"/><path d="M266.11,2250.14A11.4,11.4 0 1 1 288.91,2250.14A11.4,11.4 0 1 1 266.11,2250.14Z" fill="#fff" stroke="#F14040" stroke-width="2.0"/><path d="M288.91,2250.14A11.4,11.4 0 0 1 266.11,2250.14Z" fill="#F14040"/><path d="M269.12,2287.76A11.4,11.4 0 1 1 291.92,2287.76A11.4,11.4 0 1 1 269.12,2287.76Z" fill="#fff" stroke="#F14040" stroke-width="2.0"/><path d="M291.92,2287.76A11.4,11.4 0 0 1 269.12,2287.76Z" fill="#F14040"/><path d="M273.13,2321.2A11.4,11.4 0 1 1 295.93,2321.2A11.4,11.4 0 1 1 273.13,2321.2Z" fill="#fff" stroke="#F14040" stroke-width="2.0"/><path d="M295.93,2321.2A11.4,11.4 0 0 1 273.13,2321.2Z" fill="#F14040"/><path d="M277.15,2350.46A11.4,11.4 0 1 1 299.95,2350.46A11.4,11.4 0 1 1 277.15,2350.46Z" fill="#fff" stroke="#F14040" stroke-width="2.0"/><path d="M299.95,2350.46A11.4,11.4 0 0 1 277.15,2350.46Z" fill="#F14040"/><path d="M281.16,2404.8A11.4,11.4 0 1 1 303.96,2404.8A11.4,11.4 0 1 1 281.16,2404.8Z" fill="#fff" stroke="#F14040" stroke-width="2.0"/><path d="M303.96,2404.8A11.4,11.4 0 0 1 281.16,2404.8Z" fill="#F14040"/><path d="M285.18,2488.4A11.4,11.4 0 1 1 307.98,2488.4A11.4,11.4 0 1 1 285.18,2488.4Z" fill="#fff" stroke="#F14040" stroke-width="2.0"/><path d="M307.98,2488.4A11.4,11.4 0 0 1 285.18,2488.4Z" fill="#F14040"/><path d="M290.19,2521.84A11.4,11.4 0 1 1 312.99,2521.84A11.4,11.4 0 1 1 290.19,2521.84Z" fill="#fff" stroke="#F14040" stroke-width="2.0"/><path d="M312.99,2521.84A11.4,11.4 0 0 1 290.19,2521.84Z" fill="#F14040"/><path d="M296.22,2509.3A11.4,11.4 0 1 1 319.01,2509.3A11.4,11.4 0 1 1 296.22,2509.3Z" fill="#fff" stroke="#F14040" stroke-width="2.0"/><path d="M319.01,2509.3A11.4,11.4 0 0 1 296.22,2509.3Z" fill="#F14040"/><path d="M301.23,2446.6A11.4,11.4 0 1 1 324.03,2446.6A11.4,11.4 0 1 1 301.23,2446.6Z" fill="#fff" stroke="#F14040" stroke-width="2.0"/><path d="M324.03,2446.6A11.4,11.4 0 0 1 301.23,2446.6Z" fill="#F14040"/><path d="M304.24,2337.92A11.4,11.4 0 1 1 327.04,2337.92A11.4,11.4 0 1 1 304.24,2337.92Z" fill="#fff" stroke="#F14040" stroke-width="2.0"/><path d="M327.04,2337.92A11.4,11.4 0 0 1 304.24,2337.92Z" fill="#F14040"/><path d="M307.86,2283.58A11.4,11.4 0 1 1 330.66,2283.58A11.4,11.4 0 1 1 307.86,2283.58Z" fill="#fff" stroke="#F14040" stroke-width="2.0"/><path d="M330.66,2283.58A11.4,11.4 0 0 1 307.86,2283.58Z" fill="#F14040"/><path d="M312.87,2204.16A11.4,11.4 0 1 1 335.67,2204.16A11.4,11.4 0 1 1 312.87,2204.16Z" fill="#fff" stroke="#F14040" stroke-width="2.0"/><path d="M335.67,2204.16A11.4,11.4 0 0 1 312.87,2204.16Z" fill="#F14040"/><path d="M321.1,2162.36A11.4,11.4 0 1 1 343.9,2162.36A11.4,11.4 0 1 1 321.1,2162.36Z" fill="#fff" stroke="#F14040" stroke-width="2.0"/><path d="M343.9,2162.36A11.4,11.4 0 0 1 321.1,2162.36Z" fill="#F14040"/><path d="M331.34,2154A11.4,11.4 0 1 1 354.14,2154A11.4,11.4 0 1 1 331.34,2154Z" fill="#fff" stroke="#F14040" stroke-width="2.0"/><path d="M354.14,2154A11.4,11.4 0 0 1 331.34,2154Z" fill="#F14040"/><path d="M340.17,2148.57A11.4,11.4 0 1 1 362.97,2148.57A11.4,11.4 0 1 1 340.17,2148.57Z" fill="#fff" stroke="#F14040" stroke-width="2.0"/><path d="M362.97,2148.57A11.4,11.4 0 0 1 340.17,2148.57Z" fill="#F14040"/><path d="M347.19,2126.41A11.4,11.4 0 1 1 369.99,2126.41A11.4,11.4 0 1 1 347.19,2126.41Z" fill="#fff" stroke="#F14040" stroke-width="2.0"/><path d="M369.99,2126.41A11.4,11.4 0 0 1 347.19,2126.41Z" fill="#F14040"/><path d="M357.23,2212.94A11.4,11.4 0 1 1 380.03,2212.94A11.4,11.4 0 1 1 357.23,2212.94Z" fill="#fff" stroke="#F14040" stroke-width="2.0"/><path d="M380.03,2212.94A11.4,11.4 0 0 1 357.23,2212.94Z" fill="#F14040"/><path d="M365.26,2289.85A11.4,11.4 0 1 1 388.06,2289.85A11.4,11.4 0 1 1 365.26,2289.85Z" fill="#fff" stroke="#F14040" stroke-width="2.0"/><path d="M388.06,2289.85A11.4,11.4 0 0 1 365.26,2289.85Z" fill="#F14040"/><path d="M373.28,2317.86A11.4,11.4 0 1 1 396.08,2317.86A11.4,11.4 0 1 1 373.28,2317.86Z" fill="#fff" stroke="#F14040" stroke-width="2.0"/><path d="M396.08,2317.86A11.4,11.4 0 0 1 373.28,2317.86Z" fill="#F14040"/><path d="M383.32,2323.71A11.4,11.4 0 1 1 406.12,2323.71A11.4,11.4 0 1 1 383.32,2323.71Z" fill="#fff" stroke="#F14040" stroke-width="2.0"/><path d="M406.12,2323.71A11.4,11.4 0 0 1 383.32,2323.71Z" fill="#F14040"/><path d="M394.56,2363A11.4,11.4 0 1 1 417.36,2363A11.4,11.4 0 1 1 394.56,2363Z" fill="#fff" stroke="#F14040" stroke-width="2.0"/><path d="M417.36,2363A11.4,11.4 0 0 1 394.56,2363Z" fill="#F14040"/><path d="M405.6,2412.74A11.4,11.4 0 1 1 428.4,2412.74A11.4,11.4 0 1 1 405.6,2412.74Z" fill="#fff" stroke="#F14040" stroke-width="2.0"/><path d="M428.4,2412.74A11.4,11.4 0 0 1 405.6,2412.74Z" fill="#F14040"/><path d="M414.63,2446.6A11.4,11.4 0 1 1 437.43,2446.6A11.4,11.4 0 1 1 414.63,2446.6Z" fill="#fff" stroke="#F14040" stroke-width="2.0"/><path d="M437.43,2446.6A11.4,11.4 0 0 1 414.63,2446.6Z" fill="#F14040"/><path d="M421.65,2463.32A11.4,11.4 0 1 1 444.45,2463.32A11.4,11.4 0 1 1 421.65,2463.32Z" fill="#fff" stroke="#F14040" stroke-width="2.0"/><path d="M444.45,2463.32A11.4,11.4 0 0 1 421.65,2463.32Z" fill="#F14040"/><path d="M430.68,2475.86A11.4,11.4 0 1 1 453.48,2475.86A11.4,11.4 0 1 1 430.68,2475.86Z" fill="#fff" stroke="#F14040" stroke-width="2.0"/><path d="M453.48,2475.86A11.4,11.4 0 0 1 430.68,2475.86Z" fill="#F14040"/><path d="M440.72,2465.41A11.4,11.4 0 1 1 463.52,2465.41A11.4,11.4 0 1 1 440.72,2465.41Z" fill="#fff" stroke="#F14040" stroke-width="2.0"/><path d="M463.52,2465.41A11.4,11.4 0 0 1 440.72,2465.41Z" fill="#F14040"/><path d="M450.75,2461.23A11.4,11.4 0 1 1 473.55,2461.23A11.4,11.4 0 1 1 450.75,2461.23Z" fill="#fff" stroke="#F14040" stroke-width="2.0"/><path d="M473.55,2461.23A11.4,11.4 0 0 1 450.75,2461.23Z" fill="#F14040"/><path d="M460.79,2459.98A11.4,11.4 0 1 1 483.59,2459.98A11.4,11.4 0 1 1 460.79,2459.98Z" fill="#fff" stroke="#F14040" stroke-width="2.0"/><path d="M483.59,2459.98A11.4,11.4 0 0 1 460.79,2459.98Z" fill="#F14040"/><path d="M472.83,2463.32A11.4,11.4 0 1 1 495.63,2463.32A11.4,11.4 0 1 1 472.83,2463.32Z" fill="#fff" stroke="#F14040" stroke-width="2.0"/><path d="M495.63,2463.32A11.4,11.4 0 0 1 472.83,2463.32Z" fill="#F14040"/><path d="M486.88,2473.77A11.4,11.4 0 1 1 509.68,2473.77A11.4,11.4 0 1 1 486.88,2473.77Z" fill="#fff" stroke="#F14040" stroke-width="2.0"/><path d="M509.68,2473.77A11.4,11.4 0 0 1 486.88,2473.77Z" fill="#F14040"/><path d="M500.93,2492.58A11.4,11.4 0 1 1 523.73,2492.58A11.4,11.4 0 1 1 500.93,2492.58Z" fill="#fff" stroke="#F14040" stroke-width="2.0"/><path d="M523.73,2492.58A11.4,11.4 0 0 1 500.93,2492.58Z" fill="#F14040"/><path d="M516.99,2505.96A11.4,11.4 0 1 1 539.78,2505.96A11.4,11.4 0 1 1 516.99,2505.96Z" fill="#fff" stroke="#F14040" stroke-width="2.0"/><path d="M539.78,2505.96A11.4,11.4 0 0 1 516.99,2505.96Z" fill="#F14040"/><path d="M533.04,2508.46A11.4,11.4 0 1 1 555.84,2508.46A11.4,11.4 0 1 1 533.04,2508.46Z" fill="#fff" stroke="#F14040" stroke-width="2.0"/><path d="M555.84,2508.46A11.4,11.4 0 0 1 533.04,2508.46Z" fill="#F14040"/><path d="M551.1,2509.3A11.4,11.4 0 1 1 573.9,2509.3A11.4,11.4 0 1 1 551.1,2509.3Z" fill="#fff" stroke="#F14040" stroke-width="2.0"/><path d="M573.9,2509.3A11.4,11.4 0 0 1 551.1,2509.3Z" fill="#F14040"/><path d="M569.17,2511.39A11.4,11.4 0 1 1 591.97,2511.39A11.4,11.4 0 1 1 569.17,2511.39Z" fill="#fff" stroke="#F14040" stroke-width="2.0"/><path d="M591.97,2511.39A11.4,11.4 0 0 1 569.17,2511.39Z" fill="#F14040"/><path d="M587.23,2515.57A11.4,11.4 0 1 1 610.03,2515.57A11.4,11.4 0 1 1 587.23,2515.57Z" fill="#fff" stroke="#F14040" stroke-width="2.0"/><path d="M610.03,2515.57A11.4,11.4 0 0 1 587.23,2515.57Z" fill="#F14040"/><path d="M607.3,2517.66A11.4,11.4 0 1 1 630.1,2517.66A11.4,11.4 0 1 1 607.3,2517.66Z" fill="#fff" stroke="#F14040" stroke-width="2.0"/><path d="M630.1,2517.66A11.4,11.4 0 0 1 607.3,2517.66Z" fill="#F14040"/><path d="M627.37,2517.66A11.4,11.4 0 1 1 650.17,2517.66A11.4,11.4 0 1 1 627.37,2517.66Z" fill="#fff" stroke="#F14040" stroke-width="2.0"/><path d="M650.17,2517.66A11.4,11.4 0 0 1 627.37,2517.66Z" fill="#F14040"/><path d="M647.44,2519.75A11.4,11.4 0 1 1 670.24,2519.75A11.4,11.4 0 1 1 647.44,2519.75Z" fill="#fff" stroke="#F14040" stroke-width="2.0"/><path d="M670.24,2519.75A11.4,11.4 0 0 1 647.44,2519.75Z" fill="#F14040"/><path d="M671.52,2521.84A11.4,11.4 0 1 1 694.32,2521.84A11.4,11.4 0 1 1 671.52,2521.84Z" fill="#fff" stroke="#F14040" stroke-width="2.0"/><path d="M694.32,2521.84A11.4,11.4 0 0 1 671.52,2521.84Z" fill="#F14040"/><path d="M697.62,2523.93A11.4,11.4 0 1 1 720.42,2523.93A11.4,11.4 0 1 1 697.62,2523.93Z" fill="#fff" stroke="#F14040" stroke-width="2.0"/><path d="M720.42,2523.93A11.4,11.4 0 0 1 697.62,2523.93Z" fill="#F14040"/><path d="M723.71,2526.02A11.4,11.4 0 1 1 746.51,2526.02A11.4,11.4 0 1 1 723.71,2526.02Z" fill="#fff" stroke="#F14040" stroke-width="2.0"/><path d="M746.51,2526.02A11.4,11.4 0 0 1 723.71,2526.02Z" fill="#F14040"/><path d="M751.8,2526.86A11.4,11.4 0 1 1 774.6,2526.86A11.4,11.4 0 1 1 751.8,2526.86Z" fill="#fff" stroke="#F14040" stroke-width="2.0"/><path d="M774.6,2526.86A11.4,11.4 0 0 1 751.8,2526.86Z" fill="#F14040"/><path d="M779.9,2527.69A11.4,11.4 0 1 1 802.7,2527.69A11.4,11.4 0 1 1 779.9,2527.69Z" fill="#fff" stroke="#F14040" stroke-width="2.0"/><path d="M802.7,2527.69A11.4,11.4 0 0 1 779.9,2527.69Z" fill="#F14040"/><path d="M808,2528.11A11.4,11.4 0 1 1 830.8,2528.11A11.4,11.4 0 1 1 808,2528.11Z" fill="#fff" stroke="#F14040" stroke-width="2.0"/><path d="M830.8,2528.11A11.4,11.4 0 0 1 808,2528.11Z" fill="#F14040"/><path d="M838.1,2528.53A11.4,11.4 0 1 1 860.9,2528.53A11.4,11.4 0 1 1 838.1,2528.53Z" fill="#fff" stroke="#F14040" stroke-width="2.0"/><path d="M860.9,2528.53A11.4,11.4 0 0 1 838.1,2528.53Z" fill="#F14040"/><path d="M868.21,2528.53A11.4,11.4 0 1 1 891.01,2528.53A11.4,11.4 0 1 1 868.21,2528.53Z" fill="#fff" stroke="#F14040" stroke-width="2.0"/><path d="M891.01,2528.53A11.4,11.4 0 0 1 868.21,2528.53Z" fill="#F14040"/><path d="M900.32,2528.95A11.4,11.4 0 1 1 923.12,2528.95A11.4,11.4 0 1 1 900.32,2528.95Z" fill="#fff" stroke="#F14040" stroke-width="2.0"/><path d="M923.12,2528.95A11.4,11.4 0 0 1 900.32,2528.95Z" fill="#F14040"/><path d="M932.43,2528.95A11.4,11.4 0 1 1 955.23,2528.95A11.4,11.4 0 1 1 932.43,2528.95Z" fill="#fff" stroke="#F14040" stroke-width="2.0"/><path d="M955.23,2528.95A11.4,11.4 0 0 1 932.43,2528.95Z" fill="#F14040"/><path d="M968.56,2528.95A11.4,11.4 0 1 1 991.36,2528.95A11.4,11.4 0 1 1 968.56,2528.95Z" fill="#fff" stroke="#F14040" stroke-width="2.0"/><path d="M991.36,2528.95A11.4,11.4 0 0 1 968.56,2528.95Z" fill="#F14040"/><path d="M1002.68,2528.95A11.4,11.4 0 1 1 1025.48,2528.95A11.4,11.4 0 1 1 1002.68,2528.95Z" fill="#fff" stroke="#F14040" stroke-width="2.0"/><path d="M1025.48,2528.95A11.4,11.4 0 0 1 1002.68,2528.95Z" fill="#F14040"/><polyline points="269.88,2120.56 271.49,2112.2 273.5,2154 275.5,2212.52 277.51,2287.76 281.52,2312.84 285.54,2346.28 289.55,2363 293.57,2396.44 297.58,2480.04 303.6,2517.66 309.62,2505.12 313.64,2471.68 317.65,2392.26 320.26,2301.97 329.29,2182.84 334.51,2142.3 340.33,2187.02 348.56,2207.09 357.59,2170.72 364.61,2237.6 370.63,2259.34 377.86,2312.84 385.89,2333.74 394.72,2342.1 403.95,2371.36 413.99,2417.34 424.02,2463.32 433.05,2492.58 442.08,2480.04 452.12,2469.59 462.15,2465.41 472.19,2464.16 484.23,2467.5 498.28,2476.7 512.33,2488.4 528.38,2496.76 544.44,2498.85 562.5,2500.94 580.57,2496.76 598.63,2498.85 618.7,2505.12 638.77,2509.3 658.84,2513.48 682.92,2515.57 709.02,2517.66 735.11,2521.84 763.2,2523.93 791.3,2525.18 819.4,2526.02 849.5,2526.44 879.61,2526.86 911.72,2527.27 943.83,2527.27 979.96,2527.69 1014.08,2527.69" fill="none" stroke="#1A6FDF" stroke-width="3.6" stroke-linejoin="round" stroke-linecap="round"/><path d="M269.88,2105.23L282.38,2128.23L257.38,2128.23Z" fill="#fff" stroke="#1A6FDF" stroke-width="2.0"/><path d="M261.55,2120.56L278.22,2120.56L282.38,2128.23L257.38,2128.23Z" fill="#1A6FDF"/><path d="M271.49,2096.87L283.99,2119.87L258.99,2119.87Z" fill="#fff" stroke="#1A6FDF" stroke-width="2.0"/><path d="M263.16,2112.2L279.82,2112.2L283.99,2119.87L258.99,2119.87Z" fill="#1A6FDF"/><path d="M273.5,2138.67L286,2161.67L261,2161.67Z" fill="#fff" stroke="#1A6FDF" stroke-width="2.0"/><path d="M265.16,2154L281.83,2154L286,2161.67L261,2161.67Z" fill="#1A6FDF"/><path d="M275.5,2197.19L288,2220.19L263,2220.19Z" fill="#fff" stroke="#1A6FDF" stroke-width="2.0"/><path d="M267.17,2212.52L283.84,2212.52L288,2220.19L263,2220.19Z" fill="#1A6FDF"/><path d="M277.51,2272.43L290.01,2295.43L265.01,2295.43Z" fill="#fff" stroke="#1A6FDF" stroke-width="2.0"/><path d="M269.18,2287.76L285.84,2287.76L290.01,2295.43L265.01,2295.43Z" fill="#1A6FDF"/><path d="M281.52,2297.51L294.02,2320.51L269.02,2320.51Z" fill="#fff" stroke="#1A6FDF" stroke-width="2.0"/><path d="M273.19,2312.84L289.86,2312.84L294.02,2320.51L269.02,2320.51Z" fill="#1A6FDF"/><path d="M285.54,2330.95L298.04,2353.95L273.04,2353.95Z" fill="#fff" stroke="#1A6FDF" stroke-width="2.0"/><path d="M277.2,2346.28L293.87,2346.28L298.04,2353.95L273.04,2353.95Z" fill="#1A6FDF"/><path d="M289.55,2347.67L302.05,2370.67L277.05,2370.67Z" fill="#fff" stroke="#1A6FDF" stroke-width="2.0"/><path d="M281.22,2363L297.89,2363L302.05,2370.67L277.05,2370.67Z" fill="#1A6FDF"/><path d="M293.57,2381.11L306.07,2404.11L281.07,2404.11Z" fill="#fff" stroke="#1A6FDF" stroke-width="2.0"/><path d="M285.23,2396.44L301.9,2396.44L306.07,2404.11L281.07,2404.11Z" fill="#1A6FDF"/><path d="M297.58,2464.71L310.08,2487.71L285.08,2487.71Z" fill="#fff" stroke="#1A6FDF" stroke-width="2.0"/><path d="M289.25,2480.04L305.91,2480.04L310.08,2487.71L285.08,2487.71Z" fill="#1A6FDF"/><path d="M303.6,2502.33L316.1,2525.33L291.1,2525.33Z" fill="#fff" stroke="#1A6FDF" stroke-width="2.0"/><path d="M295.27,2517.66L311.93,2517.66L316.1,2525.33L291.1,2525.33Z" fill="#1A6FDF"/><path d="M309.62,2489.79L322.12,2512.79L297.12,2512.79Z" fill="#fff" stroke="#1A6FDF" stroke-width="2.0"/><path d="M301.29,2505.12L317.96,2505.12L322.12,2512.79L297.12,2512.79Z" fill="#1A6FDF"/><path d="M313.64,2456.35L326.14,2479.35L301.14,2479.35Z" fill="#fff" stroke="#1A6FDF" stroke-width="2.0"/><path d="M305.3,2471.68L321.97,2471.68L326.14,2479.35L301.14,2479.35Z" fill="#1A6FDF"/><path d="M317.65,2376.93L330.15,2399.93L305.15,2399.93Z" fill="#fff" stroke="#1A6FDF" stroke-width="2.0"/><path d="M309.32,2392.26L325.98,2392.26L330.15,2399.93L305.15,2399.93Z" fill="#1A6FDF"/><path d="M320.26,2286.64L332.76,2309.64L307.76,2309.64Z" fill="#fff" stroke="#1A6FDF" stroke-width="2.0"/><path d="M311.93,2301.97L328.59,2301.97L332.76,2309.64L307.76,2309.64Z" fill="#1A6FDF"/><path d="M329.29,2167.51L341.79,2190.51L316.79,2190.51Z" fill="#fff" stroke="#1A6FDF" stroke-width="2.0"/><path d="M320.96,2182.84L337.62,2182.84L341.79,2190.51L316.79,2190.51Z" fill="#1A6FDF"/><path d="M334.51,2126.96L347.01,2149.96L322.01,2149.96Z" fill="#fff" stroke="#1A6FDF" stroke-width="2.0"/><path d="M326.18,2142.3L342.84,2142.3L347.01,2149.96L322.01,2149.96Z" fill="#1A6FDF"/><path d="M340.33,2171.69L352.83,2194.69L327.83,2194.69Z" fill="#fff" stroke="#1A6FDF" stroke-width="2.0"/><path d="M332,2187.02L348.66,2187.02L352.83,2194.69L327.83,2194.69Z" fill="#1A6FDF"/><path d="M348.56,2191.75L361.06,2214.75L336.06,2214.75Z" fill="#fff" stroke="#1A6FDF" stroke-width="2.0"/><path d="M340.22,2207.09L356.89,2207.09L361.06,2214.75L336.06,2214.75Z" fill="#1A6FDF"/><path d="M357.59,2155.39L370.09,2178.39L345.09,2178.39Z" fill="#fff" stroke="#1A6FDF" stroke-width="2.0"/><path d="M349.26,2170.72L365.92,2170.72L370.09,2178.39L345.09,2178.39Z" fill="#1A6FDF"/><path d="M364.61,2222.27L377.11,2245.27L352.11,2245.27Z" fill="#fff" stroke="#1A6FDF" stroke-width="2.0"/><path d="M356.28,2237.6L372.95,2237.6L377.11,2245.27L352.11,2245.27Z" fill="#1A6FDF"/><path d="M370.63,2244L383.13,2267L358.13,2267Z" fill="#fff" stroke="#1A6FDF" stroke-width="2.0"/><path d="M362.3,2259.34L378.97,2259.34L383.13,2267L358.13,2267Z" fill="#1A6FDF"/><path d="M377.86,2297.51L390.36,2320.51L365.36,2320.51Z" fill="#fff" stroke="#1A6FDF" stroke-width="2.0"/><path d="M369.53,2312.84L386.19,2312.84L390.36,2320.51L365.36,2320.51Z" fill="#1A6FDF"/><path d="M385.89,2318.41L398.39,2341.41L373.39,2341.41Z" fill="#fff" stroke="#1A6FDF" stroke-width="2.0"/><path d="M377.55,2333.74L394.22,2333.74L398.39,2341.41L373.39,2341.41Z" fill="#1A6FDF"/><path d="M394.72,2326.77L407.22,2349.77L382.22,2349.77Z" fill="#fff" stroke="#1A6FDF" stroke-width="2.0"/><path d="M386.39,2342.1L403.05,2342.1L407.22,2349.77L382.22,2349.77Z" fill="#1A6FDF"/><path d="M403.95,2356.03L416.45,2379.03L391.45,2379.03Z" fill="#fff" stroke="#1A6FDF" stroke-width="2.0"/><path d="M395.62,2371.36L412.28,2371.36L416.45,2379.03L391.45,2379.03Z" fill="#1A6FDF"/><path d="M413.99,2402.01L426.49,2425.01L401.49,2425.01Z" fill="#fff" stroke="#1A6FDF" stroke-width="2.0"/><path d="M405.65,2417.34L422.32,2417.34L426.49,2425.01L401.49,2425.01Z" fill="#1A6FDF"/><path d="M424.02,2447.99L436.52,2470.99L411.52,2470.99Z" fill="#fff" stroke="#1A6FDF" stroke-width="2.0"/><path d="M415.69,2463.32L432.35,2463.32L436.52,2470.99L411.52,2470.99Z" fill="#1A6FDF"/><path d="M433.05,2477.25L445.55,2500.25L420.55,2500.25Z" fill="#fff" stroke="#1A6FDF" stroke-width="2.0"/><path d="M424.72,2492.58L441.39,2492.58L445.55,2500.25L420.55,2500.25Z" fill="#1A6FDF"/><path d="M442.08,2464.71L454.58,2487.71L429.58,2487.71Z" fill="#fff" stroke="#1A6FDF" stroke-width="2.0"/><path d="M433.75,2480.04L450.42,2480.04L454.58,2487.71L429.58,2487.71Z" fill="#1A6FDF"/><path d="M452.12,2454.26L464.62,2477.26L439.62,2477.26Z" fill="#fff" stroke="#1A6FDF" stroke-width="2.0"/><path d="M443.79,2469.59L460.45,2469.59L464.62,2477.26L439.62,2477.26Z" fill="#1A6FDF"/><path d="M462.15,2450.08L474.65,2473.08L449.65,2473.08Z" fill="#fff" stroke="#1A6FDF" stroke-width="2.0"/><path d="M453.82,2465.41L470.49,2465.41L474.65,2473.08L449.65,2473.08Z" fill="#1A6FDF"/><path d="M472.19,2448.82L484.69,2471.82L459.69,2471.82Z" fill="#fff" stroke="#1A6FDF" stroke-width="2.0"/><path d="M463.86,2464.16L480.52,2464.16L484.69,2471.82L459.69,2471.82Z" fill="#1A6FDF"/><path d="M484.23,2452.17L496.73,2475.17L471.73,2475.17Z" fill="#fff" stroke="#1A6FDF" stroke-width="2.0"/><path d="M475.9,2467.5L492.56,2467.5L496.73,2475.17L471.73,2475.17Z" fill="#1A6FDF"/><path d="M498.28,2461.36L510.78,2484.36L485.78,2484.36Z" fill="#fff" stroke="#1A6FDF" stroke-width="2.0"/><path d="M489.95,2476.7L506.61,2476.7L510.78,2484.36L485.78,2484.36Z" fill="#1A6FDF"/><path d="M512.33,2473.07L524.83,2496.07L499.83,2496.07Z" fill="#fff" stroke="#1A6FDF" stroke-width="2.0"/><path d="M504,2488.4L520.66,2488.4L524.83,2496.07L499.83,2496.07Z" fill="#1A6FDF"/><path d="M528.38,2481.43L540.88,2504.43L515.88,2504.43Z" fill="#fff" stroke="#1A6FDF" stroke-width="2.0"/><path d="M520.05,2496.76L536.72,2496.76L540.88,2504.43L515.88,2504.43Z" fill="#1A6FDF"/><path d="M544.44,2483.52L556.94,2506.52L531.94,2506.52Z" fill="#fff" stroke="#1A6FDF" stroke-width="2.0"/><path d="M536.11,2498.85L552.77,2498.85L556.94,2506.52L531.94,2506.52Z" fill="#1A6FDF"/><path d="M562.5,2485.61L575,2508.61L550,2508.61Z" fill="#fff" stroke="#1A6FDF" stroke-width="2.0"/><path d="M554.17,2500.94L570.84,2500.94L575,2508.61L550,2508.61Z" fill="#1A6FDF"/><path d="M580.57,2481.43L593.07,2504.43L568.07,2504.43Z" fill="#fff" stroke="#1A6FDF" stroke-width="2.0"/><path d="M572.23,2496.76L588.9,2496.76L593.07,2504.43L568.07,2504.43Z" fill="#1A6FDF"/><path d="M598.63,2483.52L611.13,2506.52L586.13,2506.52Z" fill="#fff" stroke="#1A6FDF" stroke-width="2.0"/><path d="M590.3,2498.85L606.96,2498.85L611.13,2506.52L586.13,2506.52Z" fill="#1A6FDF"/><path d="M618.7,2489.79L631.2,2512.79L606.2,2512.79Z" fill="#fff" stroke="#1A6FDF" stroke-width="2.0"/><path d="M610.37,2505.12L627.03,2505.12L631.2,2512.79L606.2,2512.79Z" fill="#1A6FDF"/><path d="M638.77,2493.97L651.27,2516.97L626.27,2516.97Z" fill="#fff" stroke="#1A6FDF" stroke-width="2.0"/><path d="M630.44,2509.3L647.1,2509.3L651.27,2516.97L626.27,2516.97Z" fill="#1A6FDF"/><path d="M658.84,2498.15L671.34,2521.15L646.34,2521.15Z" fill="#fff" stroke="#1A6FDF" stroke-width="2.0"/><path d="M650.51,2513.48L667.17,2513.48L671.34,2521.15L646.34,2521.15Z" fill="#1A6FDF"/><path d="M682.92,2500.24L695.42,2523.24L670.42,2523.24Z" fill="#fff" stroke="#1A6FDF" stroke-width="2.0"/><path d="M674.59,2515.57L691.26,2515.57L695.42,2523.24L670.42,2523.24Z" fill="#1A6FDF"/><path d="M709.02,2502.33L721.52,2525.33L696.52,2525.33Z" fill="#fff" stroke="#1A6FDF" stroke-width="2.0"/><path d="M700.68,2517.66L717.35,2517.66L721.52,2525.33L696.52,2525.33Z" fill="#1A6FDF"/><path d="M735.11,2506.51L747.61,2529.51L722.61,2529.51Z" fill="#fff" stroke="#1A6FDF" stroke-width="2.0"/><path d="M726.77,2521.84L743.44,2521.84L747.61,2529.51L722.61,2529.51Z" fill="#1A6FDF"/><path d="M763.2,2508.6L775.7,2531.6L750.7,2531.6Z" fill="#fff" stroke="#1A6FDF" stroke-width="2.0"/><path d="M754.87,2523.93L771.54,2523.93L775.7,2531.6L750.7,2531.6Z" fill="#1A6FDF"/><path d="M791.3,2509.85L803.8,2532.85L778.8,2532.85Z" fill="#fff" stroke="#1A6FDF" stroke-width="2.0"/><path d="M782.97,2525.18L799.64,2525.18L803.8,2532.85L778.8,2532.85Z" fill="#1A6FDF"/><path d="M819.4,2510.69L831.9,2533.69L806.9,2533.69Z" fill="#fff" stroke="#1A6FDF" stroke-width="2.0"/><path d="M811.07,2526.02L827.73,2526.02L831.9,2533.69L806.9,2533.69Z" fill="#1A6FDF"/><path d="M849.5,2511.1L862,2534.1L837,2534.1Z" fill="#fff" stroke="#1A6FDF" stroke-width="2.0"/><path d="M841.17,2526.44L857.84,2526.44L862,2534.1L837,2534.1Z" fill="#1A6FDF"/><path d="M879.61,2511.52L892.11,2534.52L867.11,2534.52Z" fill="#fff" stroke="#1A6FDF" stroke-width="2.0"/><path d="M871.28,2526.86L887.94,2526.86L892.11,2534.52L867.11,2534.52Z" fill="#1A6FDF"/><path d="M911.72,2511.94L924.22,2534.94L899.22,2534.94Z" fill="#fff" stroke="#1A6FDF" stroke-width="2.0"/><path d="M903.39,2527.27L920.06,2527.27L924.22,2534.94L899.22,2534.94Z" fill="#1A6FDF"/><path d="M943.83,2511.94L956.33,2534.94L931.33,2534.94Z" fill="#fff" stroke="#1A6FDF" stroke-width="2.0"/><path d="M935.5,2527.27L952.17,2527.27L956.33,2534.94L931.33,2534.94Z" fill="#1A6FDF"/><path d="M979.96,2512.36L992.46,2535.36L967.46,2535.36Z" fill="#fff" stroke="#1A6FDF" stroke-width="2.0"/><path d="M971.63,2527.69L988.29,2527.69L992.46,2535.36L967.46,2535.36Z" fill="#1A6FDF"/><path d="M1014.08,2512.36L1026.58,2535.36L1001.58,2535.36Z" fill="#fff" stroke="#1A6FDF" stroke-width="2.0"/><path d="M1005.75,2527.69L1022.41,2527.69L1026.58,2535.36L1001.58,2535.36Z" fill="#1A6FDF"/><polyline points="269.88,2095.48 271.09,2028.6 272.49,1990.98 273.5,2053.68 274.5,2141.46 277.51,2245.96 281.52,2308.66 285.54,2321.2 289.55,2342.1 293.57,2392.26 297.58,2454.96 303.6,2488.4 309.62,2459.14 313.64,2446.6 320.26,2379.72 324.27,2279.4 334.51,2202.91 346.55,2225.06 357.59,2184.93 364.61,2265.61 373.85,2321.2 384.68,2332.07 394.72,2329.56 403.95,2363 411.98,2408.98 418,2410.65 428.03,2454.96 438.07,2471.68 448.11,2450.78 458.14,2442.42 468.18,2438.24 478.21,2438.24 488.25,2442.42 498.28,2446.6 512.33,2467.5 528.38,2471.68 544.44,2471.68 562.5,2475.86 580.57,2475.86 598.63,2480.04 618.7,2484.22 638.77,2492.58 658.84,2496.76 682.92,2500.94 709.02,2505.12 735.11,2509.3 763.2,2511.39 791.3,2513.48 819.4,2513.48 849.5,2513.48 879.61,2515.57 911.72,2515.57 943.83,2515.57 979.96,2515.57 1014.08,2515.57" fill="none" stroke="#37AD6B" stroke-width="3.6" stroke-linejoin="round" stroke-linecap="round"/><path d="M269.88,2110.81L282.38,2087.81L257.38,2087.81Z" fill="#fff" stroke="#37AD6B" stroke-width="2.0"/><path d="M269.88,2110.81L278.22,2095.48L261.55,2095.48Z" fill="#37AD6B"/><path d="M271.09,2043.93L283.59,2020.93L258.59,2020.93Z" fill="#fff" stroke="#37AD6B" stroke-width="2.0"/><path d="M271.09,2043.93L279.42,2028.6L262.75,2028.6Z" fill="#37AD6B"/><path d="M272.49,2006.31L284.99,1983.31L259.99,1983.31Z" fill="#fff" stroke="#37AD6B" stroke-width="2.0"/><path d="M272.49,2006.31L280.83,1990.98L264.16,1990.98Z" fill="#37AD6B"/><path d="M273.5,2069.01L286,2046.01L261,2046.01Z" fill="#fff" stroke="#37AD6B" stroke-width="2.0"/><path d="M273.5,2069.01L281.83,2053.68L265.16,2053.68Z" fill="#37AD6B"/><path d="M274.5,2156.79L287,2133.79L262,2133.79Z" fill="#fff" stroke="#37AD6B" stroke-width="2.0"/><path d="M274.5,2156.79L282.83,2141.46L266.17,2141.46Z" fill="#37AD6B"/><path d="M277.51,2261.29L290.01,2238.29L265.01,2238.29Z" fill="#fff" stroke="#37AD6B" stroke-width="2.0"/><path d="M277.51,2261.29L285.84,2245.96L269.18,2245.96Z" fill="#37AD6B"/><path d="M281.52,2323.99L294.02,2300.99L269.02,2300.99Z" fill="#fff" stroke="#37AD6B" stroke-width="2.0"/><path d="M281.52,2323.99L289.86,2308.66L273.19,2308.66Z" fill="#37AD6B"/><path d="M285.54,2336.53L298.04,2313.53L273.04,2313.53Z" fill="#fff" stroke="#37AD6B" stroke-width="2.0"/><path d="M285.54,2336.53L293.87,2321.2L277.2,2321.2Z" fill="#37AD6B"/><path d="M289.55,2357.43L302.05,2334.43L277.05,2334.43Z" fill="#fff" stroke="#37AD6B" stroke-width="2.0"/><path d="M289.55,2357.43L297.89,2342.1L281.22,2342.1Z" fill="#37AD6B"/><path d="M293.57,2407.59L306.07,2384.59L281.07,2384.59Z" fill="#fff" stroke="#37AD6B" stroke-width="2.0"/><path d="M293.57,2407.59L301.9,2392.26L285.23,2392.26Z" fill="#37AD6B"/><path d="M297.58,2470.29L310.08,2447.29L285.08,2447.29Z" fill="#fff" stroke="#37AD6B" stroke-width="2.0"/><path d="M297.58,2470.29L305.91,2454.96L289.25,2454.96Z" fill="#37AD6B"/><path d="M303.6,2503.73L316.1,2480.73L291.1,2480.73Z" fill="#fff" stroke="#37AD6B" stroke-width="2.0"/><path d="M303.6,2503.73L311.93,2488.4L295.27,2488.4Z" fill="#37AD6B"/><path d="M309.62,2474.47L322.12,2451.47L297.12,2451.47Z" fill="#fff" stroke="#37AD6B" stroke-width="2.0"/><path d="M309.62,2474.47L317.96,2459.14L301.29,2459.14Z" fill="#37AD6B"/><path d="M313.64,2461.93L326.14,2438.93L301.14,2438.93Z" fill="#fff" stroke="#37AD6B" stroke-width="2.0"/><path d="M313.64,2461.93L321.97,2446.6L305.3,2446.6Z" fill="#37AD6B"/><path d="M320.26,2395.05L332.76,2372.05L307.76,2372.05Z" fill="#fff" stroke="#37AD6B" stroke-width="2.0"/><path d="M320.26,2395.05L328.59,2379.72L311.93,2379.72Z" fill="#37AD6B"/><path d="M324.27,2294.73L336.77,2271.73L311.77,2271.73Z" fill="#fff" stroke="#37AD6B" stroke-width="2.0"/><path d="M324.27,2294.73L332.61,2279.4L315.94,2279.4Z" fill="#37AD6B"/><path d="M334.51,2218.24L347.01,2195.24L322.01,2195.24Z" fill="#fff" stroke="#37AD6B" stroke-width="2.0"/><path d="M334.51,2218.24L342.84,2202.91L326.18,2202.91Z" fill="#37AD6B"/><path d="M346.55,2240.39L359.05,2217.39L334.05,2217.39Z" fill="#fff" stroke="#37AD6B" stroke-width="2.0"/><path d="M346.55,2240.39L354.88,2225.06L338.22,2225.06Z" fill="#37AD6B"/><path d="M357.59,2200.27L370.09,2177.27L345.09,2177.27Z" fill="#fff" stroke="#37AD6B" stroke-width="2.0"/><path d="M357.59,2200.27L365.92,2184.93L349.26,2184.93Z" fill="#37AD6B"/><path d="M364.61,2280.94L377.11,2257.94L352.11,2257.94Z" fill="#fff" stroke="#37AD6B" stroke-width="2.0"/><path d="M364.61,2280.94L372.95,2265.61L356.28,2265.61Z" fill="#37AD6B"/><path d="M373.85,2336.53L386.35,2313.53L361.35,2313.53Z" fill="#fff" stroke="#37AD6B" stroke-width="2.0"/><path d="M373.85,2336.53L382.18,2321.2L365.51,2321.2Z" fill="#37AD6B"/><path d="M384.68,2347.4L397.18,2324.4L372.18,2324.4Z" fill="#fff" stroke="#37AD6B" stroke-width="2.0"/><path d="M384.68,2347.4L393.02,2332.07L376.35,2332.07Z" fill="#37AD6B"/><path d="M394.72,2344.89L407.22,2321.89L382.22,2321.89Z" fill="#fff" stroke="#37AD6B" stroke-width="2.0"/><path d="M394.72,2344.89L403.05,2329.56L386.39,2329.56Z" fill="#37AD6B"/><path d="M403.95,2378.33L416.45,2355.33L391.45,2355.33Z" fill="#fff" stroke="#37AD6B" stroke-width="2.0"/><path d="M403.95,2378.33L412.28,2363L395.62,2363Z" fill="#37AD6B"/><path d="M411.98,2424.31L424.48,2401.31L399.48,2401.31Z" fill="#fff" stroke="#37AD6B" stroke-width="2.0"/><path d="M411.98,2424.31L420.31,2408.98L403.65,2408.98Z" fill="#37AD6B"/><path d="M418,2425.99L430.5,2402.99L405.5,2402.99Z" fill="#fff" stroke="#37AD6B" stroke-width="2.0"/><path d="M418,2425.99L426.33,2410.65L409.67,2410.65Z" fill="#37AD6B"/><path d="M428.03,2470.29L440.53,2447.29L415.53,2447.29Z" fill="#fff" stroke="#37AD6B" stroke-width="2.0"/><path d="M428.03,2470.29L436.37,2454.96L419.7,2454.96Z" fill="#37AD6B"/><path d="M438.07,2487.01L450.57,2464.01L425.57,2464.01Z" fill="#fff" stroke="#37AD6B" stroke-width="2.0"/><path d="M438.07,2487.01L446.4,2471.68L429.74,2471.68Z" fill="#37AD6B"/><path d="M448.11,2466.11L460.61,2443.11L435.61,2443.11Z" fill="#fff" stroke="#37AD6B" stroke-width="2.0"/><path d="M448.11,2466.11L456.44,2450.78L439.77,2450.78Z" fill="#37AD6B"/><path d="M458.14,2457.75L470.64,2434.75L445.64,2434.75Z" fill="#fff" stroke="#37AD6B" stroke-width="2.0"/><path d="M458.14,2457.75L466.47,2442.42L449.81,2442.42Z" fill="#37AD6B"/><path d="M468.18,2453.57L480.68,2430.57L455.68,2430.57Z" fill="#fff" stroke="#37AD6B" stroke-width="2.0"/><path d="M468.18,2453.57L476.51,2438.24L459.84,2438.24Z" fill="#37AD6B"/><path d="M478.21,2453.57L490.71,2430.57L465.71,2430.57Z" fill="#fff" stroke="#37AD6B" stroke-width="2.0"/><path d="M478.21,2453.57L486.54,2438.24L469.88,2438.24Z" fill="#37AD6B"/><path d="M488.25,2457.75L500.75,2434.75L475.75,2434.75Z" fill="#fff" stroke="#37AD6B" stroke-width="2.0"/><path d="M488.25,2457.75L496.58,2442.42L479.91,2442.42Z" fill="#37AD6B"/><path d="M498.28,2461.93L510.78,2438.93L485.78,2438.93Z" fill="#fff" stroke="#37AD6B" stroke-width="2.0"/><path d="M498.28,2461.93L506.61,2446.6L489.95,2446.6Z" fill="#37AD6B"/><path d="M512.33,2482.83L524.83,2459.83L499.83,2459.83Z" fill="#fff" stroke="#37AD6B" stroke-width="2.0"/><path d="M512.33,2482.83L520.66,2467.5L504,2467.5Z" fill="#37AD6B"/><path d="M528.38,2487.01L540.88,2464.01L515.88,2464.01Z" fill="#fff" stroke="#37AD6B" stroke-width="2.0"/><path d="M528.38,2487.01L536.72,2471.68L520.05,2471.68Z" fill="#37AD6B"/><path d="M544.44,2487.01L556.94,2464.01L531.94,2464.01Z" fill="#fff" stroke="#37AD6B" stroke-width="2.0"/><path d="M544.44,2487.01L552.77,2471.68L536.11,2471.68Z" fill="#37AD6B"/><path d="M562.5,2491.19L575,2468.19L550,2468.19Z" fill="#fff" stroke="#37AD6B" stroke-width="2.0"/><path d="M562.5,2491.19L570.84,2475.86L554.17,2475.86Z" fill="#37AD6B"/><path d="M580.57,2491.19L593.07,2468.19L568.07,2468.19Z" fill="#fff" stroke="#37AD6B" stroke-width="2.0"/><path d="M580.57,2491.19L588.9,2475.86L572.23,2475.86Z" fill="#37AD6B"/><path d="M598.63,2495.37L611.13,2472.37L586.13,2472.37Z" fill="#fff" stroke="#37AD6B" stroke-width="2.0"/><path d="M598.63,2495.37L606.96,2480.04L590.3,2480.04Z" fill="#37AD6B"/><path d="M618.7,2499.55L631.2,2476.55L606.2,2476.55Z" fill="#fff" stroke="#37AD6B" stroke-width="2.0"/><path d="M618.7,2499.55L627.03,2484.22L610.37,2484.22Z" fill="#37AD6B"/><path d="M638.77,2507.91L651.27,2484.91L626.27,2484.91Z" fill="#fff" stroke="#37AD6B" stroke-width="2.0"/><path d="M638.77,2507.91L647.1,2492.58L630.44,2492.58Z" fill="#37AD6B"/><path d="M658.84,2512.09L671.34,2489.09L646.34,2489.09Z" fill="#fff" stroke="#37AD6B" stroke-width="2.0"/><path d="M658.84,2512.09L667.17,2496.76L650.51,2496.76Z" fill="#37AD6B"/><path d="M682.92,2516.27L695.42,2493.27L670.42,2493.27Z" fill="#fff" stroke="#37AD6B" stroke-width="2.0"/><path d="M682.92,2516.27L691.26,2500.94L674.59,2500.94Z" fill="#37AD6B"/><path d="M709.02,2520.45L721.52,2497.45L696.52,2497.45Z" fill="#fff" stroke="#37AD6B" stroke-width="2.0"/><path d="M709.02,2520.45L717.35,2505.12L700.68,2505.12Z" fill="#37AD6B"/><path d="M735.11,2524.63L747.61,2501.63L722.61,2501.63Z" fill="#fff" stroke="#37AD6B" stroke-width="2.0"/><path d="M735.11,2524.63L743.44,2509.3L726.77,2509.3Z" fill="#37AD6B"/><path d="M763.2,2526.72L775.7,2503.72L750.7,2503.72Z" fill="#fff" stroke="#37AD6B" stroke-width="2.0"/><path d="M763.2,2526.72L771.54,2511.39L754.87,2511.39Z" fill="#37AD6B"/><path d="M791.3,2528.81L803.8,2505.81L778.8,2505.81Z" fill="#fff" stroke="#37AD6B" stroke-width="2.0"/><path d="M791.3,2528.81L799.64,2513.48L782.97,2513.48Z" fill="#37AD6B"/><path d="M819.4,2528.81L831.9,2505.81L806.9,2505.81Z" fill="#fff" stroke="#37AD6B" stroke-width="2.0"/><path d="M819.4,2528.81L827.73,2513.48L811.07,2513.48Z" fill="#37AD6B"/><path d="M849.5,2528.81L862,2505.81L837,2505.81Z" fill="#fff" stroke="#37AD6B" stroke-width="2.0"/><path d="M849.5,2528.81L857.84,2513.48L841.17,2513.48Z" fill="#37AD6B"/><path d="M879.61,2530.9L892.11,2507.9L867.11,2507.9Z" fill="#fff" stroke="#37AD6B" stroke-width="2.0"/><path d="M879.61,2530.9L887.94,2515.57L871.28,2515.57Z" fill="#37AD6B"/><path d="M911.72,2530.9L924.22,2507.9L899.22,2507.9Z" fill="#fff" stroke="#37AD6B" stroke-width="2.0"/><path d="M911.72,2530.9L920.06,2515.57L903.39,2515.57Z" fill="#37AD6B"/><path d="M943.83,2530.9L956.33,2507.9L931.33,2507.9Z" fill="#fff" stroke="#37AD6B" stroke-width="2.0"/><path d="M943.83,2530.9L952.17,2515.57L935.5,2515.57Z" fill="#37AD6B"/><path d="M979.96,2530.9L992.46,2507.9L967.46,2507.9Z" fill="#fff" stroke="#37AD6B" stroke-width="2.0"/><path d="M979.96,2530.9L988.29,2515.57L971.63,2515.57Z" fill="#37AD6B"/><path d="M1014.08,2530.9L1026.58,2507.9L1001.58,2507.9Z" fill="#fff" stroke="#37AD6B" stroke-width="2.0"/><path d="M1014.08,2530.9L1022.41,2515.57L1005.75,2515.57Z" fill="#37AD6B"/><polyline points="273.7,2065.8 274.1,1911.98 274.7,1958.38 281.12,2183.68 285.14,2262.68 291.16,2289.85 296.18,2322.87 298.78,2407.73 302.4,2504.7 307.62,2530.2 316.85,2495.51 321.46,2456.21 325.88,2407.73 329.09,2304.9 334.91,2262.68 340.93,2293.19 353.17,2283.58 357.59,2248.89 365.02,2296.12 371.04,2362.58 380.07,2374.7 393.72,2362.58 401.34,2389.75 410.37,2435.31 418,2429.88 425.43,2494.25 438.67,2508.05 447.9,2472.93 464.56,2456.21 479.21,2450.78 493.86,2454.96 506.91,2463.74 519.75,2478.37 533.4,2475.86 547.25,2474.61 562.1,2480.46 580.57,2471.26 597.02,2469.17 613.68,2485.89 632.15,2491.33 652.42,2500.52 672.69,2500.52 692.96,2504.28 715.04,2508.05 737.11,2513.48 762.8,2521 786.69,2515.57 812.58,2515.57 840.07,2515.57 869.58,2517.24 899.08,2517.24 930.39,2517.24 963.5,2517.24 998.63,2517.24 1034.15,2517.24" fill="none" stroke="#B177DE" stroke-width="3.6" stroke-linejoin="round" stroke-linecap="round"/><path d="M273.7,2051.3L287.2,2065.8L273.7,2080.3L260.2,2065.8Z" fill="#fff" stroke="#B177DE" stroke-width="2.0"/><path d="M260.2,2065.8L287.2,2065.8L273.7,2080.3Z" fill="#B177DE"/><path d="M274.1,1897.48L287.6,1911.98L274.1,1926.48L260.6,1911.98Z" fill="#fff" stroke="#B177DE" stroke-width="2.0"/><path d="M260.6,1911.98L287.6,1911.98L274.1,1926.48Z" fill="#B177DE"/><path d="M274.7,1943.88L288.2,1958.38L274.7,1972.88L261.2,1958.38Z" fill="#fff" stroke="#B177DE" stroke-width="2.0"/><path d="M261.2,1958.38L288.2,1958.38L274.7,1972.88Z" fill="#B177DE"/><path d="M281.12,2169.18L294.62,2183.68L281.12,2198.18L267.62,2183.68Z" fill="#fff" stroke="#B177DE" stroke-width="2.0"/><path d="M267.62,2183.68L294.62,2183.68L281.12,2198.18Z" fill="#B177DE"/><path d="M285.14,2248.18L298.64,2262.68L285.14,2277.18L271.64,2262.68Z" fill="#fff" stroke="#B177DE" stroke-width="2.0"/><path d="M271.64,2262.68L298.64,2262.68L285.14,2277.18Z" fill="#B177DE"/><path d="M291.16,2275.35L304.66,2289.85L291.16,2304.35L277.66,2289.85Z" fill="#fff" stroke="#B177DE" stroke-width="2.0"/><path d="M277.66,2289.85L304.66,2289.85L291.16,2304.35Z" fill="#B177DE"/><path d="M296.18,2308.37L309.68,2322.87L296.18,2337.37L282.68,2322.87Z" fill="#fff" stroke="#B177DE" stroke-width="2.0"/><path d="M282.68,2322.87L309.68,2322.87L296.18,2337.37Z" fill="#B177DE"/><path d="M298.78,2393.23L312.28,2407.73L298.78,2422.23L285.28,2407.73Z" fill="#fff" stroke="#B177DE" stroke-width="2.0"/><path d="M285.28,2407.73L312.28,2407.73L298.78,2422.23Z" fill="#B177DE"/><path d="M302.4,2490.2L315.9,2504.7L302.4,2519.2L288.9,2504.7Z" fill="#fff" stroke="#B177DE" stroke-width="2.0"/><path d="M288.9,2504.7L315.9,2504.7L302.4,2519.2Z" fill="#B177DE"/><path d="M307.62,2515.7L321.12,2530.2L307.62,2544.7L294.12,2530.2Z" fill="#fff" stroke="#B177DE" stroke-width="2.0"/><path d="M294.12,2530.2L321.12,2530.2L307.62,2544.7Z" fill="#B177DE"/><path d="M316.85,2481.01L330.35,2495.51L316.85,2510.01L303.35,2495.51Z" fill="#fff" stroke="#B177DE" stroke-width="2.0"/><path d="M303.35,2495.51L330.35,2495.51L316.85,2510.01Z" fill="#B177DE"/><path d="M321.46,2441.71L334.96,2456.21L321.46,2470.71L307.96,2456.21Z" fill="#fff" stroke="#B177DE" stroke-width="2.0"/><path d="M307.96,2456.21L334.96,2456.21L321.46,2470.71Z" fill="#B177DE"/><path d="M325.88,2393.23L339.38,2407.73L325.88,2422.23L312.38,2407.73Z" fill="#fff" stroke="#B177DE" stroke-width="2.0"/><path d="M312.38,2407.73L339.38,2407.73L325.88,2422.23Z" fill="#B177DE"/><path d="M329.09,2290.4L342.59,2304.9L329.09,2319.4L315.59,2304.9Z" fill="#fff" stroke="#B177DE" stroke-width="2.0"/><path d="M315.59,2304.9L342.59,2304.9L329.09,2319.4Z" fill="#B177DE"/><path d="M334.91,2248.18L348.41,2262.68L334.91,2277.18L321.41,2262.68Z" fill="#fff" stroke="#B177DE" stroke-width="2.0"/><path d="M321.41,2262.68L348.41,2262.68L334.91,2277.18Z" fill="#B177DE"/><path d="M340.93,2278.69L354.43,2293.19L340.93,2307.69L327.43,2293.19Z" fill="#fff" stroke="#B177DE" stroke-width="2.0"/><path d="M327.43,2293.19L354.43,2293.19L340.93,2307.69Z" fill="#B177DE"/><path d="M353.17,2269.08L366.67,2283.58L353.17,2298.08L339.67,2283.58Z" fill="#fff" stroke="#B177DE" stroke-width="2.0"/><path d="M339.67,2283.58L366.67,2283.58L353.17,2298.08Z" fill="#B177DE"/><path d="M357.59,2234.39L371.09,2248.89L357.59,2263.39L344.09,2248.89Z" fill="#fff" stroke="#B177DE" stroke-width="2.0"/><path d="M344.09,2248.89L371.09,2248.89L357.59,2263.39Z" fill="#B177DE"/><path d="M365.02,2281.62L378.52,2296.12L365.02,2310.62L351.52,2296.12Z" fill="#fff" stroke="#B177DE" stroke-width="2.0"/><path d="M351.52,2296.12L378.52,2296.12L365.02,2310.62Z" fill="#B177DE"/><path d="M371.04,2348.08L384.54,2362.58L371.04,2377.08L357.54,2362.58Z" fill="#fff" stroke="#B177DE" stroke-width="2.0"/><path d="M357.54,2362.58L384.54,2362.58L371.04,2377.08Z" fill="#B177DE"/><path d="M380.07,2360.2L393.57,2374.7L380.07,2389.2L366.57,2374.7Z" fill="#fff" stroke="#B177DE" stroke-width="2.0"/><path d="M366.57,2374.7L393.57,2374.7L380.07,2389.2Z" fill="#B177DE"/><path d="M393.72,2348.08L407.22,2362.58L393.72,2377.08L380.22,2362.58Z" fill="#fff" stroke="#B177DE" stroke-width="2.0"/><path d="M380.22,2362.58L407.22,2362.58L393.72,2377.08Z" fill="#B177DE"/><path d="M401.34,2375.25L414.84,2389.75L401.34,2404.25L387.84,2389.75Z" fill="#fff" stroke="#B177DE" stroke-width="2.0"/><path d="M387.84,2389.75L414.84,2389.75L401.34,2404.25Z" fill="#B177DE"/><path d="M410.37,2420.81L423.87,2435.31L410.37,2449.81L396.87,2435.31Z" fill="#fff" stroke="#B177DE" stroke-width="2.0"/><path d="M396.87,2435.31L423.87,2435.31L410.37,2449.81Z" fill="#B177DE"/><path d="M418,2415.38L431.5,2429.88L418,2444.38L404.5,2429.88Z" fill="#fff" stroke="#B177DE" stroke-width="2.0"/><path d="M404.5,2429.88L431.5,2429.88L418,2444.38Z" fill="#B177DE"/><path d="M425.43,2479.75L438.93,2494.25L425.43,2508.75L411.93,2494.25Z" fill="#fff" stroke="#B177DE" stroke-width="2.0"/><path d="M411.93,2494.25L438.93,2494.25L425.43,2508.75Z" fill="#B177DE"/><path d="M438.67,2493.55L452.17,2508.05L438.67,2522.55L425.17,2508.05Z" fill="#fff" stroke="#B177DE" stroke-width="2.0"/><path d="M425.17,2508.05L452.17,2508.05L438.67,2522.55Z" fill="#B177DE"/><path d="M447.9,2458.43L461.4,2472.93L447.9,2487.43L434.4,2472.93Z" fill="#fff" stroke="#B177DE" stroke-width="2.0"/><path d="M434.4,2472.93L461.4,2472.93L447.9,2487.43Z" fill="#B177DE"/><path d="M464.56,2441.71L478.06,2456.21L464.56,2470.71L451.06,2456.21Z" fill="#fff" stroke="#B177DE" stroke-width="2.0"/><path d="M451.06,2456.21L478.06,2456.21L464.56,2470.71Z" fill="#B177DE"/><path d="M479.21,2436.28L492.71,2450.78L479.21,2465.28L465.71,2450.78Z" fill="#fff" stroke="#B177DE" stroke-width="2.0"/><path d="M465.71,2450.78L492.71,2450.78L479.21,2465.28Z" fill="#B177DE"/><path d="M493.86,2440.46L507.36,2454.96L493.86,2469.46L480.36,2454.96Z" fill="#fff" stroke="#B177DE" stroke-width="2.0"/><path d="M480.36,2454.96L507.36,2454.96L493.86,2469.46Z" fill="#B177DE"/><path d="M506.91,2449.24L520.41,2463.74L506.91,2478.24L493.41,2463.74Z" fill="#fff" stroke="#B177DE" stroke-width="2.0"/><path d="M493.41,2463.74L520.41,2463.74L506.91,2478.24Z" fill="#B177DE"/><path d="M519.75,2463.87L533.25,2478.37L519.75,2492.87L506.25,2478.37Z" fill="#fff" stroke="#B177DE" stroke-width="2.0"/><path d="M506.25,2478.37L533.25,2478.37L519.75,2492.87Z" fill="#B177DE"/><path d="M533.4,2461.36L546.9,2475.86L533.4,2490.36L519.9,2475.86Z" fill="#fff" stroke="#B177DE" stroke-width="2.0"/><path d="M519.9,2475.86L546.9,2475.86L533.4,2490.36Z" fill="#B177DE"/><path d="M547.25,2460.11L560.75,2474.61L547.25,2489.11L533.75,2474.61Z" fill="#fff" stroke="#B177DE" stroke-width="2.0"/><path d="M533.75,2474.61L560.75,2474.61L547.25,2489.11Z" fill="#B177DE"/><path d="M562.1,2465.96L575.6,2480.46L562.1,2494.96L548.6,2480.46Z" fill="#fff" stroke="#B177DE" stroke-width="2.0"/><path d="M548.6,2480.46L575.6,2480.46L562.1,2494.96Z" fill="#B177DE"/><path d="M580.57,2456.76L594.07,2471.26L580.57,2485.76L567.07,2471.26Z" fill="#fff" stroke="#B177DE" stroke-width="2.0"/><path d="M567.07,2471.26L594.07,2471.26L580.57,2485.76Z" fill="#B177DE"/><path d="M597.02,2454.67L610.52,2469.17L597.02,2483.67L583.52,2469.17Z" fill="#fff" stroke="#B177DE" stroke-width="2.0"/><path d="M583.52,2469.17L610.52,2469.17L597.02,2483.67Z" fill="#B177DE"/><path d="M613.68,2471.39L627.18,2485.89L613.68,2500.39L600.18,2485.89Z" fill="#fff" stroke="#B177DE" stroke-width="2.0"/><path d="M600.18,2485.89L627.18,2485.89L613.68,2500.39Z" fill="#B177DE"/><path d="M632.15,2476.83L645.65,2491.33L632.15,2505.83L618.65,2491.33Z" fill="#fff" stroke="#B177DE" stroke-width="2.0"/><path d="M618.65,2491.33L645.65,2491.33L632.15,2505.83Z" fill="#B177DE"/><path d="M652.42,2486.02L665.92,2500.52L652.42,2515.02L638.92,2500.52Z" fill="#fff" stroke="#B177DE" stroke-width="2.0"/><path d="M638.92,2500.52L665.92,2500.52L652.42,2515.02Z" fill="#B177DE"/><path d="M672.69,2486.02L686.19,2500.52L672.69,2515.02L659.19,2500.52Z" fill="#fff" stroke="#B177DE" stroke-width="2.0"/><path d="M659.19,2500.52L686.19,2500.52L672.69,2515.02Z" fill="#B177DE"/><path d="M692.96,2489.78L706.46,2504.28L692.96,2518.78L679.46,2504.28Z" fill="#fff" stroke="#B177DE" stroke-width="2.0"/><path d="M679.46,2504.28L706.46,2504.28L692.96,2518.78Z" fill="#B177DE"/><path d="M715.04,2493.55L728.54,2508.05L715.04,2522.55L701.54,2508.05Z" fill="#fff" stroke="#B177DE" stroke-width="2.0"/><path d="M701.54,2508.05L728.54,2508.05L715.04,2522.55Z" fill="#B177DE"/><path d="M737.11,2498.98L750.61,2513.48L737.11,2527.98L723.61,2513.48Z" fill="#fff" stroke="#B177DE" stroke-width="2.0"/><path d="M723.61,2513.48L750.61,2513.48L737.11,2527.98Z" fill="#B177DE"/><path d="M762.8,2506.5L776.3,2521L762.8,2535.5L749.3,2521Z" fill="#fff" stroke="#B177DE" stroke-width="2.0"/><path d="M749.3,2521L776.3,2521L762.8,2535.5Z" fill="#B177DE"/><path d="M786.69,2501.07L800.19,2515.57L786.69,2530.07L773.19,2515.57Z" fill="#fff" stroke="#B177DE" stroke-width="2.0"/><path d="M773.19,2515.57L800.19,2515.57L786.69,2530.07Z" fill="#B177DE"/><path d="M812.58,2501.07L826.08,2515.57L812.58,2530.07L799.08,2515.57Z" fill="#fff" stroke="#B177DE" stroke-width="2.0"/><path d="M799.08,2515.57L826.08,2515.57L812.58,2530.07Z" fill="#B177DE"/><path d="M840.07,2501.07L853.57,2515.57L840.07,2530.07L826.57,2515.57Z" fill="#fff" stroke="#B177DE" stroke-width="2.0"/><path d="M826.57,2515.57L853.57,2515.57L840.07,2530.07Z" fill="#B177DE"/><path d="M869.58,2502.74L883.08,2517.24L869.58,2531.74L856.08,2517.24Z" fill="#fff" stroke="#B177DE" stroke-width="2.0"/><path d="M856.08,2517.24L883.08,2517.24L869.58,2531.74Z" fill="#B177DE"/><path d="M899.08,2502.74L912.58,2517.24L899.08,2531.74L885.58,2517.24Z" fill="#fff" stroke="#B177DE" stroke-width="2.0"/><path d="M885.58,2517.24L912.58,2517.24L899.08,2531.74Z" fill="#B177DE"/><path d="M930.39,2502.74L943.89,2517.24L930.39,2531.74L916.89,2517.24Z" fill="#fff" stroke="#B177DE" stroke-width="2.0"/><path d="M916.89,2517.24L943.89,2517.24L930.39,2531.74Z" fill="#B177DE"/><path d="M963.5,2502.74L977,2517.24L963.5,2531.74L950,2517.24Z" fill="#fff" stroke="#B177DE" stroke-width="2.0"/><path d="M950,2517.24L977,2517.24L963.5,2531.74Z" fill="#B177DE"/><path d="M998.63,2502.74L1012.13,2517.24L998.63,2531.74L985.13,2517.24Z" fill="#fff" stroke="#B177DE" stroke-width="2.0"/><path d="M985.13,2517.24L1012.13,2517.24L998.63,2531.74Z" fill="#B177DE"/><path d="M1034.15,2502.74L1047.65,2517.24L1034.15,2531.74L1020.65,2517.24Z" fill="#fff" stroke="#B177DE" stroke-width="2.0"/><path d="M1020.65,2517.24L1047.65,2517.24L1034.15,2531.74Z" fill="#B177DE"/></g><path d="M217.3,2538.5V2525.5M217.3,1821V1834M418,2538.5V2525.5M418,1821V1834M618.7,2538.5V2525.5M618.7,1821V1834M819.4,2538.5V2525.5M819.4,1821V1834M1020.1,2538.5V2525.5M1020.1,1821V1834M267.48,2538.5V2532M267.48,1821V1827.5M317.65,2538.5V2532M317.65,1821V1827.5M367.82,2538.5V2532M367.82,1821V1827.5M468.18,2538.5V2532M468.18,1821V1827.5M518.35,2538.5V2532M518.35,1821V1827.5M568.52,2538.5V2532M568.52,1821V1827.5M668.88,2538.5V2532M668.88,1821V1827.5M719.05,2538.5V2532M719.05,1821V1827.5M769.22,2538.5V2532M769.22,1821V1827.5M869.58,2538.5V2532M869.58,1821V1827.5M919.75,2538.5V2532M919.75,1821V1827.5M969.92,2538.5V2532M969.92,1821V1827.5M217.5,2530.2H230.5M1020.2,2530.2H1007.2M217.5,2321.2H230.5M1020.2,2321.2H1007.2M217.5,2112.2H230.5M1020.2,2112.2H1007.2M217.5,1903.2H230.5M1020.2,1903.2H1007.2M217.5,2488.4H224M1020.2,2488.4H1013.7M217.5,2446.6H224M1020.2,2446.6H1013.7M217.5,2404.8H224M1020.2,2404.8H1013.7M217.5,2363H224M1020.2,2363H1013.7M217.5,2279.4H224M1020.2,2279.4H1013.7M217.5,2237.6H224M1020.2,2237.6H1013.7M217.5,2195.8H224M1020.2,2195.8H1013.7M217.5,2154H224M1020.2,2154H1013.7M217.5,2070.4H224M1020.2,2070.4H1013.7M217.5,2028.6H224M1020.2,2028.6H1013.7M217.5,1986.8H224M1020.2,1986.8H1013.7M217.5,1945H224M1020.2,1945H1013.7M217.5,1861.4H224M1020.2,1861.4H1013.7" stroke="#000" stroke-width="3.2" fill="none"/><rect x="217.5" y="1821" width="802.7" height="717.5" fill="none" stroke="#000" stroke-width="3.7"/><line x1="582" y1="1874.1" x2="726" y2="1874.1" stroke="#515151" stroke-width="3.8"/><path d="M643.8,1863.6H664.8V1884.6H643.8Z" fill="#fff" stroke="#515151" stroke-width="2.0"/><path d="M643.8,1874.1H664.8V1884.6H643.8Z" fill="#515151"/><line x1="582" y1="1951.4" x2="726" y2="1951.4" stroke="#F14040" stroke-width="3.8"/><path d="M642.9,1951.4A11.4,11.4 0 1 1 665.7,1951.4A11.4,11.4 0 1 1 642.9,1951.4Z" fill="#fff" stroke="#F14040" stroke-width="2.0"/><path d="M665.7,1951.4A11.4,11.4 0 0 1 642.9,1951.4Z" fill="#F14040"/><line x1="582" y1="2028.7" x2="726" y2="2028.7" stroke="#1A6FDF" stroke-width="3.8"/><path d="M654.3,2013.37L666.8,2036.37L641.8,2036.37Z" fill="#fff" stroke="#1A6FDF" stroke-width="2.0"/><path d="M645.97,2028.7L662.63,2028.7L666.8,2036.37L641.8,2036.37Z" fill="#1A6FDF"/><line x1="582" y1="2106" x2="726" y2="2106" stroke="#37AD6B" stroke-width="3.8"/><path d="M654.3,2121.33L666.8,2098.33L641.8,2098.33Z" fill="#fff" stroke="#37AD6B" stroke-width="2.0"/><path d="M654.3,2121.33L662.63,2106L645.97,2106Z" fill="#37AD6B"/><line x1="582" y1="2183.3" x2="726" y2="2183.3" stroke="#B177DE" stroke-width="3.8"/><path d="M654.3,2168.8L667.8,2183.3L654.3,2197.8L640.8,2183.3Z" fill="#fff" stroke="#B177DE" stroke-width="2.0"/><path d="M640.8,2183.3L667.8,2183.3L654.3,2197.8Z" fill="#B177DE"/><line x1="334.5" y1="2058.9" x2="334.5" y2="2107.6" stroke="#000" stroke-width="3.2"/><path d="M334.5,2129.6L327.3,2099.6L334.5,2107.6L341.7,2099.6Z" fill="#000"/><line x1="359" y1="2061" x2="359" y2="2094.2" stroke="#000" stroke-width="3.2"/><path d="M359,2116.2L351.8,2086.2L359,2094.2L366.2,2086.2Z" fill="#000"/><line x1="393.7" y1="2257.6" x2="393.7" y2="2293" stroke="#000" stroke-width="3.2"/><path d="M393.7,2315L386.5,2285L393.7,2293L400.9,2285Z" fill="#000"/><clipPath id="cc"><rect x="1283.1" y="1821.5" width="803.3" height="717.5"/></clipPath><g clip-path="url(#cc)"><polyline points="1331.3,2473.43 1339.78,2477.96 1348.71,2482.8 1357.63,2486.04 1367,2505.43 1377.27,2502.52 1388.43,2504.46 1400.48,2506.4 1413.87,2508.34 1429.04,2510.92 1446.45,2513.83 1466.98,2515.12 1490.63,2527.73 1518.3,2516.74 1549.09,2518.36 1584.8,2527.73 1627.64,2526.44 1683.43,2528.05 1760.64,2529.67 1857.04,2530.31 1994.06,2530.96 2175.7,2531.28" fill="none" stroke="#515151" stroke-width="3.6" stroke-linejoin="round" stroke-linecap="round"/><path d="M1320.8,2462.93H1341.8V2483.93H1320.8Z" fill="#fff" stroke="#515151" stroke-width="2.0"/><path d="M1320.8,2462.93H1341.8V2473.43H1320.8Z" fill="#515151"/><path d="M1329.28,2467.46H1350.28V2488.46H1329.28Z" fill="#fff" stroke="#515151" stroke-width="2.0"/><path d="M1329.28,2467.46H1350.28V2477.96H1329.28Z" fill="#515151"/><path d="M1338.21,2472.3H1359.21V2493.3H1338.21Z" fill="#fff" stroke="#515151" stroke-width="2.0"/><path d="M1338.21,2472.3H1359.21V2482.8H1338.21Z" fill="#515151"/><path d="M1347.13,2475.54H1368.13V2496.54H1347.13Z" fill="#fff" stroke="#515151" stroke-width="2.0"/><path d="M1347.13,2475.54H1368.13V2486.04H1347.13Z" fill="#515151"/><path d="M1356.5,2494.93H1377.5V2515.93H1356.5Z" fill="#fff" stroke="#515151" stroke-width="2.0"/><path d="M1356.5,2494.93H1377.5V2505.43H1356.5Z" fill="#515151"/><path d="M1366.77,2492.02H1387.77V2513.02H1366.77Z" fill="#fff" stroke="#515151" stroke-width="2.0"/><path d="M1366.77,2492.02H1387.77V2502.52H1366.77Z" fill="#515151"/><path d="M1377.93,2493.96H1398.93V2514.96H1377.93Z" fill="#fff" stroke="#515151" stroke-width="2.0"/><path d="M1377.93,2493.96H1398.93V2504.46H1377.93Z" fill="#515151"/><path d="M1389.98,2495.9H1410.98V2516.9H1389.98Z" fill="#fff" stroke="#515151" stroke-width="2.0"/><path d="M1389.98,2495.9H1410.98V2506.4H1389.98Z" fill="#515151"/><path d="M1403.37,2497.84H1424.37V2518.84H1403.37Z" fill="#fff" stroke="#515151" stroke-width="2.0"/><path d="M1403.37,2497.84H1424.37V2508.34H1403.37Z" fill="#515151"/><path d="M1418.54,2500.42H1439.54V2521.42H1418.54Z" fill="#fff" stroke="#515151" stroke-width="2.0"/><path d="M1418.54,2500.42H1439.54V2510.92H1418.54Z" fill="#515151"/><path d="M1435.95,2503.33H1456.95V2524.33H1435.95Z" fill="#fff" stroke="#515151" stroke-width="2.0"/><path d="M1435.95,2503.33H1456.95V2513.83H1435.95Z" fill="#515151"/><path d="M1456.48,2504.62H1477.48V2525.62H1456.48Z" fill="#fff" stroke="#515151" stroke-width="2.0"/><path d="M1456.48,2504.62H1477.48V2515.12H1456.48Z" fill="#515151"/><path d="M1480.13,2517.23H1501.13V2538.23H1480.13Z" fill="#fff" stroke="#515151" stroke-width="2.0"/><path d="M1480.13,2517.23H1501.13V2527.73H1480.13Z" fill="#515151"/><path d="M1507.8,2506.24H1528.8V2527.24H1507.8Z" fill="#fff" stroke="#515151" stroke-width="2.0"/><path d="M1507.8,2506.24H1528.8V2516.74H1507.8Z" fill="#515151"/><path d="M1538.59,2507.86H1559.59V2528.86H1538.59Z" fill="#fff" stroke="#515151" stroke-width="2.0"/><path d="M1538.59,2507.86H1559.59V2518.36H1538.59Z" fill="#515151"/><path d="M1574.3,2517.23H1595.3V2538.23H1574.3Z" fill="#fff" stroke="#515151" stroke-width="2.0"/><path d="M1574.3,2517.23H1595.3V2527.73H1574.3Z" fill="#515151"/><path d="M1617.14,2515.94H1638.14V2536.94H1617.14Z" fill="#fff" stroke="#515151" stroke-width="2.0"/><path d="M1617.14,2515.94H1638.14V2526.44H1617.14Z" fill="#515151"/><path d="M1672.93,2517.55H1693.93V2538.55H1672.93Z" fill="#fff" stroke="#515151" stroke-width="2.0"/><path d="M1672.93,2517.55H1693.93V2528.05H1672.93Z" fill="#515151"/><path d="M1750.14,2519.17H1771.14V2540.17H1750.14Z" fill="#fff" stroke="#515151" stroke-width="2.0"/><path d="M1750.14,2519.17H1771.14V2529.67H1750.14Z" fill="#515151"/><path d="M1846.54,2519.81H1867.54V2540.81H1846.54Z" fill="#fff" stroke="#515151" stroke-width="2.0"/><path d="M1846.54,2519.81H1867.54V2530.31H1846.54Z" fill="#515151"/><path d="M1983.56,2520.46H2004.56V2541.46H1983.56Z" fill="#fff" stroke="#515151" stroke-width="2.0"/><path d="M1983.56,2520.46H2004.56V2530.96H1983.56Z" fill="#515151"/><path d="M2165.2,2520.78H2186.2V2541.78H2165.2Z" fill="#fff" stroke="#515151" stroke-width="2.0"/><path d="M2165.2,2520.78H2186.2V2531.28H2165.2Z" fill="#515151"/><polyline points="1331.3,2378.41 1339.78,2232.97 1348.71,2219.4 1357.63,2177.38 1367,2206.47 1377.27,2220.37 1388.43,2402 1400.48,2421.72 1413.87,2435.62 1429.04,2452.42 1446.45,2460.83 1466.98,2473.43 1490.63,2483.13 1518.3,2489.91 1549.09,2500.58 1584.8,2507.69 1627.64,2514.15 1683.43,2520.94 1760.64,2527.41 1857.04,2529.67 1994.06,2529.67 2175.7,2529.02" fill="none" stroke="#F14040" stroke-width="3.6" stroke-linejoin="round" stroke-linecap="round"/><path d="M1319.9,2378.41A11.4,11.4 0 1 1 1342.7,2378.41A11.4,11.4 0 1 1 1319.9,2378.41Z" fill="#fff" stroke="#F14040" stroke-width="2.0"/><path d="M1319.9,2378.41A11.4,11.4 0 0 1 1342.7,2378.41Z" fill="#F14040"/><path d="M1328.38,2232.97A11.4,11.4 0 1 1 1351.18,2232.97A11.4,11.4 0 1 1 1328.38,2232.97Z" fill="#fff" stroke="#F14040" stroke-width="2.0"/><path d="M1328.38,2232.97A11.4,11.4 0 0 1 1351.18,2232.97Z" fill="#F14040"/><path d="M1337.31,2219.4A11.4,11.4 0 1 1 1360.11,2219.4A11.4,11.4 0 1 1 1337.31,2219.4Z" fill="#fff" stroke="#F14040" stroke-width="2.0"/><path d="M1337.31,2219.4A11.4,11.4 0 0 1 1360.11,2219.4Z" fill="#F14040"/><path d="M1346.23,2177.38A11.4,11.4 0 1 1 1369.03,2177.38A11.4,11.4 0 1 1 1346.23,2177.38Z" fill="#fff" stroke="#F14040" stroke-width="2.0"/><path d="M1346.23,2177.38A11.4,11.4 0 0 1 1369.03,2177.38Z" fill="#F14040"/><path d="M1355.6,2206.47A11.4,11.4 0 1 1 1378.4,2206.47A11.4,11.4 0 1 1 1355.6,2206.47Z" fill="#fff" stroke="#F14040" stroke-width="2.0"/><path d="M1355.6,2206.47A11.4,11.4 0 0 1 1378.4,2206.47Z" fill="#F14040"/><path d="M1365.87,2220.37A11.4,11.4 0 1 1 1388.67,2220.37A11.4,11.4 0 1 1 1365.87,2220.37Z" fill="#fff" stroke="#F14040" stroke-width="2.0"/><path d="M1365.87,2220.37A11.4,11.4 0 0 1 1388.67,2220.37Z" fill="#F14040"/><path d="M1377.03,2402A11.4,11.4 0 1 1 1399.83,2402A11.4,11.4 0 1 1 1377.03,2402Z" fill="#fff" stroke="#F14040" stroke-width="2.0"/><path d="M1377.03,2402A11.4,11.4 0 0 1 1399.83,2402Z" fill="#F14040"/><path d="M1389.08,2421.72A11.4,11.4 0 1 1 1411.88,2421.72A11.4,11.4 0 1 1 1389.08,2421.72Z" fill="#fff" stroke="#F14040" stroke-width="2.0"/><path d="M1389.08,2421.72A11.4,11.4 0 0 1 1411.88,2421.72Z" fill="#F14040"/><path d="M1402.47,2435.62A11.4,11.4 0 1 1 1425.27,2435.62A11.4,11.4 0 1 1 1402.47,2435.62Z" fill="#fff" stroke="#F14040" stroke-width="2.0"/><path d="M1402.47,2435.62A11.4,11.4 0 0 1 1425.27,2435.62Z" fill="#F14040"/><path d="M1417.64,2452.42A11.4,11.4 0 1 1 1440.44,2452.42A11.4,11.4 0 1 1 1417.64,2452.42Z" fill="#fff" stroke="#F14040" stroke-width="2.0"/><path d="M1417.64,2452.42A11.4,11.4 0 0 1 1440.44,2452.42Z" fill="#F14040"/><path d="M1435.05,2460.83A11.4,11.4 0 1 1 1457.85,2460.83A11.4,11.4 0 1 1 1435.05,2460.83Z" fill="#fff" stroke="#F14040" stroke-width="2.0"/><path d="M1435.05,2460.83A11.4,11.4 0 0 1 1457.85,2460.83Z" fill="#F14040"/><path d="M1455.58,2473.43A11.4,11.4 0 1 1 1478.38,2473.43A11.4,11.4 0 1 1 1455.58,2473.43Z" fill="#fff" stroke="#F14040" stroke-width="2.0"/><path d="M1455.58,2473.43A11.4,11.4 0 0 1 1478.38,2473.43Z" fill="#F14040"/><path d="M1479.23,2483.13A11.4,11.4 0 1 1 1502.03,2483.13A11.4,11.4 0 1 1 1479.23,2483.13Z" fill="#fff" stroke="#F14040" stroke-width="2.0"/><path d="M1479.23,2483.13A11.4,11.4 0 0 1 1502.03,2483.13Z" fill="#F14040"/><path d="M1506.9,2489.91A11.4,11.4 0 1 1 1529.7,2489.91A11.4,11.4 0 1 1 1506.9,2489.91Z" fill="#fff" stroke="#F14040" stroke-width="2.0"/><path d="M1506.9,2489.91A11.4,11.4 0 0 1 1529.7,2489.91Z" fill="#F14040"/><path d="M1537.69,2500.58A11.4,11.4 0 1 1 1560.49,2500.58A11.4,11.4 0 1 1 1537.69,2500.58Z" fill="#fff" stroke="#F14040" stroke-width="2.0"/><path d="M1537.69,2500.58A11.4,11.4 0 0 1 1560.49,2500.58Z" fill="#F14040"/><path d="M1573.4,2507.69A11.4,11.4 0 1 1 1596.2,2507.69A11.4,11.4 0 1 1 1573.4,2507.69Z" fill="#fff" stroke="#F14040" stroke-width="2.0"/><path d="M1573.4,2507.69A11.4,11.4 0 0 1 1596.2,2507.69Z" fill="#F14040"/><path d="M1616.24,2514.15A11.4,11.4 0 1 1 1639.04,2514.15A11.4,11.4 0 1 1 1616.24,2514.15Z" fill="#fff" stroke="#F14040" stroke-width="2.0"/><path d="M1616.24,2514.15A11.4,11.4 0 0 1 1639.04,2514.15Z" fill="#F14040"/><path d="M1672.03,2520.94A11.4,11.4 0 1 1 1694.83,2520.94A11.4,11.4 0 1 1 1672.03,2520.94Z" fill="#fff" stroke="#F14040" stroke-width="2.0"/><path d="M1672.03,2520.94A11.4,11.4 0 0 1 1694.83,2520.94Z" fill="#F14040"/><path d="M1749.24,2527.41A11.4,11.4 0 1 1 1772.04,2527.41A11.4,11.4 0 1 1 1749.24,2527.41Z" fill="#fff" stroke="#F14040" stroke-width="2.0"/><path d="M1749.24,2527.41A11.4,11.4 0 0 1 1772.04,2527.41Z" fill="#F14040"/><path d="M1845.64,2529.67A11.4,11.4 0 1 1 1868.44,2529.67A11.4,11.4 0 1 1 1845.64,2529.67Z" fill="#fff" stroke="#F14040" stroke-width="2.0"/><path d="M1845.64,2529.67A11.4,11.4 0 0 1 1868.44,2529.67Z" fill="#F14040"/><path d="M1982.66,2529.67A11.4,11.4 0 1 1 2005.46,2529.67A11.4,11.4 0 1 1 1982.66,2529.67Z" fill="#fff" stroke="#F14040" stroke-width="2.0"/><path d="M1982.66,2529.67A11.4,11.4 0 0 1 2005.46,2529.67Z" fill="#F14040"/><path d="M2164.3,2529.02A11.4,11.4 0 1 1 2187.1,2529.02A11.4,11.4 0 1 1 2164.3,2529.02Z" fill="#fff" stroke="#F14040" stroke-width="2.0"/><path d="M2164.3,2529.02A11.4,11.4 0 0 1 2187.1,2529.02Z" fill="#F14040"/><polyline points="1331.3,2180.61 1339.78,2193.54 1348.71,2170.92 1357.63,2151.52 1367,2170.92 1377.27,2240.08 1388.43,2360.31 1400.48,2382.61 1413.87,2409.11 1429.04,2430.12 1446.45,2445.64 1466.98,2456.95 1490.63,2465.03 1518.3,2476.34 1549.09,2486.04 1584.8,2494.12 1627.64,2502.2 1683.43,2508.66 1760.64,2515.12 1857.04,2519.97 1994.06,2523.2 2175.7,2528.05" fill="none" stroke="#1A6FDF" stroke-width="3.6" stroke-linejoin="round" stroke-linecap="round"/><path d="M1331.3,2165.28L1343.8,2188.28L1318.8,2188.28Z" fill="#fff" stroke="#1A6FDF" stroke-width="2.0"/><path d="M1331.3,2165.28L1339.63,2180.61L1322.97,2180.61Z" fill="#1A6FDF"/><path d="M1339.78,2178.21L1352.28,2201.21L1327.28,2201.21Z" fill="#fff" stroke="#1A6FDF" stroke-width="2.0"/><path d="M1339.78,2178.21L1348.11,2193.54L1331.45,2193.54Z" fill="#1A6FDF"/><path d="M1348.71,2155.58L1361.21,2178.58L1336.21,2178.58Z" fill="#fff" stroke="#1A6FDF" stroke-width="2.0"/><path d="M1348.71,2155.58L1357.04,2170.92L1340.37,2170.92Z" fill="#1A6FDF"/><path d="M1357.63,2136.19L1370.13,2159.19L1345.13,2159.19Z" fill="#fff" stroke="#1A6FDF" stroke-width="2.0"/><path d="M1357.63,2136.19L1365.97,2151.52L1349.3,2151.52Z" fill="#1A6FDF"/><path d="M1367,2155.58L1379.5,2178.58L1354.5,2178.58Z" fill="#fff" stroke="#1A6FDF" stroke-width="2.0"/><path d="M1367,2155.58L1375.34,2170.92L1358.67,2170.92Z" fill="#1A6FDF"/><path d="M1377.27,2224.75L1389.77,2247.75L1364.77,2247.75Z" fill="#fff" stroke="#1A6FDF" stroke-width="2.0"/><path d="M1377.27,2224.75L1385.6,2240.08L1368.94,2240.08Z" fill="#1A6FDF"/><path d="M1388.43,2344.98L1400.93,2367.98L1375.93,2367.98Z" fill="#fff" stroke="#1A6FDF" stroke-width="2.0"/><path d="M1388.43,2344.98L1396.76,2360.31L1380.09,2360.31Z" fill="#1A6FDF"/><path d="M1400.48,2367.28L1412.98,2390.28L1387.98,2390.28Z" fill="#fff" stroke="#1A6FDF" stroke-width="2.0"/><path d="M1400.48,2367.28L1408.81,2382.61L1392.14,2382.61Z" fill="#1A6FDF"/><path d="M1413.87,2393.78L1426.37,2416.78L1401.37,2416.78Z" fill="#fff" stroke="#1A6FDF" stroke-width="2.0"/><path d="M1413.87,2393.78L1422.2,2409.11L1405.53,2409.11Z" fill="#1A6FDF"/><path d="M1429.04,2414.79L1441.54,2437.79L1416.54,2437.79Z" fill="#fff" stroke="#1A6FDF" stroke-width="2.0"/><path d="M1429.04,2414.79L1437.37,2430.12L1420.71,2430.12Z" fill="#1A6FDF"/><path d="M1446.45,2430.3L1458.95,2453.3L1433.95,2453.3Z" fill="#fff" stroke="#1A6FDF" stroke-width="2.0"/><path d="M1446.45,2430.3L1454.78,2445.64L1438.11,2445.64Z" fill="#1A6FDF"/><path d="M1466.98,2441.61L1479.48,2464.61L1454.48,2464.61Z" fill="#fff" stroke="#1A6FDF" stroke-width="2.0"/><path d="M1466.98,2441.61L1475.31,2456.95L1458.64,2456.95Z" fill="#1A6FDF"/><path d="M1490.63,2449.69L1503.13,2472.69L1478.13,2472.69Z" fill="#fff" stroke="#1A6FDF" stroke-width="2.0"/><path d="M1490.63,2449.69L1498.96,2465.03L1482.3,2465.03Z" fill="#1A6FDF"/><path d="M1518.3,2461.01L1530.8,2484.01L1505.8,2484.01Z" fill="#fff" stroke="#1A6FDF" stroke-width="2.0"/><path d="M1518.3,2461.01L1526.63,2476.34L1509.97,2476.34Z" fill="#1A6FDF"/><path d="M1549.09,2470.7L1561.59,2493.7L1536.59,2493.7Z" fill="#fff" stroke="#1A6FDF" stroke-width="2.0"/><path d="M1549.09,2470.7L1557.43,2486.04L1540.76,2486.04Z" fill="#1A6FDF"/><path d="M1584.8,2478.78L1597.3,2501.78L1572.3,2501.78Z" fill="#fff" stroke="#1A6FDF" stroke-width="2.0"/><path d="M1584.8,2478.78L1593.13,2494.12L1576.47,2494.12Z" fill="#1A6FDF"/><path d="M1627.64,2486.86L1640.14,2509.86L1615.14,2509.86Z" fill="#fff" stroke="#1A6FDF" stroke-width="2.0"/><path d="M1627.64,2486.86L1635.98,2502.2L1619.31,2502.2Z" fill="#1A6FDF"/><path d="M1683.43,2493.33L1695.93,2516.33L1670.93,2516.33Z" fill="#fff" stroke="#1A6FDF" stroke-width="2.0"/><path d="M1683.43,2493.33L1691.76,2508.66L1675.1,2508.66Z" fill="#1A6FDF"/><path d="M1760.64,2499.79L1773.14,2522.79L1748.14,2522.79Z" fill="#fff" stroke="#1A6FDF" stroke-width="2.0"/><path d="M1760.64,2499.79L1768.97,2515.12L1752.31,2515.12Z" fill="#1A6FDF"/><path d="M1857.04,2504.64L1869.54,2527.64L1844.54,2527.64Z" fill="#fff" stroke="#1A6FDF" stroke-width="2.0"/><path d="M1857.04,2504.64L1865.38,2519.97L1848.71,2519.97Z" fill="#1A6FDF"/><path d="M1994.06,2507.87L2006.56,2530.87L1981.56,2530.87Z" fill="#fff" stroke="#1A6FDF" stroke-width="2.0"/><path d="M1994.06,2507.87L2002.39,2523.2L1985.72,2523.2Z" fill="#1A6FDF"/><path d="M2175.7,2512.72L2188.2,2535.72L2163.2,2535.72Z" fill="#fff" stroke="#1A6FDF" stroke-width="2.0"/><path d="M2175.7,2512.72L2184.03,2528.05L2167.37,2528.05Z" fill="#1A6FDF"/><polyline points="1331.3,2145.06 1339.78,2141.83 1348.71,2125.67 1357.63,2112.74 1367,2093.35 1377.27,2178.67 1388.43,2309.89 1400.48,2326.7 1413.87,2350.29 1429.04,2374.21 1446.45,2393.92 1466.98,2423.01 1490.63,2435.62 1518.3,2455.98 1549.09,2463.74 1584.8,2477.31 1627.64,2490.88 1683.43,2501.87 1760.64,2509.31 1857.04,2514.8 1994.06,2518.68 2175.7,2524.82" fill="none" stroke="#37AD6B" stroke-width="3.6" stroke-linejoin="round" stroke-linecap="round"/><path d="M1331.3,2160.39L1343.8,2137.39L1318.8,2137.39Z" fill="#fff" stroke="#37AD6B" stroke-width="2.0"/><path d="M1322.97,2145.06L1339.63,2145.06L1343.8,2137.39L1318.8,2137.39Z" fill="#37AD6B"/><path d="M1339.78,2157.16L1352.28,2134.16L1327.28,2134.16Z" fill="#fff" stroke="#37AD6B" stroke-width="2.0"/><path d="M1331.45,2141.83L1348.11,2141.83L1352.28,2134.16L1327.28,2134.16Z" fill="#37AD6B"/><path d="M1348.71,2141L1361.21,2118L1336.21,2118Z" fill="#fff" stroke="#37AD6B" stroke-width="2.0"/><path d="M1340.37,2125.67L1357.04,2125.67L1361.21,2118L1336.21,2118Z" fill="#37AD6B"/><path d="M1357.63,2128.07L1370.13,2105.07L1345.13,2105.07Z" fill="#fff" stroke="#37AD6B" stroke-width="2.0"/><path d="M1349.3,2112.74L1365.97,2112.74L1370.13,2105.07L1345.13,2105.07Z" fill="#37AD6B"/><path d="M1367,2108.68L1379.5,2085.68L1354.5,2085.68Z" fill="#fff" stroke="#37AD6B" stroke-width="2.0"/><path d="M1358.67,2093.35L1375.34,2093.35L1379.5,2085.68L1354.5,2085.68Z" fill="#37AD6B"/><path d="M1377.27,2194.01L1389.77,2171.01L1364.77,2171.01Z" fill="#fff" stroke="#37AD6B" stroke-width="2.0"/><path d="M1368.94,2178.67L1385.6,2178.67L1389.77,2171.01L1364.77,2171.01Z" fill="#37AD6B"/><path d="M1388.43,2325.23L1400.93,2302.23L1375.93,2302.23Z" fill="#fff" stroke="#37AD6B" stroke-width="2.0"/><path d="M1380.09,2309.89L1396.76,2309.89L1400.93,2302.23L1375.93,2302.23Z" fill="#37AD6B"/><path d="M1400.48,2342.03L1412.98,2319.03L1387.98,2319.03Z" fill="#fff" stroke="#37AD6B" stroke-width="2.0"/><path d="M1392.14,2326.7L1408.81,2326.7L1412.98,2319.03L1387.98,2319.03Z" fill="#37AD6B"/><path d="M1413.87,2365.63L1426.37,2342.63L1401.37,2342.63Z" fill="#fff" stroke="#37AD6B" stroke-width="2.0"/><path d="M1405.53,2350.29L1422.2,2350.29L1426.37,2342.63L1401.37,2342.63Z" fill="#37AD6B"/><path d="M1429.04,2389.54L1441.54,2366.54L1416.54,2366.54Z" fill="#fff" stroke="#37AD6B" stroke-width="2.0"/><path d="M1420.71,2374.21L1437.37,2374.21L1441.54,2366.54L1416.54,2366.54Z" fill="#37AD6B"/><path d="M1446.45,2409.26L1458.95,2386.26L1433.95,2386.26Z" fill="#fff" stroke="#37AD6B" stroke-width="2.0"/><path d="M1438.11,2393.92L1454.78,2393.92L1458.95,2386.26L1433.95,2386.26Z" fill="#37AD6B"/><path d="M1466.98,2438.35L1479.48,2415.35L1454.48,2415.35Z" fill="#fff" stroke="#37AD6B" stroke-width="2.0"/><path d="M1458.64,2423.01L1475.31,2423.01L1479.48,2415.35L1454.48,2415.35Z" fill="#37AD6B"/><path d="M1490.63,2450.95L1503.13,2427.95L1478.13,2427.95Z" fill="#fff" stroke="#37AD6B" stroke-width="2.0"/><path d="M1482.3,2435.62L1498.96,2435.62L1503.13,2427.95L1478.13,2427.95Z" fill="#37AD6B"/><path d="M1518.3,2471.31L1530.8,2448.31L1505.8,2448.31Z" fill="#fff" stroke="#37AD6B" stroke-width="2.0"/><path d="M1509.97,2455.98L1526.63,2455.98L1530.8,2448.31L1505.8,2448.31Z" fill="#37AD6B"/><path d="M1549.09,2479.07L1561.59,2456.07L1536.59,2456.07Z" fill="#fff" stroke="#37AD6B" stroke-width="2.0"/><path d="M1540.76,2463.74L1557.43,2463.74L1561.59,2456.07L1536.59,2456.07Z" fill="#37AD6B"/><path d="M1584.8,2492.64L1597.3,2469.64L1572.3,2469.64Z" fill="#fff" stroke="#37AD6B" stroke-width="2.0"/><path d="M1576.47,2477.31L1593.13,2477.31L1597.3,2469.64L1572.3,2469.64Z" fill="#37AD6B"/><path d="M1627.64,2506.22L1640.14,2483.22L1615.14,2483.22Z" fill="#fff" stroke="#37AD6B" stroke-width="2.0"/><path d="M1619.31,2490.88L1635.98,2490.88L1640.14,2483.22L1615.14,2483.22Z" fill="#37AD6B"/><path d="M1683.43,2517.21L1695.93,2494.21L1670.93,2494.21Z" fill="#fff" stroke="#37AD6B" stroke-width="2.0"/><path d="M1675.1,2501.87L1691.76,2501.87L1695.93,2494.21L1670.93,2494.21Z" fill="#37AD6B"/><path d="M1760.64,2524.64L1773.14,2501.64L1748.14,2501.64Z" fill="#fff" stroke="#37AD6B" stroke-width="2.0"/><path d="M1752.31,2509.31L1768.97,2509.31L1773.14,2501.64L1748.14,2501.64Z" fill="#37AD6B"/><path d="M1857.04,2530.13L1869.54,2507.13L1844.54,2507.13Z" fill="#fff" stroke="#37AD6B" stroke-width="2.0"/><path d="M1848.71,2514.8L1865.38,2514.8L1869.54,2507.13L1844.54,2507.13Z" fill="#37AD6B"/><path d="M1994.06,2534.01L2006.56,2511.01L1981.56,2511.01Z" fill="#fff" stroke="#37AD6B" stroke-width="2.0"/><path d="M1985.72,2518.68L2002.39,2518.68L2006.56,2511.01L1981.56,2511.01Z" fill="#37AD6B"/><path d="M2175.7,2540.15L2188.2,2517.15L2163.2,2517.15Z" fill="#fff" stroke="#37AD6B" stroke-width="2.0"/><path d="M2167.37,2524.82L2184.03,2524.82L2188.2,2517.15L2163.2,2517.15Z" fill="#37AD6B"/><polyline points="1331.3,2161.87 1339.78,2153.46 1348.71,2094.96 1357.63,1935.63 1367,2108.86 1377.27,2258.18 1388.43,2346.09 1400.48,2371.3 1413.87,2385.2 1429.04,2409.11 1446.45,2423.01 1466.98,2435.62 1490.63,2452.42 1518.3,2465.03 1549.09,2474.72 1584.8,2484.42 1627.64,2496.7 1683.43,2505.1 1760.64,2512.22 1857.04,2516.74 1994.06,2519 2175.7,2526.44" fill="none" stroke="#B177DE" stroke-width="3.6" stroke-linejoin="round" stroke-linecap="round"/><path d="M1331.3,2147.37L1344.8,2161.87L1331.3,2176.37L1317.8,2161.87Z" fill="#fff" stroke="#B177DE" stroke-width="2.0"/><path d="M1317.8,2161.87L1331.3,2147.37L1344.8,2161.87Z" fill="#B177DE"/><path d="M1339.78,2138.96L1353.28,2153.46L1339.78,2167.96L1326.28,2153.46Z" fill="#fff" stroke="#B177DE" stroke-width="2.0"/><path d="M1326.28,2153.46L1339.78,2138.96L1353.28,2153.46Z" fill="#B177DE"/><path d="M1348.71,2080.46L1362.21,2094.96L1348.71,2109.46L1335.21,2094.96Z" fill="#fff" stroke="#B177DE" stroke-width="2.0"/><path d="M1335.21,2094.96L1348.71,2080.46L1362.21,2094.96Z" fill="#B177DE"/><path d="M1357.63,1921.13L1371.13,1935.63L1357.63,1950.13L1344.13,1935.63Z" fill="#fff" stroke="#B177DE" stroke-width="2.0"/><path d="M1344.13,1935.63L1357.63,1921.13L1371.13,1935.63Z" fill="#B177DE"/><path d="M1367,2094.36L1380.5,2108.86L1367,2123.36L1353.5,2108.86Z" fill="#fff" stroke="#B177DE" stroke-width="2.0"/><path d="M1353.5,2108.86L1367,2094.36L1380.5,2108.86Z" fill="#B177DE"/><path d="M1377.27,2243.68L1390.77,2258.18L1377.27,2272.68L1363.77,2258.18Z" fill="#fff" stroke="#B177DE" stroke-width="2.0"/><path d="M1363.77,2258.18L1377.27,2243.68L1390.77,2258.18Z" fill="#B177DE"/><path d="M1388.43,2331.59L1401.93,2346.09L1388.43,2360.59L1374.93,2346.09Z" fill="#fff" stroke="#B177DE" stroke-width="2.0"/><path d="M1374.93,2346.09L1388.43,2331.59L1401.93,2346.09Z" fill="#B177DE"/><path d="M1400.48,2356.8L1413.98,2371.3L1400.48,2385.8L1386.98,2371.3Z" fill="#fff" stroke="#B177DE" stroke-width="2.0"/><path d="M1386.98,2371.3L1400.48,2356.8L1413.98,2371.3Z" fill="#B177DE"/><path d="M1413.87,2370.7L1427.37,2385.2L1413.87,2399.7L1400.37,2385.2Z" fill="#fff" stroke="#B177DE" stroke-width="2.0"/><path d="M1400.37,2385.2L1413.87,2370.7L1427.37,2385.2Z" fill="#B177DE"/><path d="M1429.04,2394.61L1442.54,2409.11L1429.04,2423.61L1415.54,2409.11Z" fill="#fff" stroke="#B177DE" stroke-width="2.0"/><path d="M1415.54,2409.11L1429.04,2394.61L1442.54,2409.11Z" fill="#B177DE"/><path d="M1446.45,2408.51L1459.95,2423.01L1446.45,2437.51L1432.95,2423.01Z" fill="#fff" stroke="#B177DE" stroke-width="2.0"/><path d="M1432.95,2423.01L1446.45,2408.51L1459.95,2423.01Z" fill="#B177DE"/><path d="M1466.98,2421.12L1480.48,2435.62L1466.98,2450.12L1453.48,2435.62Z" fill="#fff" stroke="#B177DE" stroke-width="2.0"/><path d="M1453.48,2435.62L1466.98,2421.12L1480.48,2435.62Z" fill="#B177DE"/><path d="M1490.63,2437.92L1504.13,2452.42L1490.63,2466.92L1477.13,2452.42Z" fill="#fff" stroke="#B177DE" stroke-width="2.0"/><path d="M1477.13,2452.42L1490.63,2437.92L1504.13,2452.42Z" fill="#B177DE"/><path d="M1518.3,2450.53L1531.8,2465.03L1518.3,2479.53L1504.8,2465.03Z" fill="#fff" stroke="#B177DE" stroke-width="2.0"/><path d="M1504.8,2465.03L1518.3,2450.53L1531.8,2465.03Z" fill="#B177DE"/><path d="M1549.09,2460.22L1562.59,2474.72L1549.09,2489.22L1535.59,2474.72Z" fill="#fff" stroke="#B177DE" stroke-width="2.0"/><path d="M1535.59,2474.72L1549.09,2460.22L1562.59,2474.72Z" fill="#B177DE"/><path d="M1584.8,2469.92L1598.3,2484.42L1584.8,2498.92L1571.3,2484.42Z" fill="#fff" stroke="#B177DE" stroke-width="2.0"/><path d="M1571.3,2484.42L1584.8,2469.92L1598.3,2484.42Z" fill="#B177DE"/><path d="M1627.64,2482.2L1641.14,2496.7L1627.64,2511.2L1614.14,2496.7Z" fill="#fff" stroke="#B177DE" stroke-width="2.0"/><path d="M1614.14,2496.7L1627.64,2482.2L1641.14,2496.7Z" fill="#B177DE"/><path d="M1683.43,2490.6L1696.93,2505.1L1683.43,2519.6L1669.93,2505.1Z" fill="#fff" stroke="#B177DE" stroke-width="2.0"/><path d="M1669.93,2505.1L1683.43,2490.6L1696.93,2505.1Z" fill="#B177DE"/><path d="M1760.64,2497.72L1774.14,2512.22L1760.64,2526.72L1747.14,2512.22Z" fill="#fff" stroke="#B177DE" stroke-width="2.0"/><path d="M1747.14,2512.22L1760.64,2497.72L1774.14,2512.22Z" fill="#B177DE"/><path d="M1857.04,2502.24L1870.54,2516.74L1857.04,2531.24L1843.54,2516.74Z" fill="#fff" stroke="#B177DE" stroke-width="2.0"/><path d="M1843.54,2516.74L1857.04,2502.24L1870.54,2516.74Z" fill="#B177DE"/><path d="M1994.06,2504.5L2007.56,2519L1994.06,2533.5L1980.56,2519Z" fill="#fff" stroke="#B177DE" stroke-width="2.0"/><path d="M1980.56,2519L1994.06,2504.5L2007.56,2519Z" fill="#B177DE"/><path d="M2175.7,2511.94L2189.2,2526.44L2175.7,2540.94L2162.2,2526.44Z" fill="#fff" stroke="#B177DE" stroke-width="2.0"/><path d="M2162.2,2526.44L2175.7,2511.94L2189.2,2526.44Z" fill="#B177DE"/></g><path d="M1283.1,2539V2526M1283.1,1821.5V1834.5M1372.36,2539V2526M1372.36,1821.5V1834.5M1461.62,2539V2526M1461.62,1821.5V1834.5M1550.88,2539V2526M1550.88,1821.5V1834.5M1640.14,2539V2526M1640.14,1821.5V1834.5M1729.4,2539V2526M1729.4,1821.5V1834.5M1818.66,2539V2526M1818.66,1821.5V1834.5M1907.92,2539V2526M1907.92,1821.5V1834.5M1997.18,2539V2526M1997.18,1821.5V1834.5M2086.44,2539V2526M2086.44,1821.5V1834.5M1327.73,2539V2532.5M1327.73,1821.5V1828M1416.99,2539V2532.5M1416.99,1821.5V1828M1506.25,2539V2532.5M1506.25,1821.5V1828M1595.51,2539V2532.5M1595.51,1821.5V1828M1684.77,2539V2532.5M1684.77,1821.5V1828M1774.03,2539V2532.5M1774.03,1821.5V1828M1863.29,2539V2532.5M1863.29,1821.5V1828M1952.55,2539V2532.5M1952.55,1821.5V1828M2041.81,2539V2532.5M2041.81,1821.5V1828M1283.1,2532.9H1296.1M2086.4,2532.9H2073.4M1283.1,2371.3H1296.1M2086.4,2371.3H2073.4M1283.1,2209.7H1296.1M2086.4,2209.7H2073.4M1283.1,2048.1H1296.1M2086.4,2048.1H2073.4M1283.1,1886.5H1296.1M2086.4,1886.5H2073.4M1283.1,2452.1H1289.6M2086.4,2452.1H2079.9M1283.1,2290.5H1289.6M2086.4,2290.5H2079.9M1283.1,2128.9H1289.6M2086.4,2128.9H2079.9M1283.1,1967.3H1289.6M2086.4,1967.3H2079.9" stroke="#000" stroke-width="3.2" fill="none"/><rect x="1283.1" y="1821.5" width="803.3" height="717.5" fill="none" stroke="#000" stroke-width="3.7"/><line x1="1640.6" y1="1880.3" x2="1784.1" y2="1880.3" stroke="#515151" stroke-width="3.8"/><path d="M1702.1,1869.8H1723.1V1890.8H1702.1Z" fill="#fff" stroke="#515151" stroke-width="2.0"/><path d="M1702.1,1869.8H1723.1V1880.3H1702.1Z" fill="#515151"/><line x1="1640.6" y1="1957.6" x2="1784.1" y2="1957.6" stroke="#F14040" stroke-width="3.8"/><path d="M1701.2,1957.6A11.4,11.4 0 1 1 1724,1957.6A11.4,11.4 0 1 1 1701.2,1957.6Z" fill="#fff" stroke="#F14040" stroke-width="2.0"/><path d="M1701.2,1957.6A11.4,11.4 0 0 1 1724,1957.6Z" fill="#F14040"/><line x1="1640.6" y1="2034.9" x2="1784.1" y2="2034.9" stroke="#1A6FDF" stroke-width="3.8"/><path d="M1712.6,2019.57L1725.1,2042.57L1700.1,2042.57Z" fill="#fff" stroke="#1A6FDF" stroke-width="2.0"/><path d="M1712.6,2019.57L1720.93,2034.9L1704.27,2034.9Z" fill="#1A6FDF"/><line x1="1640.6" y1="2112.2" x2="1784.1" y2="2112.2" stroke="#37AD6B" stroke-width="3.8"/><path d="M1712.6,2127.53L1725.1,2104.53L1700.1,2104.53Z" fill="#fff" stroke="#37AD6B" stroke-width="2.0"/><path d="M1704.27,2112.2L1720.93,2112.2L1725.1,2104.53L1700.1,2104.53Z" fill="#37AD6B"/><line x1="1640.6" y1="2189.5" x2="1784.1" y2="2189.5" stroke="#B177DE" stroke-width="3.8"/><path d="M1712.6,2175L1726.1,2189.5L1712.6,2204L1699.1,2189.5Z" fill="#fff" stroke="#B177DE" stroke-width="2.0"/><path d="M1699.1,2189.5L1712.6,2175L1726.1,2189.5Z" fill="#B177DE"/><g style="font-family:'Liberation Sans',Arial,sans-serif" fill="#000"><text transform="matrix(0.50346 0.00000 0.00000 0.65300 1771.17230 765.70000)" font-size="100">HrP_500</text><text transform="matrix(0.50346 0.00000 0.00000 0.65300 1771.17230 846.50000)" font-size="100">HrC_Z400</text><text transform="matrix(0.50346 0.00000 0.00000 0.65300 1771.17230 927.30000)" font-size="100">HrC_Z500</text><text transform="matrix(0.50346 0.00000 0.00000 0.65300 1771.17230 1008.10000)" font-size="100">HrC_Z600</text><text transform="matrix(0.50346 0.00000 0.00000 0.65300 1771.17230 1088.90000)" font-size="100">HrC_Z700</text><text transform="matrix(0.48000 0.00000 0.00000 0.60000 172.54000 1603.50000)" font-size="100">0</text><text transform="matrix(0.48000 0.00000 0.00000 0.60000 119.26000 1308.64000)" font-size="100">100</text><text transform="matrix(0.48000 0.00000 0.00000 0.60000 119.26000 1013.78000)" font-size="100">200</text><text transform="matrix(0.48000 0.00000 0.00000 0.60000 119.26000 718.92000)" font-size="100">300</text><text transform="matrix(0.48000 0.00000 0.00000 0.60000 119.26000 424.06000)" font-size="100">400</text><text transform="matrix(0.48000 0.00000 0.00000 0.60000 119.26000 129.20000)" font-size="100">500</text><text transform="matrix(0.48000 0.00000 0.00000 0.60000 203.24000 1682.20000)" font-size="100">0.0</text><text transform="matrix(0.48000 0.00000 0.00000 0.60000 569.26000 1682.20000)" font-size="100">0.2</text><text transform="matrix(0.48000 0.00000 0.00000 0.60000 934.56000 1682.20000)" font-size="100">0.4</text><text transform="matrix(0.48000 0.00000 0.00000 0.60000 1300.58000 1682.20000)" font-size="100">0.6</text><text transform="matrix(0.48000 0.00000 0.00000 0.60000 1666.36000 1682.20000)" font-size="100">0.8</text><text transform="matrix(0.48000 0.00000 0.00000 0.60000 2031.18000 1682.20000)" font-size="100">1.0</text><text transform="matrix(0.66964 0.00000 0.00000 0.83404 31.25179 97.88511)" font-size="100" font-weight="bold">(a)</text><text transform="matrix(0.00000 -0.57694 0.71915 0.00000 91.59787 1026.67694)" font-size="100">Volume @ STP (cc/g)</text><text transform="matrix(0.59324 0.00000 0.00000 0.68630 1114.65405 1765.80000)" font-size="100">P/P</text><text transform="matrix(0.40417 0.00000 0.00000 0.49437 1209.98333 1784.60563)" font-size="100">0</text><text transform="matrix(0.49290 0.00000 0.00000 0.62000 736.75680 1895.50000)" font-size="100">HrP_500</text><text transform="matrix(0.49290 0.00000 0.00000 0.62000 736.75680 1972.80000)" font-size="100">HrC_Z400</text><text transform="matrix(0.49290 0.00000 0.00000 0.62000 736.75680 2050.10000)" font-size="100">HrC_Z500</text><text transform="matrix(0.49290 0.00000 0.00000 0.62000 736.75680 2127.40000)" font-size="100">HrC_Z600</text><text transform="matrix(0.49290 0.00000 0.00000 0.62000 736.75680 2204.70000)" font-size="100">HrC_Z700</text><text transform="matrix(0.48000 0.00000 0.00000 0.60000 132.50000 2547.90000)" font-size="100">0.0</text><text transform="matrix(0.48000 0.00000 0.00000 0.60000 132.50000 2338.90000)" font-size="100">0.5</text><text transform="matrix(0.48000 0.00000 0.00000 0.60000 132.50000 2129.90000)" font-size="100">1.0</text><text transform="matrix(0.48000 0.00000 0.00000 0.60000 132.50000 1920.60000)" font-size="100">1.5</text><text transform="matrix(0.48000 0.00000 0.00000 0.60000 203.86000 2600.50000)" font-size="100">0</text><text transform="matrix(0.48000 0.00000 0.00000 0.60000 403.84000 2600.50000)" font-size="100">1</text><text transform="matrix(0.48000 0.00000 0.00000 0.60000 605.26000 2600.80000)" font-size="100">2</text><text transform="matrix(0.48000 0.00000 0.00000 0.60000 806.20000 2600.50000)" font-size="100">3</text><text transform="matrix(0.48000 0.00000 0.00000 0.60000 1006.90000 2600.80000)" font-size="100">4</text><text transform="matrix(0.62966 0.00000 0.00000 0.78511 37.95169 1876.61277)" font-size="100" font-weight="bold">(b)</text><text transform="matrix(0.00000 -0.56317 0.71170 0.00000 110.25426 2373.25266)" font-size="100">dV(r) (cc/nm/g)</text><text transform="matrix(0.56256 0.00000 0.00000 0.71300 358.49954 2692.50000)" font-size="100">Half pore width (nm)</text><text transform="matrix(0.49310 0.00000 0.00000 0.63099 242.02759 1889.16901)" font-size="100">0.286 nm</text><text transform="matrix(0.00000 -0.50041 0.62958 0.00000 343.57042 2048.30166)" font-size="100">0.587</text><text transform="matrix(0.00000 -0.49504 0.61831 0.00000 397.88169 2051.98017)" font-size="100">0.705</text><text transform="matrix(0.00000 -0.50871 0.61972 0.00000 417.38028 2247.63485)" font-size="100">0.882</text><text transform="matrix(0.49200 0.00000 0.00000 0.61500 1795.26400 1902.40000)" font-size="100">HrP_500</text><text transform="matrix(0.49200 0.00000 0.00000 0.61500 1795.26400 1979.70000)" font-size="100">HrC_Z400</text><text transform="matrix(0.49200 0.00000 0.00000 0.61500 1795.26400 2057.00000)" font-size="100">HrC_Z500</text><text transform="matrix(0.49200 0.00000 0.00000 0.61500 1795.26400 2134.30000)" font-size="100">HrC_Z600</text><text transform="matrix(0.49200 0.00000 0.00000 0.61500 1795.26400 2211.60000)" font-size="100">HrC_Z700</text><text transform="matrix(0.49200 0.00000 0.00000 0.61500 1169.02800 2550.41750)" font-size="100">0.00</text><text transform="matrix(0.49200 0.00000 0.00000 0.61500 1169.52000 2388.81750)" font-size="100">0.05</text><text transform="matrix(0.49200 0.00000 0.00000 0.61500 1169.02800 2227.21750)" font-size="100">0.10</text><text transform="matrix(0.49200 0.00000 0.00000 0.61500 1169.52000 2065.61750)" font-size="100">0.15</text><text transform="matrix(0.49200 0.00000 0.00000 0.61500 1169.02800 1904.01750)" font-size="100">0.20</text><text transform="matrix(0.48400 0.00000 0.00000 0.60500 1269.54800 2601.07500)" font-size="100">2</text><text transform="matrix(0.48400 0.00000 0.00000 0.60500 1359.05000 2601.07500)" font-size="100">4</text><text transform="matrix(0.48400 0.00000 0.00000 0.60500 1448.06800 2600.77250)" font-size="100">6</text><text transform="matrix(0.48400 0.00000 0.00000 0.60500 1537.57000 2600.77250)" font-size="100">8</text><text transform="matrix(0.48400 0.00000 0.00000 0.60500 1612.31000 2600.77250)" font-size="100">10</text><text transform="matrix(0.48400 0.00000 0.00000 0.60500 1701.81200 2601.07500)" font-size="100">12</text><text transform="matrix(0.48400 0.00000 0.00000 0.60500 1790.58800 2600.77250)" font-size="100">14</text><text transform="matrix(0.48400 0.00000 0.00000 0.60500 1880.09000 2600.77250)" font-size="100">16</text><text transform="matrix(0.48400 0.00000 0.00000 0.60500 1969.35000 2600.77250)" font-size="100">18</text><text transform="matrix(0.48400 0.00000 0.00000 0.60500 2059.33600 2600.77250)" font-size="100">20</text><text transform="matrix(0.65357 0.00000 0.00000 0.78617 1074.23214 1879.29043)" font-size="100" font-weight="bold">(c)</text><text transform="matrix(0.00000 -0.56880 0.71170 0.00000 1148.35426 2375.97519)" font-size="100">dV(r) (cc/nm/g)</text><text transform="matrix(0.56423 0.00000 0.00000 0.70319 1436.78619 2692.03298)" font-size="100">Pore diameter (nm)</text><text transform="matrix(0.49110 0.00000 0.00000 0.62800 1315.63562 1897.40000)" font-size="100">3.67 nm</text></g></svg></body></html>
